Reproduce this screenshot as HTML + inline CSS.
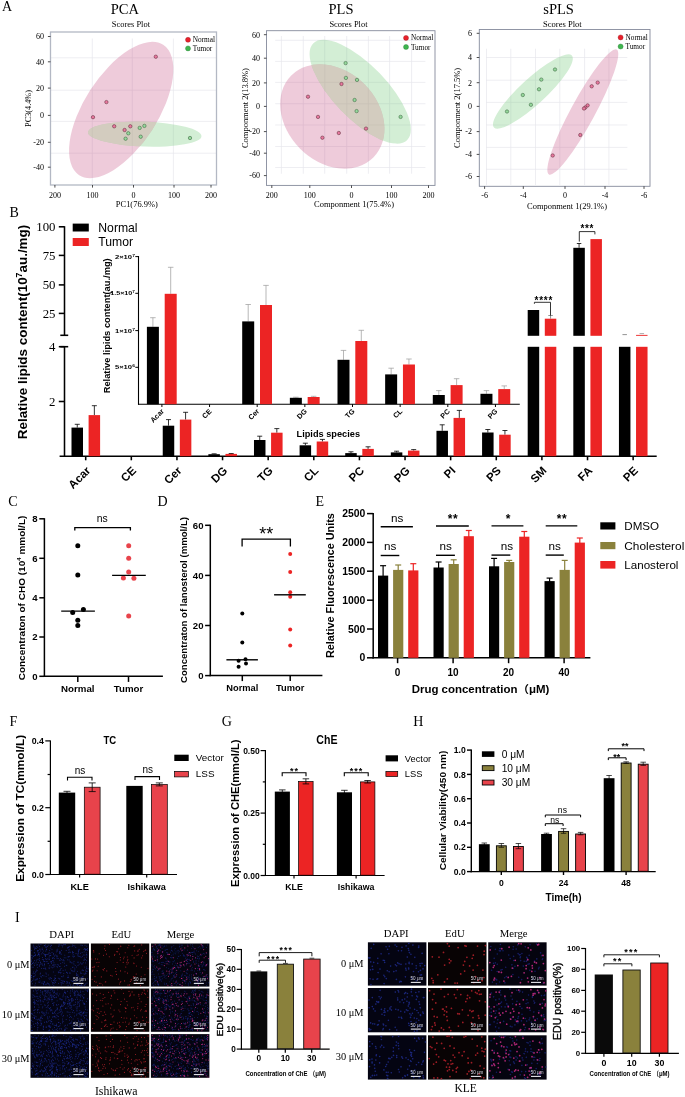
<!DOCTYPE html>
<html><head><meta charset="utf-8"><title>Figure</title>
<style>html,body{margin:0;padding:0;background:#fff}svg{display:block}text{white-space:pre}</style>
</head><body>
<svg width="685" height="1097" viewBox="0 0 685 1097">
<defs><filter id="bl" x="-5%" y="-5%" width="110%" height="110%"><feGaussianBlur stdDeviation="0.28"/></filter></defs>
<rect width="685" height="1097" fill="#fff"/>
<text x="2.00" y="10.90" font-size="14" font-family="Liberation Serif, Noto Serif CJK SC, serif" >A</text>
<line x1="92.30" y1="38.50" x2="92.30" y2="184.50" stroke="#e6e6ec" stroke-width="0.7"/>
<line x1="132.30" y1="38.50" x2="132.30" y2="184.50" stroke="#e6e6ec" stroke-width="0.7"/>
<line x1="173.40" y1="38.50" x2="173.40" y2="184.50" stroke="#e6e6ec" stroke-width="0.7"/>
<line x1="51.00" y1="57.80" x2="216.00" y2="57.80" stroke="#e6e6ec" stroke-width="0.7"/>
<line x1="51.00" y1="90.20" x2="216.00" y2="90.20" stroke="#e6e6ec" stroke-width="0.7"/>
<line x1="51.00" y1="121.40" x2="216.00" y2="121.40" stroke="#e6e6ec" stroke-width="0.7"/>
<line x1="51.00" y1="153.20" x2="216.00" y2="153.20" stroke="#e6e6ec" stroke-width="0.7"/>
<ellipse cx="121.2" cy="110" rx="77.5" ry="36.8" transform="rotate(-57.2 121.2 110)" fill="#cc6390" fill-opacity="0.335"/>
<ellipse cx="144.7" cy="134.2" rx="56.8" ry="12.4" transform="rotate(2 144.7 134.2)" fill="#7ccb82" fill-opacity="0.335"/>
<clipPath id="cpPCA"><ellipse cx="121.2" cy="110" rx="77.5" ry="36.8" transform="rotate(-57.2 121.2 110)"/></clipPath>
<clipPath id="cpPCAb"><ellipse cx="144.7" cy="134.2" rx="56.8" ry="12.4" transform="rotate(2 144.7 134.2)"/></clipPath>
<g clip-path="url(#cpPCA)"><g clip-path="url(#cpPCAb)"><rect x="50.5" y="32" width="166.0" height="153" fill="#d3ccbf"/>
<line x1="92.30" y1="38.50" x2="92.30" y2="184.50" stroke="#c9c2b6" stroke-width="0.7"/>
<line x1="132.30" y1="38.50" x2="132.30" y2="184.50" stroke="#c9c2b6" stroke-width="0.7"/>
<line x1="173.40" y1="38.50" x2="173.40" y2="184.50" stroke="#c9c2b6" stroke-width="0.7"/>
<line x1="51.00" y1="57.80" x2="216.00" y2="57.80" stroke="#c9c2b6" stroke-width="0.7"/>
<line x1="51.00" y1="90.20" x2="216.00" y2="90.20" stroke="#c9c2b6" stroke-width="0.7"/>
<line x1="51.00" y1="121.40" x2="216.00" y2="121.40" stroke="#c9c2b6" stroke-width="0.7"/>
<line x1="51.00" y1="153.20" x2="216.00" y2="153.20" stroke="#c9c2b6" stroke-width="0.7"/>
</g></g>
<circle cx="155.80" cy="56.70" r="1.7" fill="#e8789f" stroke="#55232f" stroke-width="0.5"/>
<circle cx="106.40" cy="102.10" r="1.7" fill="#e8789f" stroke="#55232f" stroke-width="0.5"/>
<circle cx="93.00" cy="117.20" r="1.7" fill="#e8789f" stroke="#55232f" stroke-width="0.5"/>
<circle cx="114.20" cy="126.30" r="1.7" fill="#e8789f" stroke="#55232f" stroke-width="0.5"/>
<circle cx="124.60" cy="130.00" r="1.7" fill="#e8789f" stroke="#55232f" stroke-width="0.5"/>
<circle cx="130.30" cy="126.30" r="1.7" fill="#e8789f" stroke="#55232f" stroke-width="0.5"/>
<circle cx="139.70" cy="127.90" r="1.7" fill="#95d79b" stroke="#2f5a35" stroke-width="0.5"/>
<circle cx="144.40" cy="125.90" r="1.7" fill="#95d79b" stroke="#2f5a35" stroke-width="0.5"/>
<circle cx="128.30" cy="133.30" r="1.7" fill="#95d79b" stroke="#2f5a35" stroke-width="0.5"/>
<circle cx="125.60" cy="138.70" r="1.7" fill="#95d79b" stroke="#2f5a35" stroke-width="0.5"/>
<circle cx="140.70" cy="136.70" r="1.7" fill="#95d79b" stroke="#2f5a35" stroke-width="0.5"/>
<circle cx="190.00" cy="138.00" r="1.7" fill="#95d79b" stroke="#2f5a35" stroke-width="0.5"/>
<rect x="50.50" y="32.00" width="166.00" height="153.00" fill="none" stroke="#b3b8c4" stroke-width="1.3"/>
<text x="124.90" y="13.90" font-size="14.5" font-family="Liberation Serif, Noto Serif CJK SC, serif" text-anchor="middle" >PCA</text>
<text x="130.90" y="26.80" font-size="8.4" font-family="Liberation Serif, Noto Serif CJK SC, serif" text-anchor="middle" textLength="38.2" lengthAdjust="spacingAndGlyphs" >Scores Plot</text>
<line x1="47.90" y1="36.50" x2="50.50" y2="36.50" stroke="#222" stroke-width="0.8"/>
<text x="44.00" y="39.30" font-size="8" font-family="Liberation Serif, Noto Serif CJK SC, serif" text-anchor="end" >60</text>
<line x1="47.90" y1="61.80" x2="50.50" y2="61.80" stroke="#222" stroke-width="0.8"/>
<text x="44.00" y="64.60" font-size="8" font-family="Liberation Serif, Noto Serif CJK SC, serif" text-anchor="end" >40</text>
<line x1="47.90" y1="88.10" x2="50.50" y2="88.10" stroke="#222" stroke-width="0.8"/>
<text x="44.00" y="90.90" font-size="8" font-family="Liberation Serif, Noto Serif CJK SC, serif" text-anchor="end" >20</text>
<line x1="47.90" y1="115.40" x2="50.50" y2="115.40" stroke="#222" stroke-width="0.8"/>
<text x="44.00" y="118.20" font-size="8" font-family="Liberation Serif, Noto Serif CJK SC, serif" text-anchor="end" >0</text>
<line x1="47.90" y1="142.30" x2="50.50" y2="142.30" stroke="#222" stroke-width="0.8"/>
<text x="44.00" y="145.10" font-size="8" font-family="Liberation Serif, Noto Serif CJK SC, serif" text-anchor="end" >-20</text>
<line x1="47.90" y1="167.20" x2="50.50" y2="167.20" stroke="#222" stroke-width="0.8"/>
<text x="44.00" y="170.00" font-size="8" font-family="Liberation Serif, Noto Serif CJK SC, serif" text-anchor="end" >-40</text>
<line x1="54.90" y1="185.00" x2="54.90" y2="187.60" stroke="#222" stroke-width="0.8"/>
<text x="54.90" y="198.30" font-size="8" font-family="Liberation Serif, Noto Serif CJK SC, serif" text-anchor="middle" >200</text>
<line x1="92.50" y1="185.00" x2="92.50" y2="187.60" stroke="#222" stroke-width="0.8"/>
<text x="92.50" y="198.30" font-size="8" font-family="Liberation Serif, Noto Serif CJK SC, serif" text-anchor="middle" >100</text>
<line x1="133.50" y1="185.00" x2="133.50" y2="187.60" stroke="#222" stroke-width="0.8"/>
<text x="133.50" y="198.30" font-size="8" font-family="Liberation Serif, Noto Serif CJK SC, serif" text-anchor="middle" >0</text>
<line x1="174.00" y1="185.00" x2="174.00" y2="187.60" stroke="#222" stroke-width="0.8"/>
<text x="174.00" y="198.30" font-size="8" font-family="Liberation Serif, Noto Serif CJK SC, serif" text-anchor="middle" >100</text>
<line x1="211.00" y1="185.00" x2="211.00" y2="187.60" stroke="#222" stroke-width="0.8"/>
<text x="211.00" y="198.30" font-size="8" font-family="Liberation Serif, Noto Serif CJK SC, serif" text-anchor="middle" >200</text>
<text x="30.60" y="108.50" font-size="8.3" font-family="Liberation Serif, Noto Serif CJK SC, serif" text-anchor="middle" transform="rotate(-90 30.60 108.50)" textLength="36.9" lengthAdjust="spacingAndGlyphs" >PC3(4.4%)</text>
<text x="136.80" y="206.50" font-size="8.4" font-family="Liberation Serif, Noto Serif CJK SC, serif" text-anchor="middle" textLength="42.0" lengthAdjust="spacingAndGlyphs" >PC1(76.9%)</text>
<circle cx="188.00" cy="39.80" r="2.5" fill="#e8202a" stroke="#9a1a20" stroke-width="0.4"/>
<circle cx="188.00" cy="48.40" r="2.5" fill="#3fb54f" stroke="#2a8038" stroke-width="0.4"/>
<text x="192.70" y="42.30" font-size="7.3" font-family="Liberation Serif, Noto Serif CJK SC, serif" >Normal</text>
<text x="192.70" y="50.90" font-size="7.3" font-family="Liberation Serif, Noto Serif CJK SC, serif" >Tumor</text>
<line x1="281.40" y1="36.00" x2="281.40" y2="173.70" stroke="#e6e6ec" stroke-width="0.7"/>
<line x1="303.30" y1="36.00" x2="303.30" y2="173.70" stroke="#e6e6ec" stroke-width="0.7"/>
<line x1="324.70" y1="36.00" x2="324.70" y2="173.70" stroke="#e6e6ec" stroke-width="0.7"/>
<line x1="346.70" y1="36.00" x2="346.70" y2="173.70" stroke="#e6e6ec" stroke-width="0.7"/>
<line x1="368.40" y1="36.00" x2="368.40" y2="173.70" stroke="#e6e6ec" stroke-width="0.7"/>
<line x1="389.60" y1="36.00" x2="389.60" y2="173.70" stroke="#e6e6ec" stroke-width="0.7"/>
<line x1="411.60" y1="36.00" x2="411.60" y2="173.70" stroke="#e6e6ec" stroke-width="0.7"/>
<line x1="275.20" y1="40.30" x2="425.40" y2="40.30" stroke="#e6e6ec" stroke-width="0.7"/>
<line x1="275.20" y1="61.40" x2="425.40" y2="61.40" stroke="#e6e6ec" stroke-width="0.7"/>
<line x1="275.20" y1="82.40" x2="425.40" y2="82.40" stroke="#e6e6ec" stroke-width="0.7"/>
<line x1="275.20" y1="103.70" x2="425.40" y2="103.70" stroke="#e6e6ec" stroke-width="0.7"/>
<line x1="275.20" y1="125.00" x2="425.40" y2="125.00" stroke="#e6e6ec" stroke-width="0.7"/>
<line x1="275.20" y1="146.50" x2="425.40" y2="146.50" stroke="#e6e6ec" stroke-width="0.7"/>
<line x1="275.20" y1="167.50" x2="425.40" y2="167.50" stroke="#e6e6ec" stroke-width="0.7"/>
<ellipse cx="332.3" cy="116.5" rx="58" ry="45.5" transform="rotate(45 332.3 116.5)" fill="#cc6390" fill-opacity="0.335"/>
<ellipse cx="360.2" cy="91.7" rx="67.4" ry="26.8" transform="rotate(46 360.2 91.7)" fill="#7ccb82" fill-opacity="0.335"/>
<clipPath id="cpPLS"><ellipse cx="332.3" cy="116.5" rx="58" ry="45.5" transform="rotate(45 332.3 116.5)"/></clipPath>
<clipPath id="cpPLSb"><ellipse cx="360.2" cy="91.7" rx="67.4" ry="26.8" transform="rotate(46 360.2 91.7)"/></clipPath>
<g clip-path="url(#cpPLS)"><g clip-path="url(#cpPLSb)"><rect x="266.5" y="30.7" width="168.5" height="154.70000000000002" fill="#d3ccbf"/>
<line x1="281.40" y1="36.00" x2="281.40" y2="173.70" stroke="#c9c2b6" stroke-width="0.7"/>
<line x1="303.30" y1="36.00" x2="303.30" y2="173.70" stroke="#c9c2b6" stroke-width="0.7"/>
<line x1="324.70" y1="36.00" x2="324.70" y2="173.70" stroke="#c9c2b6" stroke-width="0.7"/>
<line x1="346.70" y1="36.00" x2="346.70" y2="173.70" stroke="#c9c2b6" stroke-width="0.7"/>
<line x1="368.40" y1="36.00" x2="368.40" y2="173.70" stroke="#c9c2b6" stroke-width="0.7"/>
<line x1="389.60" y1="36.00" x2="389.60" y2="173.70" stroke="#c9c2b6" stroke-width="0.7"/>
<line x1="411.60" y1="36.00" x2="411.60" y2="173.70" stroke="#c9c2b6" stroke-width="0.7"/>
<line x1="275.20" y1="40.30" x2="425.40" y2="40.30" stroke="#c9c2b6" stroke-width="0.7"/>
<line x1="275.20" y1="61.40" x2="425.40" y2="61.40" stroke="#c9c2b6" stroke-width="0.7"/>
<line x1="275.20" y1="82.40" x2="425.40" y2="82.40" stroke="#c9c2b6" stroke-width="0.7"/>
<line x1="275.20" y1="103.70" x2="425.40" y2="103.70" stroke="#c9c2b6" stroke-width="0.7"/>
<line x1="275.20" y1="125.00" x2="425.40" y2="125.00" stroke="#c9c2b6" stroke-width="0.7"/>
<line x1="275.20" y1="146.50" x2="425.40" y2="146.50" stroke="#c9c2b6" stroke-width="0.7"/>
<line x1="275.20" y1="167.50" x2="425.40" y2="167.50" stroke="#c9c2b6" stroke-width="0.7"/>
</g></g>
<circle cx="345.60" cy="63.10" r="1.7" fill="#95d79b" stroke="#2f5a35" stroke-width="0.5"/>
<circle cx="345.90" cy="77.90" r="1.7" fill="#95d79b" stroke="#2f5a35" stroke-width="0.5"/>
<circle cx="357.00" cy="79.90" r="1.7" fill="#95d79b" stroke="#2f5a35" stroke-width="0.5"/>
<circle cx="354.60" cy="100.00" r="1.7" fill="#95d79b" stroke="#2f5a35" stroke-width="0.5"/>
<circle cx="356.60" cy="111.10" r="1.7" fill="#95d79b" stroke="#2f5a35" stroke-width="0.5"/>
<circle cx="400.60" cy="116.90" r="1.7" fill="#95d79b" stroke="#2f5a35" stroke-width="0.5"/>
<circle cx="341.50" cy="84.00" r="1.7" fill="#e8789f" stroke="#55232f" stroke-width="0.5"/>
<circle cx="308.00" cy="96.70" r="1.7" fill="#e8789f" stroke="#55232f" stroke-width="0.5"/>
<circle cx="318.00" cy="116.90" r="1.7" fill="#e8789f" stroke="#55232f" stroke-width="0.5"/>
<circle cx="322.40" cy="137.70" r="1.7" fill="#e8789f" stroke="#55232f" stroke-width="0.5"/>
<circle cx="338.80" cy="133.00" r="1.7" fill="#e8789f" stroke="#55232f" stroke-width="0.5"/>
<circle cx="366.00" cy="128.60" r="1.7" fill="#e8789f" stroke="#55232f" stroke-width="0.5"/>
<rect x="266.50" y="30.70" width="168.50" height="154.70" fill="none" stroke="#858b9c" stroke-width="0.9"/>
<text x="341.00" y="13.90" font-size="14.5" font-family="Liberation Serif, Noto Serif CJK SC, serif" text-anchor="middle" >PLS</text>
<text x="348.45" y="26.80" font-size="8.4" font-family="Liberation Serif, Noto Serif CJK SC, serif" text-anchor="middle" textLength="38.1" lengthAdjust="spacingAndGlyphs" >Scores Plot</text>
<line x1="263.90" y1="34.70" x2="266.50" y2="34.70" stroke="#222" stroke-width="0.8"/>
<text x="260.00" y="37.50" font-size="8" font-family="Liberation Serif, Noto Serif CJK SC, serif" text-anchor="end" >60</text>
<line x1="263.90" y1="58.20" x2="266.50" y2="58.20" stroke="#222" stroke-width="0.8"/>
<text x="260.00" y="61.00" font-size="8" font-family="Liberation Serif, Noto Serif CJK SC, serif" text-anchor="end" >40</text>
<line x1="263.90" y1="82.90" x2="266.50" y2="82.90" stroke="#222" stroke-width="0.8"/>
<text x="260.00" y="85.70" font-size="8" font-family="Liberation Serif, Noto Serif CJK SC, serif" text-anchor="end" >20</text>
<line x1="263.90" y1="106.40" x2="266.50" y2="106.40" stroke="#222" stroke-width="0.8"/>
<text x="260.00" y="109.20" font-size="8" font-family="Liberation Serif, Noto Serif CJK SC, serif" text-anchor="end" >0</text>
<line x1="263.90" y1="131.60" x2="266.50" y2="131.60" stroke="#222" stroke-width="0.8"/>
<text x="260.00" y="134.40" font-size="8" font-family="Liberation Serif, Noto Serif CJK SC, serif" text-anchor="end" >-20</text>
<line x1="263.90" y1="153.20" x2="266.50" y2="153.20" stroke="#222" stroke-width="0.8"/>
<text x="260.00" y="156.00" font-size="8" font-family="Liberation Serif, Noto Serif CJK SC, serif" text-anchor="end" >-40</text>
<line x1="263.90" y1="175.60" x2="266.50" y2="175.60" stroke="#222" stroke-width="0.8"/>
<text x="260.00" y="178.40" font-size="8" font-family="Liberation Serif, Noto Serif CJK SC, serif" text-anchor="end" >-60</text>
<line x1="271.80" y1="185.40" x2="271.80" y2="188.00" stroke="#222" stroke-width="0.8"/>
<text x="271.80" y="198.30" font-size="8" font-family="Liberation Serif, Noto Serif CJK SC, serif" text-anchor="middle" >200</text>
<line x1="309.80" y1="185.40" x2="309.80" y2="188.00" stroke="#222" stroke-width="0.8"/>
<text x="309.80" y="198.30" font-size="8" font-family="Liberation Serif, Noto Serif CJK SC, serif" text-anchor="middle" >100</text>
<line x1="351.50" y1="185.40" x2="351.50" y2="188.00" stroke="#222" stroke-width="0.8"/>
<text x="351.50" y="198.30" font-size="8" font-family="Liberation Serif, Noto Serif CJK SC, serif" text-anchor="middle" >0</text>
<line x1="391.50" y1="185.40" x2="391.50" y2="188.00" stroke="#222" stroke-width="0.8"/>
<text x="391.50" y="198.30" font-size="8" font-family="Liberation Serif, Noto Serif CJK SC, serif" text-anchor="middle" >100</text>
<line x1="428.50" y1="185.40" x2="428.50" y2="188.00" stroke="#222" stroke-width="0.8"/>
<text x="428.50" y="198.30" font-size="8" font-family="Liberation Serif, Noto Serif CJK SC, serif" text-anchor="middle" >200</text>
<text x="247.60" y="108.05" font-size="8.3" font-family="Liberation Serif, Noto Serif CJK SC, serif" text-anchor="middle" transform="rotate(-90 247.60 108.05)" textLength="80.0" lengthAdjust="spacingAndGlyphs" >Componment 2(13.8%)</text>
<text x="354.00" y="206.50" font-size="8.4" font-family="Liberation Serif, Noto Serif CJK SC, serif" text-anchor="middle" textLength="80.0" lengthAdjust="spacingAndGlyphs" >Componment 1(75.4%)</text>
<circle cx="406.00" cy="37.90" r="2.5" fill="#e8202a" stroke="#9a1a20" stroke-width="0.4"/>
<circle cx="406.00" cy="47.00" r="2.5" fill="#3fb54f" stroke="#2a8038" stroke-width="0.4"/>
<text x="410.90" y="40.40" font-size="7.3" font-family="Liberation Serif, Noto Serif CJK SC, serif" >Normal</text>
<text x="410.90" y="49.50" font-size="7.3" font-family="Liberation Serif, Noto Serif CJK SC, serif" >Tumor</text>
<line x1="486.50" y1="48.70" x2="486.50" y2="185.00" stroke="#e6e6ec" stroke-width="0.7"/>
<line x1="510.80" y1="48.70" x2="510.80" y2="185.00" stroke="#e6e6ec" stroke-width="0.7"/>
<line x1="535.50" y1="48.70" x2="535.50" y2="185.00" stroke="#e6e6ec" stroke-width="0.7"/>
<line x1="559.80" y1="48.70" x2="559.80" y2="185.00" stroke="#e6e6ec" stroke-width="0.7"/>
<line x1="584.60" y1="48.70" x2="584.60" y2="185.00" stroke="#e6e6ec" stroke-width="0.7"/>
<line x1="608.90" y1="48.70" x2="608.90" y2="185.00" stroke="#e6e6ec" stroke-width="0.7"/>
<line x1="486.00" y1="57.50" x2="627.30" y2="57.50" stroke="#e6e6ec" stroke-width="0.7"/>
<line x1="486.00" y1="80.20" x2="627.30" y2="80.20" stroke="#e6e6ec" stroke-width="0.7"/>
<line x1="486.00" y1="102.40" x2="627.30" y2="102.40" stroke="#e6e6ec" stroke-width="0.7"/>
<line x1="486.00" y1="125.00" x2="627.30" y2="125.00" stroke="#e6e6ec" stroke-width="0.7"/>
<line x1="486.00" y1="147.40" x2="627.30" y2="147.40" stroke="#e6e6ec" stroke-width="0.7"/>
<line x1="486.00" y1="169.30" x2="627.30" y2="169.30" stroke="#e6e6ec" stroke-width="0.7"/>
<ellipse cx="532.9" cy="91.5" rx="53" ry="12.9" transform="rotate(-42.7 532.9 91.5)" fill="#7ccb82" fill-opacity="0.335"/>
<ellipse cx="582.8" cy="112" rx="71" ry="12" transform="rotate(-61.5 582.8 112)" fill="#cc6390" fill-opacity="0.335"/>
<clipPath id="cpsPLS"><ellipse cx="532.9" cy="91.5" rx="53" ry="12.9" transform="rotate(-42.7 532.9 91.5)"/></clipPath>
<clipPath id="cpsPLSb"><ellipse cx="582.8" cy="112" rx="71" ry="12" transform="rotate(-61.5 582.8 112)"/></clipPath>
<g clip-path="url(#cpsPLS)"><g clip-path="url(#cpsPLSb)"><rect x="479.3" y="29.5" width="170.7" height="156.8" fill="#d3ccbf"/>
<line x1="486.50" y1="48.70" x2="486.50" y2="185.00" stroke="#c9c2b6" stroke-width="0.7"/>
<line x1="510.80" y1="48.70" x2="510.80" y2="185.00" stroke="#c9c2b6" stroke-width="0.7"/>
<line x1="535.50" y1="48.70" x2="535.50" y2="185.00" stroke="#c9c2b6" stroke-width="0.7"/>
<line x1="559.80" y1="48.70" x2="559.80" y2="185.00" stroke="#c9c2b6" stroke-width="0.7"/>
<line x1="584.60" y1="48.70" x2="584.60" y2="185.00" stroke="#c9c2b6" stroke-width="0.7"/>
<line x1="608.90" y1="48.70" x2="608.90" y2="185.00" stroke="#c9c2b6" stroke-width="0.7"/>
<line x1="486.00" y1="57.50" x2="627.30" y2="57.50" stroke="#c9c2b6" stroke-width="0.7"/>
<line x1="486.00" y1="80.20" x2="627.30" y2="80.20" stroke="#c9c2b6" stroke-width="0.7"/>
<line x1="486.00" y1="102.40" x2="627.30" y2="102.40" stroke="#c9c2b6" stroke-width="0.7"/>
<line x1="486.00" y1="125.00" x2="627.30" y2="125.00" stroke="#c9c2b6" stroke-width="0.7"/>
<line x1="486.00" y1="147.40" x2="627.30" y2="147.40" stroke="#c9c2b6" stroke-width="0.7"/>
<line x1="486.00" y1="169.30" x2="627.30" y2="169.30" stroke="#c9c2b6" stroke-width="0.7"/>
</g></g>
<circle cx="555.00" cy="69.50" r="1.7" fill="#95d79b" stroke="#2f5a35" stroke-width="0.5"/>
<circle cx="541.30" cy="79.60" r="1.7" fill="#95d79b" stroke="#2f5a35" stroke-width="0.5"/>
<circle cx="539.00" cy="89.30" r="1.7" fill="#95d79b" stroke="#2f5a35" stroke-width="0.5"/>
<circle cx="522.80" cy="95.00" r="1.7" fill="#95d79b" stroke="#2f5a35" stroke-width="0.5"/>
<circle cx="530.90" cy="104.80" r="1.7" fill="#95d79b" stroke="#2f5a35" stroke-width="0.5"/>
<circle cx="507.00" cy="111.50" r="1.7" fill="#95d79b" stroke="#2f5a35" stroke-width="0.5"/>
<circle cx="597.70" cy="82.60" r="1.7" fill="#e8789f" stroke="#55232f" stroke-width="0.5"/>
<circle cx="591.70" cy="86.30" r="1.7" fill="#e8789f" stroke="#55232f" stroke-width="0.5"/>
<circle cx="587.60" cy="105.40" r="1.7" fill="#e8789f" stroke="#55232f" stroke-width="0.5"/>
<circle cx="585.30" cy="107.50" r="1.7" fill="#e8789f" stroke="#55232f" stroke-width="0.5"/>
<circle cx="584.00" cy="108.50" r="1.7" fill="#e8789f" stroke="#55232f" stroke-width="0.5"/>
<circle cx="580.30" cy="135.00" r="1.7" fill="#e8789f" stroke="#55232f" stroke-width="0.5"/>
<circle cx="552.70" cy="155.50" r="1.7" fill="#e8789f" stroke="#55232f" stroke-width="0.5"/>
<rect x="479.30" y="29.50" width="170.70" height="156.80" fill="none" stroke="#858b9c" stroke-width="0.9"/>
<text x="558.60" y="13.90" font-size="14.5" font-family="Liberation Serif, Noto Serif CJK SC, serif" text-anchor="middle" >sPLS</text>
<text x="562.35" y="26.80" font-size="8.4" font-family="Liberation Serif, Noto Serif CJK SC, serif" text-anchor="middle" textLength="38.7" lengthAdjust="spacingAndGlyphs" >Scores Plot</text>
<line x1="476.70" y1="33.30" x2="479.30" y2="33.30" stroke="#222" stroke-width="0.8"/>
<text x="472.00" y="36.10" font-size="8" font-family="Liberation Serif, Noto Serif CJK SC, serif" text-anchor="end" >6</text>
<line x1="476.70" y1="57.50" x2="479.30" y2="57.50" stroke="#222" stroke-width="0.8"/>
<text x="472.00" y="60.30" font-size="8" font-family="Liberation Serif, Noto Serif CJK SC, serif" text-anchor="end" >4</text>
<line x1="476.70" y1="82.70" x2="479.30" y2="82.70" stroke="#222" stroke-width="0.8"/>
<text x="472.00" y="85.50" font-size="8" font-family="Liberation Serif, Noto Serif CJK SC, serif" text-anchor="end" >2</text>
<line x1="476.70" y1="106.40" x2="479.30" y2="106.40" stroke="#222" stroke-width="0.8"/>
<text x="472.00" y="109.20" font-size="8" font-family="Liberation Serif, Noto Serif CJK SC, serif" text-anchor="end" >0</text>
<line x1="476.70" y1="131.60" x2="479.30" y2="131.60" stroke="#222" stroke-width="0.8"/>
<text x="472.00" y="134.40" font-size="8" font-family="Liberation Serif, Noto Serif CJK SC, serif" text-anchor="end" >-2</text>
<line x1="476.70" y1="154.40" x2="479.30" y2="154.40" stroke="#222" stroke-width="0.8"/>
<text x="472.00" y="157.20" font-size="8" font-family="Liberation Serif, Noto Serif CJK SC, serif" text-anchor="end" >-4</text>
<line x1="476.70" y1="176.50" x2="479.30" y2="176.50" stroke="#222" stroke-width="0.8"/>
<text x="472.00" y="179.30" font-size="8" font-family="Liberation Serif, Noto Serif CJK SC, serif" text-anchor="end" >-6</text>
<line x1="484.60" y1="186.30" x2="484.60" y2="188.90" stroke="#222" stroke-width="0.8"/>
<text x="484.60" y="198.30" font-size="8" font-family="Liberation Serif, Noto Serif CJK SC, serif" text-anchor="middle" >-6</text>
<line x1="523.30" y1="186.30" x2="523.30" y2="188.90" stroke="#222" stroke-width="0.8"/>
<text x="523.30" y="198.30" font-size="8" font-family="Liberation Serif, Noto Serif CJK SC, serif" text-anchor="middle" >-4</text>
<line x1="565.00" y1="186.30" x2="565.00" y2="188.90" stroke="#222" stroke-width="0.8"/>
<text x="565.00" y="198.30" font-size="8" font-family="Liberation Serif, Noto Serif CJK SC, serif" text-anchor="middle" >0</text>
<line x1="605.00" y1="186.30" x2="605.00" y2="188.90" stroke="#222" stroke-width="0.8"/>
<text x="605.00" y="198.30" font-size="8" font-family="Liberation Serif, Noto Serif CJK SC, serif" text-anchor="middle" >-4</text>
<line x1="644.00" y1="186.30" x2="644.00" y2="188.90" stroke="#222" stroke-width="0.8"/>
<text x="644.00" y="198.30" font-size="8" font-family="Liberation Serif, Noto Serif CJK SC, serif" text-anchor="middle" >-6</text>
<text x="460.00" y="107.90" font-size="8.3" font-family="Liberation Serif, Noto Serif CJK SC, serif" text-anchor="middle" transform="rotate(-90 460.00 107.90)" textLength="80.0" lengthAdjust="spacingAndGlyphs" >Componment 2(17.5%)</text>
<text x="567.00" y="208.70" font-size="8.4" font-family="Liberation Serif, Noto Serif CJK SC, serif" text-anchor="middle" textLength="80.0" lengthAdjust="spacingAndGlyphs" >Componment 1(29.1%)</text>
<circle cx="620.60" cy="37.40" r="2.5" fill="#e8202a" stroke="#9a1a20" stroke-width="0.4"/>
<circle cx="620.60" cy="46.50" r="2.5" fill="#3fb54f" stroke="#2a8038" stroke-width="0.4"/>
<text x="625.50" y="39.90" font-size="7.3" font-family="Liberation Serif, Noto Serif CJK SC, serif" >Normal</text>
<text x="625.50" y="49.00" font-size="7.3" font-family="Liberation Serif, Noto Serif CJK SC, serif" >Tumor</text>
<text x="9.40" y="216.90" font-size="14" font-family="Liberation Serif, Noto Serif CJK SC, serif" >B</text>
<line x1="64.50" y1="226.20" x2="64.50" y2="335.30" stroke="#000" stroke-width="1.55"/>
<line x1="60.30" y1="335.30" x2="68.20" y2="335.30" stroke="#000" stroke-width="1.55"/>
<line x1="58.80" y1="226.80" x2="64.50" y2="226.80" stroke="#000" stroke-width="1.55"/>
<text x="55.50" y="231.00" font-size="12.8" font-family="Liberation Serif, Noto Serif CJK SC, serif" text-anchor="end" >100</text>
<line x1="58.80" y1="255.40" x2="64.50" y2="255.40" stroke="#000" stroke-width="1.55"/>
<text x="55.50" y="259.60" font-size="12.8" font-family="Liberation Serif, Noto Serif CJK SC, serif" text-anchor="end" >75</text>
<line x1="58.80" y1="284.90" x2="64.50" y2="284.90" stroke="#000" stroke-width="1.55"/>
<text x="55.50" y="289.10" font-size="12.8" font-family="Liberation Serif, Noto Serif CJK SC, serif" text-anchor="end" >50</text>
<line x1="58.80" y1="313.40" x2="64.50" y2="313.40" stroke="#000" stroke-width="1.55"/>
<text x="55.50" y="317.60" font-size="12.8" font-family="Liberation Serif, Noto Serif CJK SC, serif" text-anchor="end" >25</text>
<line x1="64.50" y1="346.70" x2="64.50" y2="456.80" stroke="#000" stroke-width="1.55"/>
<line x1="60.30" y1="346.70" x2="68.20" y2="346.70" stroke="#000" stroke-width="1.55"/>
<line x1="58.80" y1="346.70" x2="64.50" y2="346.70" stroke="#000" stroke-width="1.55"/>
<text x="55.50" y="350.90" font-size="12.8" font-family="Liberation Serif, Noto Serif CJK SC, serif" text-anchor="end" >4</text>
<line x1="58.80" y1="401.50" x2="64.50" y2="401.50" stroke="#000" stroke-width="1.55"/>
<text x="55.50" y="405.70" font-size="12.8" font-family="Liberation Serif, Noto Serif CJK SC, serif" text-anchor="end" >2</text>
<line x1="59.60" y1="456.20" x2="656.70" y2="456.20" stroke="#000" stroke-width="1.55"/>
<text x="26.8" y="332" font-size="13" font-family="Liberation Sans, Noto Sans CJK SC, sans-serif" font-weight="bold" text-anchor="middle" transform="rotate(-90 26.8 332)" textLength="214.5" lengthAdjust="spacingAndGlyphs">Relative lipids content(10<tspan font-size="8.5" dy="-4.5">7</tspan><tspan dy="4.5">au./mg)</tspan></text>
<rect x="72.70" y="223.60" width="16.10" height="7.90" fill="#000"/>
<rect x="72.70" y="238.00" width="16.10" height="8.00" fill="#ec2424"/>
<text x="98.30" y="231.60" font-size="12.2" font-family="Liberation Sans, Noto Sans CJK SC, sans-serif" >Normal</text>
<text x="98.30" y="246.20" font-size="12.2" font-family="Liberation Sans, Noto Sans CJK SC, sans-serif" >Tumor</text>
<line x1="85.70" y1="456.20" x2="85.70" y2="460.30" stroke="#000" stroke-width="1.55"/>
<text x="91.20" y="471.30" font-size="11.5" font-family="Liberation Sans, Noto Sans CJK SC, sans-serif" text-anchor="end" font-weight="bold" transform="rotate(-45 91.20 471.30)" >Acar</text>
<line x1="77.25" y1="424.30" x2="77.25" y2="427.60" stroke="#000" stroke-width="0.8"/>
<line x1="74.75" y1="424.30" x2="79.75" y2="424.30" stroke="#000" stroke-width="0.8"/>
<rect x="71.50" y="427.60" width="11.50" height="28.60" fill="#000"/>
<line x1="94.35" y1="405.70" x2="94.35" y2="415.10" stroke="#000" stroke-width="0.8"/>
<line x1="91.85" y1="405.70" x2="96.85" y2="405.70" stroke="#000" stroke-width="0.8"/>
<rect x="88.60" y="415.10" width="11.50" height="41.10" fill="#ec2424"/>
<line x1="131.32" y1="456.20" x2="131.32" y2="460.30" stroke="#000" stroke-width="1.55"/>
<text x="136.82" y="471.30" font-size="11.5" font-family="Liberation Sans, Noto Sans CJK SC, sans-serif" text-anchor="end" font-weight="bold" transform="rotate(-45 136.82 471.30)" >CE</text>
<line x1="176.94" y1="456.20" x2="176.94" y2="460.30" stroke="#000" stroke-width="1.55"/>
<text x="182.44" y="471.30" font-size="11.5" font-family="Liberation Sans, Noto Sans CJK SC, sans-serif" text-anchor="end" font-weight="bold" transform="rotate(-45 182.44 471.30)" >Cer</text>
<line x1="168.49" y1="419.60" x2="168.49" y2="425.70" stroke="#000" stroke-width="0.8"/>
<line x1="165.99" y1="419.60" x2="170.99" y2="419.60" stroke="#000" stroke-width="0.8"/>
<rect x="162.74" y="425.70" width="11.50" height="30.50" fill="#000"/>
<line x1="185.59" y1="412.30" x2="185.59" y2="419.60" stroke="#000" stroke-width="0.8"/>
<line x1="183.09" y1="412.30" x2="188.09" y2="412.30" stroke="#000" stroke-width="0.8"/>
<rect x="179.84" y="419.60" width="11.50" height="36.60" fill="#ec2424"/>
<line x1="222.56" y1="456.20" x2="222.56" y2="460.30" stroke="#000" stroke-width="1.55"/>
<text x="228.06" y="471.30" font-size="11.5" font-family="Liberation Sans, Noto Sans CJK SC, sans-serif" text-anchor="end" font-weight="bold" transform="rotate(-45 228.06 471.30)" >DG</text>
<line x1="214.11" y1="453.80" x2="214.11" y2="454.20" stroke="#000" stroke-width="0.8"/>
<line x1="211.61" y1="453.80" x2="216.61" y2="453.80" stroke="#000" stroke-width="0.8"/>
<rect x="208.36" y="454.20" width="11.50" height="2.00" fill="#000"/>
<line x1="231.21" y1="453.50" x2="231.21" y2="453.90" stroke="#000" stroke-width="0.8"/>
<line x1="228.71" y1="453.50" x2="233.71" y2="453.50" stroke="#000" stroke-width="0.8"/>
<rect x="225.46" y="453.90" width="11.50" height="2.30" fill="#ec2424"/>
<line x1="268.18" y1="456.20" x2="268.18" y2="460.30" stroke="#000" stroke-width="1.55"/>
<text x="273.68" y="471.30" font-size="11.5" font-family="Liberation Sans, Noto Sans CJK SC, sans-serif" text-anchor="end" font-weight="bold" transform="rotate(-45 273.68 471.30)" >TG</text>
<line x1="259.73" y1="436.20" x2="259.73" y2="440.00" stroke="#000" stroke-width="0.8"/>
<line x1="257.23" y1="436.20" x2="262.23" y2="436.20" stroke="#000" stroke-width="0.8"/>
<rect x="253.98" y="440.00" width="11.50" height="16.20" fill="#000"/>
<line x1="276.83" y1="428.60" x2="276.83" y2="432.70" stroke="#000" stroke-width="0.8"/>
<line x1="274.33" y1="428.60" x2="279.33" y2="428.60" stroke="#000" stroke-width="0.8"/>
<rect x="271.08" y="432.70" width="11.50" height="23.50" fill="#ec2424"/>
<line x1="313.80" y1="456.20" x2="313.80" y2="460.30" stroke="#000" stroke-width="1.55"/>
<text x="319.30" y="471.30" font-size="11.5" font-family="Liberation Sans, Noto Sans CJK SC, sans-serif" text-anchor="end" font-weight="bold" transform="rotate(-45 319.30 471.30)" >CL</text>
<line x1="305.35" y1="443.20" x2="305.35" y2="445.30" stroke="#000" stroke-width="0.8"/>
<line x1="302.85" y1="443.20" x2="307.85" y2="443.20" stroke="#000" stroke-width="0.8"/>
<rect x="299.60" y="445.30" width="11.50" height="10.90" fill="#000"/>
<line x1="322.45" y1="439.40" x2="322.45" y2="441.50" stroke="#000" stroke-width="0.8"/>
<line x1="319.95" y1="439.40" x2="324.95" y2="439.40" stroke="#000" stroke-width="0.8"/>
<rect x="316.70" y="441.50" width="11.50" height="14.70" fill="#ec2424"/>
<line x1="359.42" y1="456.20" x2="359.42" y2="460.30" stroke="#000" stroke-width="1.55"/>
<text x="364.92" y="471.30" font-size="11.5" font-family="Liberation Sans, Noto Sans CJK SC, sans-serif" text-anchor="end" font-weight="bold" transform="rotate(-45 364.92 471.30)" >PC</text>
<line x1="350.97" y1="451.80" x2="350.97" y2="453.10" stroke="#000" stroke-width="0.8"/>
<line x1="348.47" y1="451.80" x2="353.47" y2="451.80" stroke="#000" stroke-width="0.8"/>
<rect x="345.22" y="453.10" width="11.50" height="3.10" fill="#000"/>
<line x1="368.07" y1="446.80" x2="368.07" y2="448.90" stroke="#000" stroke-width="0.8"/>
<line x1="365.57" y1="446.80" x2="370.57" y2="446.80" stroke="#000" stroke-width="0.8"/>
<rect x="362.32" y="448.90" width="11.50" height="7.30" fill="#ec2424"/>
<line x1="405.04" y1="456.20" x2="405.04" y2="460.30" stroke="#000" stroke-width="1.55"/>
<text x="410.54" y="471.30" font-size="11.5" font-family="Liberation Sans, Noto Sans CJK SC, sans-serif" text-anchor="end" font-weight="bold" transform="rotate(-45 410.54 471.30)" >PG</text>
<line x1="396.59" y1="451.20" x2="396.59" y2="452.40" stroke="#000" stroke-width="0.8"/>
<line x1="394.09" y1="451.20" x2="399.09" y2="451.20" stroke="#000" stroke-width="0.8"/>
<rect x="390.84" y="452.40" width="11.50" height="3.80" fill="#000"/>
<line x1="413.69" y1="449.60" x2="413.69" y2="450.60" stroke="#000" stroke-width="0.8"/>
<line x1="411.19" y1="449.60" x2="416.19" y2="449.60" stroke="#000" stroke-width="0.8"/>
<rect x="407.94" y="450.60" width="11.50" height="5.60" fill="#ec2424"/>
<line x1="450.66" y1="456.20" x2="450.66" y2="460.30" stroke="#000" stroke-width="1.55"/>
<text x="456.16" y="471.30" font-size="11.5" font-family="Liberation Sans, Noto Sans CJK SC, sans-serif" text-anchor="end" font-weight="bold" transform="rotate(-45 456.16 471.30)" >PI</text>
<line x1="442.21" y1="424.80" x2="442.21" y2="430.80" stroke="#000" stroke-width="0.8"/>
<line x1="439.71" y1="424.80" x2="444.71" y2="424.80" stroke="#000" stroke-width="0.8"/>
<rect x="436.46" y="430.80" width="11.50" height="25.40" fill="#000"/>
<line x1="459.31" y1="410.40" x2="459.31" y2="417.90" stroke="#000" stroke-width="0.8"/>
<line x1="456.81" y1="410.40" x2="461.81" y2="410.40" stroke="#000" stroke-width="0.8"/>
<rect x="453.56" y="417.90" width="11.50" height="38.30" fill="#ec2424"/>
<line x1="496.28" y1="456.20" x2="496.28" y2="460.30" stroke="#000" stroke-width="1.55"/>
<text x="501.78" y="471.30" font-size="11.5" font-family="Liberation Sans, Noto Sans CJK SC, sans-serif" text-anchor="end" font-weight="bold" transform="rotate(-45 501.78 471.30)" >PS</text>
<line x1="487.83" y1="429.50" x2="487.83" y2="432.50" stroke="#000" stroke-width="0.8"/>
<line x1="485.33" y1="429.50" x2="490.33" y2="429.50" stroke="#000" stroke-width="0.8"/>
<rect x="482.08" y="432.50" width="11.50" height="23.70" fill="#000"/>
<line x1="504.93" y1="430.50" x2="504.93" y2="434.70" stroke="#000" stroke-width="0.8"/>
<line x1="502.43" y1="430.50" x2="507.43" y2="430.50" stroke="#000" stroke-width="0.8"/>
<rect x="499.18" y="434.70" width="11.50" height="21.50" fill="#ec2424"/>
<line x1="541.90" y1="456.20" x2="541.90" y2="460.30" stroke="#000" stroke-width="1.55"/>
<text x="547.40" y="471.30" font-size="11.5" font-family="Liberation Sans, Noto Sans CJK SC, sans-serif" text-anchor="end" font-weight="bold" transform="rotate(-45 547.40 471.30)" >SM</text>
<rect x="527.70" y="346.80" width="11.50" height="109.40" fill="#000"/>
<rect x="544.80" y="346.80" width="11.50" height="109.40" fill="#ec2424"/>
<line x1="587.52" y1="456.20" x2="587.52" y2="460.30" stroke="#000" stroke-width="1.55"/>
<text x="593.02" y="471.30" font-size="11.5" font-family="Liberation Sans, Noto Sans CJK SC, sans-serif" text-anchor="end" font-weight="bold" transform="rotate(-45 593.02 471.30)" >FA</text>
<rect x="573.32" y="346.80" width="11.50" height="109.40" fill="#000"/>
<rect x="590.42" y="346.80" width="11.50" height="109.40" fill="#ec2424"/>
<line x1="633.14" y1="456.20" x2="633.14" y2="460.30" stroke="#000" stroke-width="1.55"/>
<text x="638.64" y="471.30" font-size="11.5" font-family="Liberation Sans, Noto Sans CJK SC, sans-serif" text-anchor="end" font-weight="bold" transform="rotate(-45 638.64 471.30)" >PE</text>
<rect x="618.94" y="346.80" width="11.50" height="109.40" fill="#000"/>
<rect x="636.04" y="346.80" width="11.50" height="109.40" fill="#ec2424"/>
<rect x="527.70" y="310.00" width="11.50" height="25.80" fill="#000"/>
<line x1="550.55" y1="315.50" x2="550.55" y2="318.70" stroke="#666" stroke-width="0.7"/>
<line x1="548.30" y1="315.50" x2="552.80" y2="315.50" stroke="#666" stroke-width="0.7"/>
<rect x="544.80" y="318.70" width="11.50" height="17.10" fill="#ec2424"/>
<polyline fill="none" stroke="#000" stroke-width="0.8" points="534.40,303.80 534.40,302.30 550.50,302.30 550.50,315.50"/>
<text x="543.80" y="303.60" font-size="10" font-family="Liberation Sans, Noto Sans CJK SC, sans-serif" text-anchor="middle" font-weight="bold" letter-spacing="0.7">****</text>
<line x1="579.07" y1="243.50" x2="579.07" y2="247.80" stroke="#000" stroke-width="0.8"/>
<line x1="576.82" y1="243.50" x2="581.32" y2="243.50" stroke="#000" stroke-width="0.8"/>
<rect x="573.32" y="247.80" width="11.50" height="88.00" fill="#000"/>
<rect x="590.42" y="239.10" width="11.50" height="96.70" fill="#ec2424"/>
<polyline fill="none" stroke="#000" stroke-width="0.8" points="579.30,241.60 579.30,231.60 594.90,231.60 594.90,234.40"/>
<text x="587.30" y="232.20" font-size="10" font-family="Liberation Sans, Noto Sans CJK SC, sans-serif" text-anchor="middle" font-weight="bold" letter-spacing="0.7">***</text>
<line x1="622.44" y1="334.60" x2="626.94" y2="334.60" stroke="#666" stroke-width="0.7"/>
<rect x="636.04" y="334.90" width="11.50" height="0.90" fill="#ec2424"/>
<line x1="639.54" y1="333.60" x2="644.04" y2="333.60" stroke="#888" stroke-width="0.7"/>
<line x1="138.50" y1="256.00" x2="138.50" y2="404.70" stroke="#000" stroke-width="1.1"/>
<line x1="138.00" y1="404.20" x2="519.80" y2="404.20" stroke="#000" stroke-width="1.1"/>
<line x1="135.30" y1="256.60" x2="138.50" y2="256.60" stroke="#000" stroke-width="1.0"/>
<text x="134.9" y="258.7" font-size="5.9" font-family="Liberation Sans, Noto Sans CJK SC, sans-serif" font-weight="bold" text-anchor="end" textLength="20" lengthAdjust="spacingAndGlyphs">2×10<tspan font-size="3.8" dy="-2.2">7</tspan></text>
<line x1="135.30" y1="293.30" x2="138.50" y2="293.30" stroke="#000" stroke-width="1.0"/>
<text x="134.9" y="295.4" font-size="5.9" font-family="Liberation Sans, Noto Sans CJK SC, sans-serif" font-weight="bold" text-anchor="end" textLength="24.7" lengthAdjust="spacingAndGlyphs">1.5×10<tspan font-size="3.8" dy="-2.2">7</tspan></text>
<line x1="135.30" y1="330.60" x2="138.50" y2="330.60" stroke="#000" stroke-width="1.0"/>
<text x="134.9" y="332.7" font-size="5.9" font-family="Liberation Sans, Noto Sans CJK SC, sans-serif" font-weight="bold" text-anchor="end" textLength="20" lengthAdjust="spacingAndGlyphs">1×10<tspan font-size="3.8" dy="-2.2">7</tspan></text>
<line x1="135.30" y1="367.30" x2="138.50" y2="367.30" stroke="#000" stroke-width="1.0"/>
<text x="134.9" y="369.4" font-size="5.9" font-family="Liberation Sans, Noto Sans CJK SC, sans-serif" font-weight="bold" text-anchor="end" textLength="20" lengthAdjust="spacingAndGlyphs">5×10<tspan font-size="3.8" dy="-2.2">6</tspan></text>
<text x="109.60" y="325.80" font-size="9.3" font-family="Liberation Sans, Noto Sans CJK SC, sans-serif" text-anchor="middle" font-weight="bold" transform="rotate(-90 109.60 325.80)" textLength="135.0" lengthAdjust="spacingAndGlyphs" >Relative lipids content(au./mg)</text>
<line x1="161.90" y1="404.20" x2="161.90" y2="407.00" stroke="#000" stroke-width="1.0"/>
<text x="164.50" y="411.80" font-size="7.2" font-family="Liberation Sans, Noto Sans CJK SC, sans-serif" text-anchor="end" font-weight="bold" transform="rotate(-45 164.50 411.80)" >Acar</text>
<line x1="152.90" y1="317.70" x2="152.90" y2="326.80" stroke="#9a9a9a" stroke-width="0.7"/>
<line x1="150.15" y1="317.70" x2="155.65" y2="317.70" stroke="#9a9a9a" stroke-width="0.7"/>
<rect x="146.90" y="326.80" width="12.00" height="77.40" fill="#000"/>
<line x1="170.70" y1="267.30" x2="170.70" y2="293.80" stroke="#9a9a9a" stroke-width="0.7"/>
<line x1="167.95" y1="267.30" x2="173.45" y2="267.30" stroke="#9a9a9a" stroke-width="0.7"/>
<rect x="164.70" y="293.80" width="12.00" height="110.40" fill="#ec2424"/>
<line x1="209.55" y1="404.20" x2="209.55" y2="407.00" stroke="#000" stroke-width="1.0"/>
<text x="212.15" y="411.80" font-size="7.2" font-family="Liberation Sans, Noto Sans CJK SC, sans-serif" text-anchor="end" font-weight="bold" transform="rotate(-45 212.15 411.80)" >CE</text>
<line x1="257.20" y1="404.20" x2="257.20" y2="407.00" stroke="#000" stroke-width="1.0"/>
<text x="259.80" y="411.80" font-size="7.2" font-family="Liberation Sans, Noto Sans CJK SC, sans-serif" text-anchor="end" font-weight="bold" transform="rotate(-45 259.80 411.80)" >Cer</text>
<line x1="248.20" y1="304.50" x2="248.20" y2="321.40" stroke="#9a9a9a" stroke-width="0.7"/>
<line x1="245.45" y1="304.50" x2="250.95" y2="304.50" stroke="#9a9a9a" stroke-width="0.7"/>
<rect x="242.20" y="321.40" width="12.00" height="82.80" fill="#000"/>
<line x1="266.00" y1="285.40" x2="266.00" y2="305.00" stroke="#9a9a9a" stroke-width="0.7"/>
<line x1="263.25" y1="285.40" x2="268.75" y2="285.40" stroke="#9a9a9a" stroke-width="0.7"/>
<rect x="260.00" y="305.00" width="12.00" height="99.20" fill="#ec2424"/>
<line x1="304.85" y1="404.20" x2="304.85" y2="407.00" stroke="#000" stroke-width="1.0"/>
<text x="307.45" y="411.80" font-size="7.2" font-family="Liberation Sans, Noto Sans CJK SC, sans-serif" text-anchor="end" font-weight="bold" transform="rotate(-45 307.45 411.80)" >DG</text>
<line x1="295.85" y1="397.20" x2="295.85" y2="397.80" stroke="#9a9a9a" stroke-width="0.7"/>
<line x1="293.10" y1="397.20" x2="298.60" y2="397.20" stroke="#9a9a9a" stroke-width="0.7"/>
<rect x="289.85" y="397.80" width="12.00" height="6.40" fill="#000"/>
<line x1="313.65" y1="396.30" x2="313.65" y2="397.00" stroke="#9a9a9a" stroke-width="0.7"/>
<line x1="310.90" y1="396.30" x2="316.40" y2="396.30" stroke="#9a9a9a" stroke-width="0.7"/>
<rect x="307.65" y="397.00" width="12.00" height="7.20" fill="#ec2424"/>
<line x1="352.50" y1="404.20" x2="352.50" y2="407.00" stroke="#000" stroke-width="1.0"/>
<text x="355.10" y="411.80" font-size="7.2" font-family="Liberation Sans, Noto Sans CJK SC, sans-serif" text-anchor="end" font-weight="bold" transform="rotate(-45 355.10 411.80)" >TG</text>
<line x1="343.50" y1="350.40" x2="343.50" y2="359.80" stroke="#9a9a9a" stroke-width="0.7"/>
<line x1="340.75" y1="350.40" x2="346.25" y2="350.40" stroke="#9a9a9a" stroke-width="0.7"/>
<rect x="337.50" y="359.80" width="12.00" height="44.40" fill="#000"/>
<line x1="361.30" y1="330.30" x2="361.30" y2="341.00" stroke="#9a9a9a" stroke-width="0.7"/>
<line x1="358.55" y1="330.30" x2="364.05" y2="330.30" stroke="#9a9a9a" stroke-width="0.7"/>
<rect x="355.30" y="341.00" width="12.00" height="63.20" fill="#ec2424"/>
<line x1="400.15" y1="404.20" x2="400.15" y2="407.00" stroke="#000" stroke-width="1.0"/>
<text x="402.75" y="411.80" font-size="7.2" font-family="Liberation Sans, Noto Sans CJK SC, sans-serif" text-anchor="end" font-weight="bold" transform="rotate(-45 402.75 411.80)" >CL</text>
<line x1="391.15" y1="368.20" x2="391.15" y2="374.40" stroke="#9a9a9a" stroke-width="0.7"/>
<line x1="388.40" y1="368.20" x2="393.90" y2="368.20" stroke="#9a9a9a" stroke-width="0.7"/>
<rect x="385.15" y="374.40" width="12.00" height="29.80" fill="#000"/>
<line x1="408.95" y1="359.00" x2="408.95" y2="364.50" stroke="#9a9a9a" stroke-width="0.7"/>
<line x1="406.20" y1="359.00" x2="411.70" y2="359.00" stroke="#9a9a9a" stroke-width="0.7"/>
<rect x="402.95" y="364.50" width="12.00" height="39.70" fill="#ec2424"/>
<line x1="447.80" y1="404.20" x2="447.80" y2="407.00" stroke="#000" stroke-width="1.0"/>
<text x="450.40" y="411.80" font-size="7.2" font-family="Liberation Sans, Noto Sans CJK SC, sans-serif" text-anchor="end" font-weight="bold" transform="rotate(-45 450.40 411.80)" >PC</text>
<line x1="438.80" y1="390.60" x2="438.80" y2="395.00" stroke="#9a9a9a" stroke-width="0.7"/>
<line x1="436.05" y1="390.60" x2="441.55" y2="390.60" stroke="#9a9a9a" stroke-width="0.7"/>
<rect x="432.80" y="395.00" width="12.00" height="9.20" fill="#000"/>
<line x1="456.60" y1="378.70" x2="456.60" y2="385.10" stroke="#9a9a9a" stroke-width="0.7"/>
<line x1="453.85" y1="378.70" x2="459.35" y2="378.70" stroke="#9a9a9a" stroke-width="0.7"/>
<rect x="450.60" y="385.10" width="12.00" height="19.10" fill="#ec2424"/>
<line x1="495.45" y1="404.20" x2="495.45" y2="407.00" stroke="#000" stroke-width="1.0"/>
<text x="498.05" y="411.80" font-size="7.2" font-family="Liberation Sans, Noto Sans CJK SC, sans-serif" text-anchor="end" font-weight="bold" transform="rotate(-45 498.05 411.80)" >PG</text>
<line x1="486.45" y1="390.60" x2="486.45" y2="393.80" stroke="#9a9a9a" stroke-width="0.7"/>
<line x1="483.70" y1="390.60" x2="489.20" y2="390.60" stroke="#9a9a9a" stroke-width="0.7"/>
<rect x="480.45" y="393.80" width="12.00" height="10.40" fill="#000"/>
<line x1="504.25" y1="385.90" x2="504.25" y2="389.10" stroke="#9a9a9a" stroke-width="0.7"/>
<line x1="501.50" y1="385.90" x2="507.00" y2="385.90" stroke="#9a9a9a" stroke-width="0.7"/>
<rect x="498.25" y="389.10" width="12.00" height="15.10" fill="#ec2424"/>
<text x="328.30" y="437.20" font-size="9.2" font-family="Liberation Sans, Noto Sans CJK SC, sans-serif" text-anchor="middle" font-weight="bold" textLength="63.5" lengthAdjust="spacingAndGlyphs" >Lipids species</text>
<text x="8.20" y="506.00" font-size="14" font-family="Liberation Serif, Noto Serif CJK SC, serif" >C</text>
<line x1="44.40" y1="518.20" x2="44.40" y2="676.90" stroke="#000" stroke-width="1.5"/>
<line x1="43.80" y1="676.30" x2="162.90" y2="676.30" stroke="#000" stroke-width="1.5"/>
<line x1="39.30" y1="518.80" x2="44.40" y2="518.80" stroke="#000" stroke-width="1.5"/>
<text x="37.60" y="522.20" font-size="9.6" font-family="Liberation Sans, Noto Sans CJK SC, sans-serif" text-anchor="end" font-weight="bold" >8</text>
<line x1="39.30" y1="558.30" x2="44.40" y2="558.30" stroke="#000" stroke-width="1.5"/>
<text x="37.60" y="561.70" font-size="9.6" font-family="Liberation Sans, Noto Sans CJK SC, sans-serif" text-anchor="end" font-weight="bold" >6</text>
<line x1="39.30" y1="597.80" x2="44.40" y2="597.80" stroke="#000" stroke-width="1.5"/>
<text x="37.60" y="601.20" font-size="9.6" font-family="Liberation Sans, Noto Sans CJK SC, sans-serif" text-anchor="end" font-weight="bold" >4</text>
<line x1="39.30" y1="637.00" x2="44.40" y2="637.00" stroke="#000" stroke-width="1.5"/>
<text x="37.60" y="640.40" font-size="9.6" font-family="Liberation Sans, Noto Sans CJK SC, sans-serif" text-anchor="end" font-weight="bold" >2</text>
<line x1="39.30" y1="676.30" x2="44.40" y2="676.30" stroke="#000" stroke-width="1.5"/>
<text x="37.60" y="679.70" font-size="9.6" font-family="Liberation Sans, Noto Sans CJK SC, sans-serif" text-anchor="end" font-weight="bold" >0</text>
<line x1="77.80" y1="676.30" x2="77.80" y2="681.90" stroke="#000" stroke-width="1.5"/>
<text x="77.80" y="692.40" font-size="9.7" font-family="Liberation Sans, Noto Sans CJK SC, sans-serif" text-anchor="middle" font-weight="bold" >Normal</text>
<line x1="128.50" y1="676.30" x2="128.50" y2="681.90" stroke="#000" stroke-width="1.5"/>
<text x="128.50" y="692.40" font-size="9.7" font-family="Liberation Sans, Noto Sans CJK SC, sans-serif" text-anchor="middle" font-weight="bold" >Tumor</text>
<text x="24.8" y="598" font-size="9.9" font-family="Liberation Sans, Noto Sans CJK SC, sans-serif" font-weight="bold" text-anchor="middle" transform="rotate(-90 24.8 598)" textLength="164.7" lengthAdjust="spacingAndGlyphs">Concentraton of CHO (10<tspan font-size="6" dy="-3.5">4</tspan><tspan dy="3.5"> mmol/L)</tspan></text>
<circle cx="77.80" cy="545.70" r="2.5" fill="#000"/>
<circle cx="77.80" cy="575.10" r="2.5" fill="#000"/>
<circle cx="83.40" cy="609.50" r="2.5" fill="#000"/>
<circle cx="72.70" cy="612.50" r="2.5" fill="#000"/>
<circle cx="77.80" cy="620.20" r="2.5" fill="#000"/>
<circle cx="77.80" cy="625.60" r="2.5" fill="#000"/>
<line x1="61.20" y1="611.10" x2="94.90" y2="611.10" stroke="#000" stroke-width="1.4"/>
<circle cx="128.70" cy="545.70" r="2.5" fill="#e8434b"/>
<circle cx="128.70" cy="558.30" r="2.5" fill="#e8434b"/>
<circle cx="128.70" cy="572.10" r="2.5" fill="#e8434b"/>
<circle cx="123.40" cy="577.90" r="2.5" fill="#e8434b"/>
<circle cx="133.90" cy="578.20" r="2.5" fill="#e8434b"/>
<circle cx="128.70" cy="616.00" r="2.5" fill="#e8434b"/>
<line x1="112.10" y1="575.40" x2="145.80" y2="575.40" stroke="#000" stroke-width="1.4"/>
<polyline fill="none" stroke="#000" stroke-width="1.3" points="74.80,530.50 74.80,527.70 130.40,527.70 130.40,530.50"/>
<text x="102.30" y="522.30" font-size="10.4" font-family="Liberation Sans, Noto Sans CJK SC, sans-serif" text-anchor="middle" >ns</text>
<text x="157.40" y="505.70" font-size="14" font-family="Liberation Serif, Noto Serif CJK SC, serif" >D</text>
<line x1="210.30" y1="524.70" x2="210.30" y2="676.20" stroke="#000" stroke-width="1.5"/>
<line x1="209.70" y1="675.60" x2="322.40" y2="675.60" stroke="#000" stroke-width="1.5"/>
<line x1="205.10" y1="525.30" x2="210.30" y2="525.30" stroke="#000" stroke-width="1.5"/>
<text x="203.50" y="528.70" font-size="9.6" font-family="Liberation Sans, Noto Sans CJK SC, sans-serif" text-anchor="end" font-weight="bold" >60</text>
<line x1="205.10" y1="575.40" x2="210.30" y2="575.40" stroke="#000" stroke-width="1.5"/>
<text x="203.50" y="578.80" font-size="9.6" font-family="Liberation Sans, Noto Sans CJK SC, sans-serif" text-anchor="end" font-weight="bold" >40</text>
<line x1="205.10" y1="625.50" x2="210.30" y2="625.50" stroke="#000" stroke-width="1.5"/>
<text x="203.50" y="628.90" font-size="9.6" font-family="Liberation Sans, Noto Sans CJK SC, sans-serif" text-anchor="end" font-weight="bold" >20</text>
<line x1="205.10" y1="675.60" x2="210.30" y2="675.60" stroke="#000" stroke-width="1.5"/>
<text x="203.50" y="679.00" font-size="9.6" font-family="Liberation Sans, Noto Sans CJK SC, sans-serif" text-anchor="end" font-weight="bold" >0</text>
<line x1="242.30" y1="675.60" x2="242.30" y2="681.10" stroke="#000" stroke-width="1.5"/>
<text x="242.30" y="691.00" font-size="9.3" font-family="Liberation Sans, Noto Sans CJK SC, sans-serif" text-anchor="middle" font-weight="bold" >Normal</text>
<line x1="290.20" y1="675.60" x2="290.20" y2="681.10" stroke="#000" stroke-width="1.5"/>
<text x="290.20" y="691.00" font-size="9.3" font-family="Liberation Sans, Noto Sans CJK SC, sans-serif" text-anchor="middle" font-weight="bold" >Tumor</text>
<text x="186.60" y="600.00" font-size="9.6" font-family="Liberation Sans, Noto Sans CJK SC, sans-serif" text-anchor="middle" font-weight="bold" transform="rotate(-90 186.60 600.00)" textLength="166.0" lengthAdjust="spacingAndGlyphs" >Concentraton of lanosterol (mmol/L)</text>
<circle cx="242.30" cy="613.60" r="2.0" fill="#000"/>
<circle cx="242.30" cy="642.40" r="2.0" fill="#000"/>
<circle cx="245.50" cy="659.30" r="2.0" fill="#000"/>
<circle cx="238.60" cy="660.80" r="2.0" fill="#000"/>
<circle cx="246.00" cy="663.50" r="2.0" fill="#000"/>
<circle cx="238.60" cy="666.70" r="2.0" fill="#000"/>
<line x1="226.40" y1="659.80" x2="257.90" y2="659.80" stroke="#000" stroke-width="1.4"/>
<circle cx="290.20" cy="554.10" r="2.0" fill="#ec2424"/>
<circle cx="290.20" cy="571.90" r="2.0" fill="#ec2424"/>
<circle cx="290.20" cy="592.30" r="2.0" fill="#ec2424"/>
<circle cx="290.20" cy="596.70" r="2.0" fill="#ec2424"/>
<circle cx="290.20" cy="629.50" r="2.0" fill="#ec2424"/>
<circle cx="290.20" cy="645.60" r="2.0" fill="#ec2424"/>
<line x1="274.10" y1="594.80" x2="305.80" y2="594.80" stroke="#000" stroke-width="1.4"/>
<polyline fill="none" stroke="#000" stroke-width="1.3" points="242.10,546.60 242.10,539.20 290.40,539.20 290.40,546.60"/>
<text x="266.30" y="539.60" font-size="18" font-family="Liberation Sans, Noto Sans CJK SC, sans-serif" text-anchor="middle" >**</text>
<text x="315.40" y="505.70" font-size="14" font-family="Liberation Serif, Noto Serif CJK SC, serif" >E</text>
<line x1="373.20" y1="513.00" x2="373.20" y2="658.40" stroke="#000" stroke-width="1.5"/>
<line x1="372.60" y1="657.80" x2="590.40" y2="657.80" stroke="#000" stroke-width="1.5"/>
<line x1="367.00" y1="513.60" x2="373.20" y2="513.60" stroke="#000" stroke-width="1.5"/>
<text x="365.30" y="517.20" font-size="10.4" font-family="Liberation Sans, Noto Sans CJK SC, sans-serif" text-anchor="end" font-weight="bold" >2500</text>
<line x1="367.00" y1="542.40" x2="373.20" y2="542.40" stroke="#000" stroke-width="1.5"/>
<text x="365.30" y="546.00" font-size="10.4" font-family="Liberation Sans, Noto Sans CJK SC, sans-serif" text-anchor="end" font-weight="bold" >2000</text>
<line x1="367.00" y1="571.20" x2="373.20" y2="571.20" stroke="#000" stroke-width="1.5"/>
<text x="365.30" y="574.80" font-size="10.4" font-family="Liberation Sans, Noto Sans CJK SC, sans-serif" text-anchor="end" font-weight="bold" >1500</text>
<line x1="367.00" y1="600.20" x2="373.20" y2="600.20" stroke="#000" stroke-width="1.5"/>
<text x="365.30" y="603.80" font-size="10.4" font-family="Liberation Sans, Noto Sans CJK SC, sans-serif" text-anchor="end" font-weight="bold" >1000</text>
<line x1="367.00" y1="629.00" x2="373.20" y2="629.00" stroke="#000" stroke-width="1.5"/>
<text x="365.30" y="632.60" font-size="10.4" font-family="Liberation Sans, Noto Sans CJK SC, sans-serif" text-anchor="end" font-weight="bold" >500</text>
<line x1="367.00" y1="657.80" x2="373.20" y2="657.80" stroke="#000" stroke-width="1.5"/>
<text x="365.30" y="661.40" font-size="10.4" font-family="Liberation Sans, Noto Sans CJK SC, sans-serif" text-anchor="end" font-weight="bold" >0</text>
<text x="334.30" y="585.60" font-size="10.8" font-family="Liberation Sans, Noto Sans CJK SC, sans-serif" text-anchor="middle" font-weight="bold" transform="rotate(-90 334.30 585.60)" textLength="145.0" lengthAdjust="spacingAndGlyphs" >Relative Fluorescence Units</text>
<line x1="397.60" y1="657.80" x2="397.60" y2="663.20" stroke="#000" stroke-width="1.5"/>
<text x="397.60" y="675.70" font-size="10" font-family="Liberation Sans, Noto Sans CJK SC, sans-serif" text-anchor="middle" font-weight="bold" >0</text>
<line x1="383.10" y1="565.70" x2="383.10" y2="576.60" stroke="#000" stroke-width="1.2"/>
<line x1="380.10" y1="565.70" x2="386.10" y2="565.70" stroke="#000" stroke-width="1.2"/>
<rect x="378.00" y="575.60" width="10.20" height="82.20" fill="#000"/>
<line x1="398.20" y1="565.00" x2="398.20" y2="570.90" stroke="#8a813c" stroke-width="1.2"/>
<line x1="395.20" y1="565.00" x2="401.20" y2="565.00" stroke="#8a813c" stroke-width="1.2"/>
<rect x="393.10" y="569.90" width="10.20" height="87.90" fill="#8a813c"/>
<line x1="413.30" y1="563.70" x2="413.30" y2="571.40" stroke="#ec2424" stroke-width="1.2"/>
<line x1="410.30" y1="563.70" x2="416.30" y2="563.70" stroke="#ec2424" stroke-width="1.2"/>
<rect x="408.20" y="570.40" width="10.20" height="87.40" fill="#ec2424"/>
<line x1="453.10" y1="657.80" x2="453.10" y2="663.20" stroke="#000" stroke-width="1.5"/>
<text x="453.10" y="675.70" font-size="10" font-family="Liberation Sans, Noto Sans CJK SC, sans-serif" text-anchor="middle" font-weight="bold" >10</text>
<line x1="438.60" y1="562.00" x2="438.60" y2="568.50" stroke="#000" stroke-width="1.2"/>
<line x1="435.60" y1="562.00" x2="441.60" y2="562.00" stroke="#000" stroke-width="1.2"/>
<rect x="433.50" y="567.50" width="10.20" height="90.30" fill="#000"/>
<line x1="453.70" y1="559.80" x2="453.70" y2="565.00" stroke="#8a813c" stroke-width="1.2"/>
<line x1="450.70" y1="559.80" x2="456.70" y2="559.80" stroke="#8a813c" stroke-width="1.2"/>
<rect x="448.60" y="564.00" width="10.20" height="93.80" fill="#8a813c"/>
<line x1="468.80" y1="530.50" x2="468.80" y2="537.20" stroke="#ec2424" stroke-width="1.2"/>
<line x1="465.80" y1="530.50" x2="471.80" y2="530.50" stroke="#ec2424" stroke-width="1.2"/>
<rect x="463.70" y="536.20" width="10.20" height="121.60" fill="#ec2424"/>
<line x1="508.60" y1="657.80" x2="508.60" y2="663.20" stroke="#000" stroke-width="1.5"/>
<text x="508.60" y="675.70" font-size="10" font-family="Liberation Sans, Noto Sans CJK SC, sans-serif" text-anchor="middle" font-weight="bold" >20</text>
<line x1="494.10" y1="558.40" x2="494.10" y2="567.30" stroke="#000" stroke-width="1.2"/>
<line x1="491.10" y1="558.40" x2="497.10" y2="558.40" stroke="#000" stroke-width="1.2"/>
<rect x="489.00" y="566.30" width="10.20" height="91.50" fill="#000"/>
<line x1="509.20" y1="560.40" x2="509.20" y2="563.00" stroke="#8a813c" stroke-width="1.2"/>
<line x1="506.20" y1="560.40" x2="512.20" y2="560.40" stroke="#8a813c" stroke-width="1.2"/>
<rect x="504.10" y="562.00" width="10.20" height="95.80" fill="#8a813c"/>
<line x1="524.30" y1="531.50" x2="524.30" y2="537.70" stroke="#ec2424" stroke-width="1.2"/>
<line x1="521.30" y1="531.50" x2="527.30" y2="531.50" stroke="#ec2424" stroke-width="1.2"/>
<rect x="519.20" y="536.70" width="10.20" height="121.10" fill="#ec2424"/>
<line x1="564.10" y1="657.80" x2="564.10" y2="663.20" stroke="#000" stroke-width="1.5"/>
<text x="564.10" y="675.70" font-size="10" font-family="Liberation Sans, Noto Sans CJK SC, sans-serif" text-anchor="middle" font-weight="bold" >40</text>
<line x1="549.60" y1="578.10" x2="549.60" y2="582.10" stroke="#000" stroke-width="1.2"/>
<line x1="546.60" y1="578.10" x2="552.60" y2="578.10" stroke="#000" stroke-width="1.2"/>
<rect x="544.50" y="581.10" width="10.20" height="76.70" fill="#000"/>
<line x1="564.70" y1="560.40" x2="564.70" y2="570.90" stroke="#8a813c" stroke-width="1.2"/>
<line x1="561.70" y1="560.40" x2="567.70" y2="560.40" stroke="#8a813c" stroke-width="1.2"/>
<rect x="559.60" y="569.90" width="10.20" height="87.90" fill="#8a813c"/>
<line x1="579.80" y1="538.00" x2="579.80" y2="543.60" stroke="#ec2424" stroke-width="1.2"/>
<line x1="576.80" y1="538.00" x2="582.80" y2="538.00" stroke="#ec2424" stroke-width="1.2"/>
<rect x="574.70" y="542.60" width="10.20" height="115.20" fill="#ec2424"/>
<text x="480.5" y="693.2" font-size="10.6" font-family="Liberation Sans, Noto Sans CJK SC, sans-serif" font-weight="bold" text-anchor="middle" textLength="137.7" lengthAdjust="spacingAndGlyphs">Drug concentration（μM)</text>
<line x1="380.70" y1="526.80" x2="412.90" y2="526.80" stroke="#000" stroke-width="1.4"/>
<text x="397.30" y="521.50" font-size="11.7" font-family="Liberation Sans, Noto Sans CJK SC, sans-serif" text-anchor="middle" >ns</text>
<line x1="380.70" y1="555.50" x2="399.30" y2="555.50" stroke="#000" stroke-width="1.4"/>
<text x="390.10" y="550.20" font-size="11.7" font-family="Liberation Sans, Noto Sans CJK SC, sans-serif" text-anchor="middle" >ns</text>
<line x1="436.00" y1="526.00" x2="468.80" y2="526.00" stroke="#000" stroke-width="1.4"/>
<text x="452.90" y="523.40" font-size="12" font-family="Liberation Sans, Noto Sans CJK SC, sans-serif" text-anchor="middle" font-weight="bold" letter-spacing="0.6">**</text>
<line x1="436.00" y1="555.30" x2="454.90" y2="555.30" stroke="#000" stroke-width="1.4"/>
<text x="445.70" y="550.00" font-size="11.7" font-family="Liberation Sans, Noto Sans CJK SC, sans-serif" text-anchor="middle" >ns</text>
<line x1="491.50" y1="525.90" x2="523.40" y2="525.90" stroke="#000" stroke-width="1.4"/>
<text x="508.30" y="523.30" font-size="12" font-family="Liberation Sans, Noto Sans CJK SC, sans-serif" text-anchor="middle" font-weight="bold" letter-spacing="0.6">*</text>
<line x1="491.50" y1="555.10" x2="510.30" y2="555.10" stroke="#000" stroke-width="1.4"/>
<text x="507.00" y="549.80" font-size="11.7" font-family="Liberation Sans, Noto Sans CJK SC, sans-serif" text-anchor="middle" >ns</text>
<line x1="545.70" y1="525.90" x2="577.30" y2="525.90" stroke="#000" stroke-width="1.4"/>
<text x="562.10" y="523.30" font-size="12" font-family="Liberation Sans, Noto Sans CJK SC, sans-serif" text-anchor="middle" font-weight="bold" letter-spacing="0.6">**</text>
<line x1="545.70" y1="555.10" x2="563.80" y2="555.10" stroke="#000" stroke-width="1.4"/>
<text x="554.60" y="549.80" font-size="11.7" font-family="Liberation Sans, Noto Sans CJK SC, sans-serif" text-anchor="middle" >ns</text>
<rect x="600.30" y="522.30" width="15.10" height="7.20" fill="#000"/>
<rect x="600.30" y="542.00" width="15.10" height="7.20" fill="#8a813c"/>
<rect x="600.30" y="561.00" width="15.10" height="7.60" fill="#ec2424"/>
<text x="624.30" y="529.80" font-size="11.6" font-family="Liberation Sans, Noto Sans CJK SC, sans-serif" >DMSO</text>
<text x="624.30" y="549.50" font-size="11.6" font-family="Liberation Sans, Noto Sans CJK SC, sans-serif" textLength="60.0" lengthAdjust="spacingAndGlyphs" >Cholesterol</text>
<text x="624.30" y="568.90" font-size="11.6" font-family="Liberation Sans, Noto Sans CJK SC, sans-serif" >Lanosterol</text>
<text x="9.40" y="725.80" font-size="14" font-family="Liberation Serif, Noto Serif CJK SC, serif" >F</text>
<line x1="50.40" y1="740.40" x2="50.40" y2="875.00" stroke="#000" stroke-width="1.2"/>
<line x1="49.90" y1="874.50" x2="177.00" y2="874.50" stroke="#000" stroke-width="1.2"/>
<line x1="45.30" y1="740.90" x2="50.40" y2="740.90" stroke="#000" stroke-width="1.2"/>
<text x="43.90" y="744.00" font-size="8.8" font-family="Liberation Sans, Noto Sans CJK SC, sans-serif" text-anchor="end" font-weight="bold" >0.4</text>
<line x1="45.30" y1="807.70" x2="50.40" y2="807.70" stroke="#000" stroke-width="1.2"/>
<text x="43.90" y="810.80" font-size="8.8" font-family="Liberation Sans, Noto Sans CJK SC, sans-serif" text-anchor="end" font-weight="bold" >0.2</text>
<line x1="45.30" y1="874.50" x2="50.40" y2="874.50" stroke="#000" stroke-width="1.2"/>
<text x="43.90" y="877.60" font-size="8.8" font-family="Liberation Sans, Noto Sans CJK SC, sans-serif" text-anchor="end" font-weight="bold" >0.0</text>
<line x1="47.60" y1="774.50" x2="50.40" y2="774.50" stroke="#000" stroke-width="1.2"/>
<line x1="47.60" y1="841.30" x2="50.40" y2="841.30" stroke="#000" stroke-width="1.2"/>
<line x1="79.60" y1="874.50" x2="79.60" y2="877.60" stroke="#000" stroke-width="1.2"/>
<text x="79.60" y="889.70" font-size="9.2" font-family="Liberation Sans, Noto Sans CJK SC, sans-serif" text-anchor="middle" font-weight="bold" >KLE</text>
<line x1="146.70" y1="874.50" x2="146.70" y2="877.60" stroke="#000" stroke-width="1.2"/>
<text x="146.70" y="889.70" font-size="9.2" font-family="Liberation Sans, Noto Sans CJK SC, sans-serif" text-anchor="middle" font-weight="bold" >Ishikawa</text>
<text x="109.80" y="743.60" font-size="11.6" font-family="Liberation Sans, Noto Sans CJK SC, sans-serif" text-anchor="middle" font-weight="bold" textLength="12.8" lengthAdjust="spacingAndGlyphs" >TC</text>
<text x="24.40" y="808.30" font-size="11.8" font-family="Liberation Sans, Noto Sans CJK SC, sans-serif" text-anchor="middle" font-weight="bold" transform="rotate(-90 24.40 808.30)" textLength="147.0" lengthAdjust="spacingAndGlyphs" >Expression of TC(mmol/L)</text>
<rect x="58.80" y="792.60" width="16.40" height="81.90" fill="#000"/>
<line x1="67.00" y1="791.30" x2="67.00" y2="793.00" stroke="#000" stroke-width="0.8"/>
<line x1="63.50" y1="791.30" x2="70.50" y2="791.30" stroke="#000" stroke-width="0.8"/>
<rect x="84.30" y="787.20" width="15.80" height="87.00" fill="#e8434b" stroke="#000" stroke-width="0.7"/>
<line x1="92.20" y1="782.90" x2="92.20" y2="791.60" stroke="#000" stroke-width="0.8"/>
<line x1="88.70" y1="782.90" x2="95.70" y2="782.90" stroke="#000" stroke-width="0.8"/>
<line x1="88.70" y1="791.60" x2="95.70" y2="791.60" stroke="#000" stroke-width="0.8"/>
<rect x="126.30" y="785.90" width="16.40" height="88.60" fill="#000"/>
<rect x="151.40" y="784.50" width="15.90" height="89.70" fill="#e8434b" stroke="#000" stroke-width="0.7"/>
<line x1="159.30" y1="782.90" x2="159.30" y2="785.90" stroke="#000" stroke-width="0.8"/>
<line x1="155.80" y1="782.90" x2="162.80" y2="782.90" stroke="#000" stroke-width="0.8"/>
<line x1="155.80" y1="785.90" x2="162.80" y2="785.90" stroke="#000" stroke-width="0.8"/>
<polyline fill="none" stroke="#000" stroke-width="1.1" points="67.50,780.50 67.50,777.20 92.00,777.20 92.00,780.50"/>
<text x="80.00" y="773.80" font-size="10" font-family="Liberation Sans, Noto Sans CJK SC, sans-serif" text-anchor="middle" >ns</text>
<polyline fill="none" stroke="#000" stroke-width="1.1" points="135.00,779.90 135.00,776.60 159.50,776.60 159.50,779.90"/>
<text x="147.80" y="773.20" font-size="10" font-family="Liberation Sans, Noto Sans CJK SC, sans-serif" text-anchor="middle" >ns</text>
<rect x="174.30" y="754.70" width="14.40" height="6.30" fill="#000"/>
<rect x="174.60" y="771.40" width="13.80" height="5.50" fill="#e8434b" stroke="#000" stroke-width="0.7"/>
<text x="195.80" y="761.40" font-size="9.9" font-family="Liberation Sans, Noto Sans CJK SC, sans-serif" >Vector</text>
<text x="195.80" y="777.20" font-size="9.9" font-family="Liberation Sans, Noto Sans CJK SC, sans-serif" >LSS</text>
<text x="221.80" y="725.80" font-size="14" font-family="Liberation Serif, Noto Serif CJK SC, serif" >G</text>
<line x1="265.40" y1="750.10" x2="265.40" y2="876.00" stroke="#000" stroke-width="1.2"/>
<line x1="264.90" y1="875.50" x2="384.60" y2="875.50" stroke="#000" stroke-width="1.2"/>
<line x1="260.60" y1="750.60" x2="265.40" y2="750.60" stroke="#000" stroke-width="1.2"/>
<text x="259.70" y="753.60" font-size="8.5" font-family="Liberation Sans, Noto Sans CJK SC, sans-serif" text-anchor="end" font-weight="bold" >0.50</text>
<line x1="260.60" y1="813.10" x2="265.40" y2="813.10" stroke="#000" stroke-width="1.2"/>
<text x="259.70" y="816.10" font-size="8.5" font-family="Liberation Sans, Noto Sans CJK SC, sans-serif" text-anchor="end" font-weight="bold" >0.25</text>
<line x1="260.60" y1="875.50" x2="265.40" y2="875.50" stroke="#000" stroke-width="1.2"/>
<text x="259.70" y="878.50" font-size="8.5" font-family="Liberation Sans, Noto Sans CJK SC, sans-serif" text-anchor="end" font-weight="bold" >0.00</text>
<line x1="262.80" y1="781.90" x2="265.40" y2="781.90" stroke="#000" stroke-width="1.2"/>
<line x1="262.80" y1="844.30" x2="265.40" y2="844.30" stroke="#000" stroke-width="1.2"/>
<line x1="294.00" y1="875.50" x2="294.00" y2="878.60" stroke="#000" stroke-width="1.2"/>
<text x="294.00" y="889.70" font-size="8.8" font-family="Liberation Sans, Noto Sans CJK SC, sans-serif" text-anchor="middle" font-weight="bold" >KLE</text>
<line x1="356.10" y1="875.50" x2="356.10" y2="878.60" stroke="#000" stroke-width="1.2"/>
<text x="356.10" y="889.70" font-size="8.8" font-family="Liberation Sans, Noto Sans CJK SC, sans-serif" text-anchor="middle" font-weight="bold" >Ishikawa</text>
<text x="326.90" y="743.60" font-size="12.4" font-family="Liberation Sans, Noto Sans CJK SC, sans-serif" text-anchor="middle" font-weight="bold" textLength="21.2" lengthAdjust="spacingAndGlyphs" >ChE</text>
<text x="239.20" y="813.20" font-size="11.1" font-family="Liberation Sans, Noto Sans CJK SC, sans-serif" text-anchor="middle" font-weight="bold" transform="rotate(-90 239.20 813.20)" textLength="147.5" lengthAdjust="spacingAndGlyphs" >Expression of CHE(mmol/L)</text>
<rect x="274.80" y="791.60" width="15.10" height="83.90" fill="#000"/>
<line x1="282.30" y1="789.90" x2="282.30" y2="792.00" stroke="#000" stroke-width="0.8"/>
<line x1="279.05" y1="789.90" x2="285.55" y2="789.90" stroke="#000" stroke-width="0.8"/>
<rect x="298.60" y="781.50" width="14.50" height="93.70" fill="#ec2424" stroke="#000" stroke-width="0.7"/>
<line x1="305.90" y1="778.80" x2="305.90" y2="783.90" stroke="#000" stroke-width="0.8"/>
<line x1="302.65" y1="778.80" x2="309.15" y2="778.80" stroke="#000" stroke-width="0.8"/>
<line x1="302.65" y1="783.90" x2="309.15" y2="783.90" stroke="#000" stroke-width="0.8"/>
<rect x="336.90" y="792.30" width="15.10" height="83.20" fill="#000"/>
<line x1="344.40" y1="790.30" x2="344.40" y2="793.00" stroke="#000" stroke-width="0.8"/>
<line x1="341.15" y1="790.30" x2="347.65" y2="790.30" stroke="#000" stroke-width="0.8"/>
<rect x="360.40" y="781.90" width="14.50" height="93.30" fill="#ec2424" stroke="#000" stroke-width="0.7"/>
<line x1="367.60" y1="780.50" x2="367.60" y2="783.00" stroke="#000" stroke-width="0.8"/>
<line x1="364.35" y1="780.50" x2="370.85" y2="780.50" stroke="#000" stroke-width="0.8"/>
<line x1="364.35" y1="783.00" x2="370.85" y2="783.00" stroke="#000" stroke-width="0.8"/>
<polyline fill="none" stroke="#000" stroke-width="1.1" points="282.20,776.20 282.20,772.80 306.00,772.80 306.00,776.20"/>
<text x="294.50" y="773.90" font-size="9" font-family="Liberation Sans, Noto Sans CJK SC, sans-serif" text-anchor="middle" font-weight="bold" letter-spacing="1">**</text>
<polyline fill="none" stroke="#000" stroke-width="1.1" points="344.30,776.20 344.30,772.80 368.20,772.80 368.20,776.20"/>
<text x="356.60" y="773.90" font-size="9" font-family="Liberation Sans, Noto Sans CJK SC, sans-serif" text-anchor="middle" font-weight="bold" letter-spacing="1">***</text>
<rect x="385.60" y="755.30" width="12.40" height="6.10" fill="#000"/>
<rect x="385.90" y="771.40" width="11.80" height="5.10" fill="#ec2424" stroke="#000" stroke-width="0.7"/>
<text x="404.80" y="762.00" font-size="9.3" font-family="Liberation Sans, Noto Sans CJK SC, sans-serif" >Vector</text>
<text x="404.80" y="776.50" font-size="9.3" font-family="Liberation Sans, Noto Sans CJK SC, sans-serif" >LSS</text>
<text x="413.20" y="725.80" font-size="14" font-family="Liberation Serif, Noto Serif CJK SC, serif" >H</text>
<line x1="471.30" y1="749.40" x2="471.30" y2="872.30" stroke="#000" stroke-width="1.4"/>
<line x1="470.60" y1="871.60" x2="655.70" y2="871.60" stroke="#000" stroke-width="1.4"/>
<line x1="467.00" y1="750.10" x2="471.30" y2="750.10" stroke="#000" stroke-width="1.4"/>
<text x="465.80" y="753.20" font-size="8.6" font-family="Liberation Sans, Noto Sans CJK SC, sans-serif" text-anchor="end" font-weight="bold" >1.0</text>
<line x1="467.00" y1="774.40" x2="471.30" y2="774.40" stroke="#000" stroke-width="1.4"/>
<text x="465.80" y="777.50" font-size="8.6" font-family="Liberation Sans, Noto Sans CJK SC, sans-serif" text-anchor="end" font-weight="bold" >0.8</text>
<line x1="467.00" y1="798.70" x2="471.30" y2="798.70" stroke="#000" stroke-width="1.4"/>
<text x="465.80" y="801.80" font-size="8.6" font-family="Liberation Sans, Noto Sans CJK SC, sans-serif" text-anchor="end" font-weight="bold" >0.6</text>
<line x1="467.00" y1="823.00" x2="471.30" y2="823.00" stroke="#000" stroke-width="1.4"/>
<text x="465.80" y="826.10" font-size="8.6" font-family="Liberation Sans, Noto Sans CJK SC, sans-serif" text-anchor="end" font-weight="bold" >0.4</text>
<line x1="467.00" y1="847.30" x2="471.30" y2="847.30" stroke="#000" stroke-width="1.4"/>
<text x="465.80" y="850.40" font-size="8.6" font-family="Liberation Sans, Noto Sans CJK SC, sans-serif" text-anchor="end" font-weight="bold" >0.2</text>
<line x1="467.00" y1="871.60" x2="471.30" y2="871.60" stroke="#000" stroke-width="1.4"/>
<text x="465.80" y="874.70" font-size="8.6" font-family="Liberation Sans, Noto Sans CJK SC, sans-serif" text-anchor="end" font-weight="bold" >0.0</text>
<text x="446.30" y="810.50" font-size="9.5" font-family="Liberation Sans, Noto Sans CJK SC, sans-serif" text-anchor="middle" font-weight="bold" transform="rotate(-90 446.30 810.50)" textLength="119.5" lengthAdjust="spacingAndGlyphs" >Cellular Viability(450 nm)</text>
<line x1="501.30" y1="871.60" x2="501.30" y2="875.00" stroke="#000" stroke-width="1.4"/>
<text x="501.30" y="886.40" font-size="8.6" font-family="Liberation Sans, Noto Sans CJK SC, sans-serif" text-anchor="middle" font-weight="bold" >0</text>
<rect x="478.90" y="844.20" width="10.80" height="27.40" fill="#000"/>
<line x1="484.30" y1="843.00" x2="484.30" y2="845.40" stroke="#000" stroke-width="0.7"/>
<line x1="481.55" y1="843.00" x2="487.05" y2="843.00" stroke="#000" stroke-width="0.7"/>
<line x1="481.55" y1="845.40" x2="487.05" y2="845.40" stroke="#000" stroke-width="0.7"/>
<rect x="496.40" y="845.80" width="9.90" height="25.50" fill="#8a813c" stroke="#000" stroke-width="0.9"/>
<line x1="501.35" y1="843.50" x2="501.35" y2="847.30" stroke="#000" stroke-width="0.7"/>
<line x1="498.60" y1="843.50" x2="504.10" y2="843.50" stroke="#000" stroke-width="0.7"/>
<line x1="498.60" y1="847.30" x2="504.10" y2="847.30" stroke="#000" stroke-width="0.7"/>
<rect x="513.45" y="846.50" width="9.90" height="24.80" fill="#e8434b" stroke="#000" stroke-width="0.9"/>
<line x1="518.40" y1="843.50" x2="518.40" y2="848.70" stroke="#000" stroke-width="0.7"/>
<line x1="515.65" y1="843.50" x2="521.15" y2="843.50" stroke="#000" stroke-width="0.7"/>
<line x1="515.65" y1="848.70" x2="521.15" y2="848.70" stroke="#000" stroke-width="0.7"/>
<line x1="563.50" y1="871.60" x2="563.50" y2="875.00" stroke="#000" stroke-width="1.4"/>
<text x="563.50" y="886.40" font-size="8.6" font-family="Liberation Sans, Noto Sans CJK SC, sans-serif" text-anchor="middle" font-weight="bold" >24</text>
<rect x="541.10" y="834.00" width="10.80" height="37.60" fill="#000"/>
<line x1="546.50" y1="833.20" x2="546.50" y2="834.80" stroke="#000" stroke-width="0.7"/>
<line x1="543.75" y1="833.20" x2="549.25" y2="833.20" stroke="#000" stroke-width="0.7"/>
<line x1="543.75" y1="834.80" x2="549.25" y2="834.80" stroke="#000" stroke-width="0.7"/>
<rect x="558.60" y="831.40" width="9.90" height="39.90" fill="#8a813c" stroke="#000" stroke-width="0.9"/>
<line x1="563.55" y1="828.70" x2="563.55" y2="833.30" stroke="#000" stroke-width="0.7"/>
<line x1="560.80" y1="828.70" x2="566.30" y2="828.70" stroke="#000" stroke-width="0.7"/>
<line x1="560.80" y1="833.30" x2="566.30" y2="833.30" stroke="#000" stroke-width="0.7"/>
<rect x="575.65" y="834.00" width="9.90" height="37.30" fill="#e8434b" stroke="#000" stroke-width="0.9"/>
<line x1="580.60" y1="832.40" x2="580.60" y2="834.80" stroke="#000" stroke-width="0.7"/>
<line x1="577.85" y1="832.40" x2="583.35" y2="832.40" stroke="#000" stroke-width="0.7"/>
<line x1="577.85" y1="834.80" x2="583.35" y2="834.80" stroke="#000" stroke-width="0.7"/>
<line x1="626.10" y1="871.60" x2="626.10" y2="875.00" stroke="#000" stroke-width="1.4"/>
<text x="626.10" y="886.40" font-size="8.6" font-family="Liberation Sans, Noto Sans CJK SC, sans-serif" text-anchor="middle" font-weight="bold" >48</text>
<rect x="603.70" y="778.20" width="10.80" height="93.40" fill="#000"/>
<line x1="609.10" y1="775.50" x2="609.10" y2="780.90" stroke="#000" stroke-width="0.7"/>
<line x1="606.35" y1="775.50" x2="611.85" y2="775.50" stroke="#000" stroke-width="0.7"/>
<line x1="606.35" y1="780.90" x2="611.85" y2="780.90" stroke="#000" stroke-width="0.7"/>
<rect x="621.20" y="763.00" width="9.90" height="108.30" fill="#8a813c" stroke="#000" stroke-width="0.9"/>
<line x1="626.15" y1="761.80" x2="626.15" y2="763.40" stroke="#000" stroke-width="0.7"/>
<line x1="623.40" y1="761.80" x2="628.90" y2="761.80" stroke="#000" stroke-width="0.7"/>
<line x1="623.40" y1="763.40" x2="628.90" y2="763.40" stroke="#000" stroke-width="0.7"/>
<rect x="638.25" y="764.20" width="9.90" height="107.10" fill="#e8434b" stroke="#000" stroke-width="0.9"/>
<line x1="643.20" y1="762.20" x2="643.20" y2="765.40" stroke="#000" stroke-width="0.7"/>
<line x1="640.45" y1="762.20" x2="645.95" y2="762.20" stroke="#000" stroke-width="0.7"/>
<line x1="640.45" y1="765.40" x2="645.95" y2="765.40" stroke="#000" stroke-width="0.7"/>
<text x="563.50" y="900.80" font-size="10" font-family="Liberation Sans, Noto Sans CJK SC, sans-serif" text-anchor="middle" font-weight="bold" >Time(h)</text>
<polyline fill="none" stroke="#000" stroke-width="1.0" points="545.30,817.30 545.30,815.00 580.60,815.00 580.60,817.30"/>
<text x="562.40" y="813.10" font-size="8.6" font-family="Liberation Sans, Noto Sans CJK SC, sans-serif" text-anchor="middle" >ns</text>
<polyline fill="none" stroke="#000" stroke-width="1.0" points="545.30,826.00 545.30,823.70 563.10,823.70 563.10,826.00"/>
<text x="554.80" y="822.60" font-size="8.6" font-family="Liberation Sans, Noto Sans CJK SC, sans-serif" text-anchor="middle" >ns</text>
<polyline fill="none" stroke="#000" stroke-width="1.0" points="608.30,751.10 608.30,748.80 644.00,748.80 644.00,751.10"/>
<text x="625.00" y="749.40" font-size="8.9" font-family="Liberation Sans, Noto Sans CJK SC, sans-serif" text-anchor="middle" font-weight="bold" >**</text>
<polyline fill="none" stroke="#000" stroke-width="1.0" points="608.30,760.10 608.30,757.80 626.10,757.80 626.10,760.10"/>
<text x="616.70" y="759.60" font-size="8.9" font-family="Liberation Sans, Noto Sans CJK SC, sans-serif" text-anchor="middle" font-weight="bold" >**</text>
<rect x="481.90" y="751.30" width="12.50" height="5.60" fill="#000"/>
<rect x="482.30" y="765.70" width="11.70" height="4.90" fill="#8a813c" stroke="#000" stroke-width="0.9"/>
<rect x="482.30" y="780.10" width="11.70" height="4.90" fill="#e8434b" stroke="#000" stroke-width="0.9"/>
<text x="501.70" y="757.70" font-size="10.2" font-family="Liberation Sans, Noto Sans CJK SC, sans-serif" >0 μM</text>
<text x="501.70" y="771.70" font-size="10.2" font-family="Liberation Sans, Noto Sans CJK SC, sans-serif" >10 μM</text>
<text x="501.70" y="785.80" font-size="10.2" font-family="Liberation Sans, Noto Sans CJK SC, sans-serif" >30 μM</text>
<text x="15.10" y="921.70" font-size="14" font-family="Liberation Serif, Noto Serif CJK SC, serif" >I</text>
<rect x="30.50" y="943.50" width="58.50" height="43.10" fill="#040412"/>
<g filter="url(#bl)">
<path d="M49.7 950.6h.01M68.3 947.3h.01M61.8 959.5h.01M34.6 965.4h.01M33.4 962.3h.01M35.3 948.1h.01M55.5 978.6h.01M38.3 953.6h.01M67.0 983.6h.01M64.1 960.8h.01M86.8 946.2h.01M80.1 956.3h.01M39.5 949.2h.01M48.9 978.2h.01M41.6 968.4h.01M67.7 959.8h.01M62.5 946.9h.01M34.7 952.8h.01M70.0 962.0h.01M49.2 968.6h.01M57.1 956.7h.01M76.5 973.3h.01M45.2 968.1h.01M61.2 980.6h.01M72.8 956.2h.01M87.1 949.2h.01M55.1 975.7h.01M39.9 964.6h.01M33.5 972.0h.01M74.8 968.1h.01M81.1 957.3h.01M70.9 969.0h.01M64.3 963.2h.01M79.1 983.5h.01M58.3 971.9h.01M34.8 973.4h.01M68.1 985.5h.01M78.1 956.1h.01M53.3 972.0h.01M32.6 963.5h.01M40.9 949.2h.01M34.7 976.2h.01M38.7 954.6h.01M53.5 980.5h.01M35.9 962.9h.01M62.6 981.0h.01M77.9 980.2h.01M47.1 961.5h.01M51.7 981.0h.01M85.8 950.6h.01M41.3 953.9h.01M44.6 964.4h.01M64.8 955.2h.01M31.5 961.7h.01M52.3 967.8h.01M85.5 973.0h.01M60.6 969.9h.01M69.8 946.5h.01M82.5 976.7h.01M81.1 977.4h.01M53.6 960.9h.01M37.2 970.6h.01M34.8 947.1h.01M43.2 951.0h.01M50.6 946.5h.01M31.3 950.6h.01M37.1 959.4h.01M32.8 980.6h.01M66.2 950.5h.01M45.7 958.7h.01M52.0 949.4h.01M79.6 985.5h.01M57.8 964.4h.01M36.2 948.5h.01M50.8 955.3h.01M78.5 951.0h.01M32.6 983.8h.01M61.4 950.4h.01M62.2 945.4h.01M61.3 984.9h.01M80.4 973.2h.01M46.2 959.5h.01M40.8 976.3h.01M61.6 976.6h.01M50.1 953.6h.01M77.5 985.2h.01M79.8 977.8h.01M77.9 975.0h.01M44.2 965.8h.01M51.5 945.5h.01M32.9 955.9h.01M46.0 973.0h.01M85.7 962.9h.01M84.6 985.3h.01M85.6 959.4h.01M43.8 953.7h.01M42.5 952.8h.01M66.8 981.7h.01M79.1 964.2h.01M68.5 977.5h.01M36.1 971.7h.01M83.1 976.8h.01M74.0 964.1h.01M41.5 977.0h.01M50.2 977.5h.01M86.6 960.7h.01M54.1 983.6h.01M72.5 951.4h.01M38.5 950.6h.01M82.8 977.8h.01M39.6 978.6h.01M87.1 971.6h.01M51.2 967.1h.01M38.8 944.9h.01M86.5 971.3h.01M61.3 983.0h.01M56.0 980.5h.01M78.3 953.1h.01M45.6 956.5h.01M45.0 968.6h.01M46.1 961.7h.01M38.8 982.1h.01M51.4 963.3h.01M64.5 981.8h.01M55.2 982.4h.01M59.8 966.4h.01M61.1 945.1h.01M56.3 951.9h.01M31.5 977.5h.01M41.1 963.9h.01M72.6 967.4h.01M49.8 965.8h.01M62.9 976.8h.01M37.3 967.6h.01M45.4 955.8h.01M75.2 965.4h.01M63.3 975.8h.01M83.2 962.7h.01M66.2 965.3h.01M60.4 973.0h.01M57.0 966.4h.01M58.5 983.4h.01M71.1 980.7h.01M84.9 955.1h.01M63.1 983.4h.01M79.1 950.0h.01M38.2 962.6h.01M35.4 954.3h.01M35.5 972.1h.01M75.9 981.5h.01M40.1 974.0h.01M68.9 950.2h.01M81.5 984.5h.01M43.8 983.8h.01M54.0 964.5h.01M87.6 978.8h.01M40.5 962.2h.01M60.6 958.4h.01M42.4 957.5h.01M72.4 945.1h.01M62.8 962.6h.01M32.3 958.1h.01M66.8 965.6h.01M35.0 985.2h.01M76.2 984.6h.01M37.3 955.3h.01M33.6 976.6h.01M46.7 949.7h.01M55.3 982.1h.01M77.9 955.0h.01M39.8 982.4h.01M63.8 973.4h.01M36.4 946.7h.01M70.5 962.0h.01M35.4 983.2h.01M67.4 977.6h.01M36.1 979.8h.01M35.1 980.1h.01M57.1 958.4h.01M62.8 982.8h.01M46.5 949.7h.01M61.3 954.2h.01M37.5 951.0h.01M34.2 952.7h.01M49.1 957.0h.01M74.5 956.3h.01M59.8 951.7h.01M51.0 945.1h.01M45.6 944.9h.01M73.0 967.2h.01M42.1 964.0h.01M84.5 948.7h.01M77.9 962.2h.01M59.5 978.9h.01M53.7 965.3h.01M70.4 985.1h.01M50.8 978.8h.01M71.5 970.7h.01M54.3 958.7h.01M34.4 949.7h.01M35.3 975.0h.01M45.8 951.1h.01M36.1 979.2h.01M80.8 972.1h.01M47.3 954.4h.01M48.0 963.4h.01M40.3 962.8h.01M46.3 984.2h.01M86.6 967.0h.01M45.2 984.4h.01M48.9 959.1h.01M31.4 960.1h.01M58.3 965.2h.01M42.7 965.2h.01M31.6 955.3h.01M36.4 960.9h.01M33.7 945.2h.01M48.6 954.0h.01M64.6 966.3h.01M74.0 971.6h.01M72.0 980.8h.01M53.5 957.8h.01M87.3 950.5h.01M72.5 971.0h.01M33.8 979.0h.01M82.1 970.3h.01M73.1 978.0h.01M39.2 966.0h.01M60.0 978.9h.01M77.1 978.6h.01M64.5 981.4h.01M70.2 973.1h.01M44.4 945.6h.01M38.9 959.3h.01M37.3 979.0h.01M63.1 970.4h.01M66.9 972.5h.01M59.1 944.4h.01M76.7 975.4h.01M59.9 966.5h.01M68.8 947.0h.01M73.2 954.8h.01M35.5 955.3h.01M72.8 952.8h.01M73.4 984.8h.01M59.4 960.2h.01M58.6 972.7h.01M74.9 969.9h.01M67.9 947.5h.01M39.7 954.8h.01M73.6 956.9h.01M63.6 944.8h.01M34.8 955.5h.01M69.5 973.0h.01M69.7 956.4h.01M60.7 963.6h.01M57.8 949.2h.01M82.1 952.6h.01M87.0 983.2h.01M32.3 963.3h.01M78.0 984.5h.01M56.9 955.4h.01M43.2 983.5h.01M43.3 968.4h.01M39.4 966.0h.01M85.5 949.8h.01M78.0 965.4h.01M81.8 973.5h.01M44.5 981.6h.01M59.0 945.3h.01M31.5 964.7h.01M56.9 956.8h.01M39.3 958.6h.01M49.3 979.2h.01M31.4 975.5h.01M79.0 949.3h.01M84.0 973.9h.01M82.6 956.3h.01M52.5 960.6h.01M88.1 968.8h.01M51.8 962.1h.01M47.0 946.3h.01M37.1 978.9h.01M47.6 983.1h.01M45.5 955.3h.01M60.4 952.2h.01M52.5 984.0h.01M81.6 978.0h.01M67.2 982.2h.01M84.8 967.1h.01M72.2 946.4h.01M73.0 963.0h.01M74.1 971.0h.01M47.6 946.3h.01M84.0 949.6h.01M58.2 958.6h.01M48.2 975.0h.01M86.9 955.1h.01M68.6 956.8h.01M63.0 960.7h.01M40.8 951.0h.01M43.1 981.9h.01M59.6 953.4h.01M82.9 985.7h.01M56.9 950.1h.01M42.2 948.1h.01M50.8 948.1h.01M44.9 955.0h.01M63.7 981.1h.01M74.0 961.4h.01M54.8 966.1h.01M52.7 958.3h.01M34.8 955.8h.01M86.4 949.5h.01M59.9 970.4h.01M80.4 953.3h.01M46.7 954.6h.01M54.0 962.8h.01M85.6 979.5h.01M81.0 945.2h.01M33.1 973.7h.01M82.3 963.9h.01M64.7 944.3h.01M53.6 982.8h.01M78.3 979.8h.01M86.6 954.6h.01M37.5 950.7h.01M61.0 972.6h.01M84.9 974.3h.01M68.1 976.0h.01M57.3 967.2h.01M33.6 976.8h.01M44.5 982.5h.01M68.0 956.9h.01M38.6 954.7h.01M67.5 973.3h.01M37.7 947.2h.01M61.1 968.5h.01M53.4 953.6h.01M65.5 944.7h.01M48.5 963.4h.01M85.9 971.0h.01M81.6 964.0h.01M44.7 954.6h.01M86.0 973.5h.01M48.8 945.2h.01M59.7 972.3h.01M55.2 955.0h.01M69.3 982.7h.01M44.2 945.7h.01M50.5 961.8h.01M70.1 952.5h.01M76.7 975.0h.01M60.0 952.8h.01M86.5 957.2h.01M78.0 953.9h.01M43.9 975.9h.01M48.1 983.8h.01M59.5 952.1h.01M44.0 961.6h.01M69.2 983.7h.01M39.6 960.6h.01M43.4 984.7h.01M39.4 946.5h.01M34.7 960.6h.01M82.4 981.0h.01M73.0 985.7h.01M84.3 958.0h.01M41.9 983.1h.01M73.8 945.6h.01M69.1 960.0h.01M52.6 958.1h.01M40.9 944.4h.01M47.2 958.9h.01M85.7 949.4h.01M86.2 952.9h.01M51.6 978.4h.01M78.1 962.2h.01M34.1 963.9h.01M52.5 982.5h.01M42.3 959.4h.01M82.3 945.6h.01M54.7 978.0h.01M74.9 946.0h.01M33.3 946.9h.01M83.7 955.0h.01M73.8 981.6h.01M50.6 955.6h.01M85.8 969.9h.01M46.2 974.0h.01M49.3 955.7h.01M31.5 975.7h.01M83.4 970.6h.01M85.0 945.3h.01M44.6 964.0h.01M85.7 983.9h.01M53.3 954.7h.01M55.8 964.8h.01M84.1 951.9h.01M77.0 974.9h.01M78.1 976.4h.01M65.9 957.9h.01M49.5 959.3h.01M75.8 947.6h.01M42.5 975.5h.01M45.4 947.0h.01M33.2 967.2h.01M49.8 985.0h.01M81.6 985.3h.01M46.4 947.8h.01M36.8 965.0h.01M71.7 962.8h.01M44.6 961.6h.01M66.6 972.3h.01M73.9 979.4h.01M69.1 949.3h.01M79.1 956.5h.01M63.6 959.8h.01M73.3 952.6h.01M45.4 954.5h.01M40.0 981.0h.01M64.2 957.8h.01M53.8 985.5h.01M60.2 953.9h.01M77.3 971.4h.01M87.7 948.5h.01M58.3 978.3h.01M79.1 982.2h.01M33.6 956.5h.01M38.1 952.2h.01M86.7 968.5h.01M84.2 959.7h.01M80.6 962.9h.01M46.1 976.6h.01M85.1 948.7h.01M65.2 970.0h.01M43.7 959.6h.01M39.3 952.8h.01M45.8 969.2h.01M68.4 952.7h.01M31.9 957.9h.01M69.9 952.0h.01M49.1 952.7h.01M76.6 967.0h.01M34.9 948.5h.01M53.8 967.1h.01M67.7 948.1h.01M40.6 973.2h.01M54.6 956.1h.01M48.8 983.9h.01M49.1 967.8h.01M51.6 961.6h.01M80.5 985.7h.01M52.0 952.5h.01M72.7 952.8h.01M31.6 981.7h.01M55.4 978.3h.01M54.4 980.9h.01M57.5 951.0h.01M32.1 967.2h.01M67.8 982.1h.01M36.4 970.1h.01M52.4 965.2h.01M39.6 956.1h.01M61.0 982.7h.01M37.5 964.7h.01M77.1 984.4h.01M42.5 949.6h.01M85.0 984.8h.01M58.8 946.5h.01M84.0 960.4h.01M82.8 970.0h.01M78.2 951.0h.01M76.0 953.5h.01M54.3 979.4h.01M78.5 951.9h.01M43.7 960.9h.01M60.8 960.2h.01M38.3 954.6h.01M72.5 981.5h.01" stroke="#2232a0" stroke-width="1.0" stroke-linecap="round" fill="none" opacity="0.72"/>
</g>
<line x1="73.40" y1="983.40" x2="83.40" y2="983.40" stroke="#e8e8f0" stroke-width="1.1"/>
<text x="73.20" y="981.00" font-size="4.6" font-family="Liberation Sans, Noto Sans CJK SC, sans-serif" fill="#d8d8e4" textLength="12.7" lengthAdjust="spacingAndGlyphs" >50 μm</text>
<rect x="90.90" y="943.50" width="58.40" height="43.10" fill="#080304"/>
<g filter="url(#bl)">
<path d="M94.0 967.6h.01M134.7 945.9h.01M139.3 949.2h.01M125.8 967.1h.01M127.3 957.0h.01M115.6 968.5h.01M115.9 971.6h.01M117.1 962.5h.01M93.0 970.0h.01M119.5 954.1h.01M135.1 976.7h.01M117.7 951.8h.01M118.6 948.7h.01M99.0 962.2h.01M96.9 962.6h.01M120.7 946.0h.01M127.8 947.7h.01M133.4 976.6h.01M120.8 946.6h.01M120.3 960.0h.01M145.7 950.0h.01M140.4 985.6h.01M133.3 978.1h.01M102.7 985.0h.01M119.6 984.0h.01M143.7 951.2h.01M136.5 982.9h.01M95.4 958.9h.01M134.7 950.9h.01M142.6 955.7h.01M138.0 950.3h.01M120.2 982.5h.01M103.5 955.2h.01M120.4 957.5h.01M93.8 951.9h.01M100.9 983.2h.01M130.3 981.5h.01M101.3 976.9h.01M98.2 966.3h.01M127.8 959.2h.01M141.3 967.3h.01M124.6 980.9h.01M97.6 985.5h.01M127.5 960.7h.01M137.0 955.3h.01M148.0 968.3h.01M112.2 976.0h.01M116.8 951.6h.01M133.9 946.3h.01M138.3 954.8h.01M128.0 985.1h.01M125.0 971.8h.01M109.5 944.4h.01M93.6 950.5h.01M126.7 962.2h.01M120.8 981.5h.01M99.2 953.7h.01M128.8 945.2h.01M91.8 959.0h.01M97.7 959.1h.01M104.4 968.5h.01M125.2 952.8h.01M127.1 964.0h.01M99.4 983.2h.01M105.5 950.5h.01M97.1 970.8h.01M141.2 976.8h.01M114.5 955.3h.01M92.4 971.1h.01M123.6 958.8h.01M128.4 962.7h.01M144.9 974.7h.01M105.8 981.8h.01M94.2 966.4h.01M114.8 954.2h.01M95.0 976.6h.01M92.4 967.2h.01M145.1 950.2h.01M103.0 969.5h.01M120.5 970.9h.01M137.9 951.5h.01M109.3 956.8h.01M94.5 981.2h.01M136.2 974.0h.01M92.1 979.3h.01M134.0 963.6h.01M133.8 963.1h.01M104.5 948.7h.01M104.9 945.9h.01M110.8 975.4h.01M131.2 979.4h.01M132.1 955.3h.01M123.2 962.4h.01M136.5 966.0h.01M106.8 970.9h.01M146.5 953.3h.01M141.7 944.9h.01M106.5 954.1h.01M134.0 983.5h.01M134.1 957.9h.01M141.7 957.9h.01M105.3 982.0h.01M127.5 973.1h.01M129.5 984.9h.01M118.4 979.1h.01M131.3 979.9h.01M116.5 974.4h.01M124.1 957.1h.01M103.7 970.1h.01M96.1 982.1h.01" stroke="#b8222c" stroke-width="1.1" stroke-linecap="round" fill="none" opacity="0.85"/>
</g>
<line x1="133.70" y1="983.40" x2="143.70" y2="983.40" stroke="#e8e8f0" stroke-width="1.1"/>
<text x="133.50" y="981.00" font-size="4.6" font-family="Liberation Sans, Noto Sans CJK SC, sans-serif" fill="#d8d8e4" textLength="12.7" lengthAdjust="spacingAndGlyphs" >50 μm</text>
<rect x="150.90" y="943.50" width="58.50" height="43.10" fill="#05040f"/>
<g filter="url(#bl)">
<path d="M159.9 945.4h.01M157.8 982.9h.01M171.3 950.2h.01M153.3 946.0h.01M191.1 970.6h.01M191.4 974.9h.01M155.4 968.8h.01M172.4 978.2h.01M198.3 981.3h.01M155.5 980.3h.01M203.7 983.5h.01M157.8 952.8h.01M158.1 945.7h.01M199.9 978.0h.01M187.8 978.5h.01M187.6 956.2h.01M157.4 948.4h.01M194.8 952.8h.01M169.9 961.9h.01M152.9 955.0h.01M167.8 974.0h.01M172.6 957.6h.01M206.6 965.2h.01M200.1 970.0h.01M153.5 961.4h.01M176.5 976.4h.01M171.4 973.5h.01M182.3 953.3h.01M200.8 948.1h.01M198.3 951.4h.01M151.8 952.7h.01M195.1 984.9h.01M151.9 964.7h.01M179.7 977.4h.01M162.2 964.8h.01M171.5 978.8h.01M166.5 983.5h.01M167.8 953.2h.01M191.5 965.0h.01M158.0 970.7h.01M156.3 977.0h.01M191.4 977.0h.01M187.4 959.1h.01M174.5 960.7h.01M202.4 947.9h.01M202.3 945.3h.01M163.4 955.2h.01M203.0 965.1h.01M173.3 981.0h.01M165.0 963.4h.01M181.9 975.6h.01M194.5 971.1h.01M171.5 957.9h.01M160.5 979.3h.01M189.4 975.1h.01M161.3 962.5h.01M195.7 968.3h.01M158.9 963.5h.01M202.1 954.2h.01M162.6 956.8h.01M191.7 979.3h.01M160.5 950.8h.01M165.8 957.9h.01M181.4 951.0h.01M170.4 952.2h.01M207.2 974.5h.01M157.5 984.2h.01M157.5 960.2h.01M207.7 977.3h.01M193.4 962.3h.01M162.9 970.8h.01M157.8 952.9h.01M173.8 945.7h.01M174.4 977.1h.01M191.2 965.1h.01M187.7 963.5h.01M159.8 969.4h.01M174.7 975.0h.01M203.4 962.1h.01M184.4 975.4h.01M175.7 953.8h.01M192.8 980.8h.01M195.7 973.4h.01M200.2 972.5h.01M188.2 963.1h.01M169.5 970.4h.01M157.3 961.7h.01M196.2 973.9h.01M187.5 954.7h.01M175.8 963.2h.01M187.1 961.3h.01M190.1 982.9h.01M162.1 971.5h.01M196.0 960.4h.01M179.6 984.7h.01M153.9 966.8h.01M160.9 976.7h.01M205.2 965.8h.01M157.5 968.1h.01M182.5 974.1h.01M180.8 970.8h.01M198.9 966.0h.01M175.0 983.6h.01M163.7 972.7h.01M174.0 976.0h.01M158.7 985.2h.01M171.9 946.6h.01M167.3 960.9h.01M152.5 961.7h.01M175.6 973.3h.01M171.7 955.3h.01M164.5 975.1h.01M205.2 966.2h.01M164.2 977.6h.01M174.0 953.1h.01M159.1 976.5h.01M197.8 970.6h.01M178.4 967.6h.01M164.6 984.3h.01M171.8 970.8h.01M198.3 978.2h.01M178.3 956.5h.01M182.9 949.5h.01M199.1 959.0h.01M200.1 955.4h.01M173.1 954.8h.01M175.9 952.0h.01M151.9 974.3h.01M167.7 954.5h.01M168.9 964.2h.01M176.1 970.7h.01M189.2 959.3h.01M204.5 979.8h.01M154.9 978.7h.01M203.2 976.8h.01M159.7 978.8h.01M187.7 944.9h.01M152.4 983.8h.01M189.0 954.7h.01M157.5 950.2h.01M165.0 976.5h.01M171.4 950.6h.01M203.1 977.2h.01M161.3 981.3h.01M186.3 976.7h.01M189.7 981.4h.01M196.5 979.1h.01M162.9 973.1h.01M181.9 975.1h.01M176.7 980.9h.01M183.3 955.3h.01M165.0 950.1h.01M179.8 946.7h.01M178.3 950.3h.01M179.7 965.0h.01M182.4 980.1h.01M152.1 979.2h.01M178.3 967.6h.01M189.6 979.2h.01M173.0 961.7h.01M206.4 947.4h.01M187.9 970.7h.01M153.3 969.6h.01M190.5 983.0h.01M170.5 985.0h.01M180.8 964.4h.01M202.8 945.7h.01M192.6 970.2h.01M171.0 980.1h.01M172.5 964.0h.01M181.6 976.3h.01M163.7 962.4h.01M175.7 967.3h.01M198.7 956.5h.01M198.8 961.1h.01M180.4 955.6h.01M180.5 984.8h.01M188.9 977.2h.01M170.5 957.5h.01M168.7 968.6h.01M187.8 976.8h.01M154.0 974.3h.01M202.1 966.9h.01M154.5 956.8h.01M152.1 952.2h.01M204.1 969.6h.01M189.1 977.0h.01M203.5 969.7h.01M186.8 970.3h.01M191.3 969.0h.01M190.4 953.1h.01M189.7 963.3h.01M195.1 948.5h.01M162.0 945.8h.01M195.8 982.2h.01M189.0 959.6h.01M198.5 976.9h.01M183.7 955.0h.01M168.9 961.8h.01M169.8 962.2h.01M188.2 983.1h.01M154.8 967.9h.01M153.9 949.2h.01M197.8 968.2h.01M204.0 962.8h.01M152.5 960.4h.01M185.4 983.2h.01M207.5 964.0h.01M175.2 948.5h.01M188.4 953.1h.01M160.3 944.9h.01M152.0 972.7h.01M158.6 984.4h.01M156.7 980.4h.01M159.0 945.0h.01M192.6 954.4h.01M193.4 952.1h.01M154.6 976.4h.01M192.3 979.8h.01M193.2 947.8h.01M187.5 973.7h.01M177.9 983.0h.01M166.2 984.3h.01M192.5 944.8h.01M152.5 971.3h.01M198.2 947.6h.01M169.4 974.6h.01M161.1 980.0h.01M179.4 946.8h.01M172.6 968.2h.01M176.7 972.4h.01M159.9 977.4h.01M172.4 971.1h.01M187.5 961.6h.01M173.6 976.9h.01M205.5 976.9h.01M184.0 956.4h.01M155.2 984.7h.01M191.7 978.6h.01M170.6 969.4h.01M207.3 978.8h.01M185.9 957.1h.01M176.1 981.2h.01M173.1 972.7h.01M185.9 981.5h.01M197.6 956.1h.01M151.8 955.2h.01M175.7 968.6h.01M198.1 981.1h.01M154.1 978.9h.01M197.9 980.3h.01M184.2 955.7h.01M200.1 977.8h.01M190.7 982.2h.01M171.4 947.8h.01M183.2 977.4h.01M163.1 975.4h.01M204.7 954.0h.01M186.2 972.4h.01M178.2 952.9h.01M166.2 975.5h.01M196.7 963.4h.01M156.7 977.8h.01M195.6 954.0h.01M184.7 981.5h.01M202.1 966.0h.01M178.8 968.8h.01M162.5 952.3h.01M162.0 973.4h.01M172.3 967.7h.01M174.6 965.8h.01M160.2 946.2h.01M208.4 959.8h.01M157.7 970.6h.01M196.5 950.8h.01M185.7 958.6h.01M181.3 945.2h.01M153.6 985.4h.01M201.0 964.5h.01M184.0 955.2h.01M196.0 962.0h.01M205.6 976.1h.01M198.3 984.3h.01M166.2 945.9h.01M163.1 951.8h.01M156.5 946.4h.01M183.4 980.4h.01M177.8 983.6h.01M203.5 947.0h.01M185.7 960.8h.01M158.5 984.1h.01M166.3 967.7h.01M188.2 984.0h.01M189.8 960.6h.01M177.2 950.9h.01M206.7 985.5h.01M164.3 945.9h.01M166.3 958.9h.01M203.1 981.8h.01M199.3 946.3h.01M196.4 973.7h.01M188.5 985.2h.01M154.9 950.3h.01M194.7 983.3h.01M190.2 956.7h.01M185.4 975.8h.01M157.7 957.7h.01M166.3 949.5h.01M179.1 951.3h.01M165.3 950.2h.01M190.3 944.8h.01M192.5 952.4h.01M153.7 982.8h.01M164.2 983.1h.01M201.0 981.2h.01M159.7 962.9h.01M157.2 982.8h.01M199.6 970.4h.01M177.4 958.4h.01M198.5 964.1h.01M187.4 950.2h.01M164.3 946.7h.01M192.3 967.3h.01M159.9 980.4h.01M166.9 961.4h.01M160.6 955.6h.01M199.5 958.2h.01M161.2 964.7h.01M169.8 981.8h.01M158.2 984.9h.01M154.9 981.4h.01M189.7 953.1h.01M178.9 956.2h.01M166.4 952.7h.01M172.4 985.4h.01M208.5 982.7h.01M157.3 956.3h.01M202.7 946.7h.01M193.0 956.5h.01M207.4 945.0h.01M197.6 958.4h.01M159.7 944.4h.01M199.1 966.2h.01M162.3 962.4h.01M203.6 953.4h.01M184.2 950.0h.01M161.9 976.3h.01M192.2 952.5h.01M156.2 947.9h.01M186.3 964.9h.01M167.3 952.9h.01M186.5 973.7h.01M197.9 968.5h.01M163.2 947.0h.01M193.4 961.2h.01M192.8 946.6h.01M197.8 958.2h.01M199.6 980.2h.01M179.8 944.9h.01M203.5 964.1h.01M201.3 955.3h.01M162.3 978.8h.01M172.6 951.1h.01M172.8 969.0h.01M152.0 965.9h.01M177.1 965.7h.01M158.6 974.0h.01M198.2 980.2h.01M170.0 973.8h.01M173.4 975.5h.01M155.2 980.5h.01M206.0 964.8h.01M180.9 966.3h.01M182.3 945.2h.01M206.7 953.6h.01M162.1 948.6h.01M166.0 978.2h.01M153.4 948.3h.01M191.5 952.4h.01M152.7 969.2h.01M184.5 966.0h.01M191.7 948.6h.01M201.2 974.1h.01M154.3 949.4h.01M179.8 965.1h.01M167.6 949.4h.01M174.8 950.0h.01M185.4 980.0h.01M160.1 968.1h.01M194.2 951.1h.01M198.7 983.2h.01M173.8 961.8h.01M199.5 966.1h.01M174.2 983.4h.01M195.9 958.3h.01M165.4 958.2h.01M176.5 985.0h.01M197.5 982.2h.01M198.1 979.5h.01M154.7 965.8h.01M206.2 983.1h.01M165.9 961.8h.01M187.7 959.4h.01M181.9 947.2h.01M176.3 965.2h.01M152.9 950.1h.01M206.9 976.5h.01M205.0 970.6h.01" stroke="#1c2a88" stroke-width="1.0" stroke-linecap="round" fill="none" opacity="0.68"/>
<path d="M197.7 981.0h.01M202.0 945.7h.01M188.2 955.3h.01M190.3 955.6h.01M182.6 982.7h.01M187.0 954.7h.01M181.3 962.3h.01M205.8 956.2h.01M169.1 971.2h.01M158.5 969.0h.01M206.1 965.6h.01M167.0 963.7h.01M182.1 950.5h.01M158.8 949.8h.01M168.4 961.2h.01M168.1 954.4h.01M156.7 967.0h.01M199.5 969.6h.01M184.1 971.3h.01M163.1 973.8h.01M177.9 967.0h.01M186.6 963.8h.01M169.4 954.4h.01M164.3 965.6h.01M173.5 968.6h.01M152.4 958.9h.01M200.7 954.2h.01M183.4 964.7h.01M167.9 985.3h.01M168.5 976.3h.01M160.7 947.1h.01M201.3 962.6h.01M155.2 960.4h.01M176.7 974.8h.01M157.9 953.6h.01M206.3 975.0h.01M160.5 958.3h.01M171.8 972.3h.01M186.8 979.6h.01M198.4 965.8h.01M193.7 975.1h.01M194.9 964.0h.01M196.4 973.7h.01M203.7 949.6h.01M201.2 944.5h.01M195.3 968.6h.01M180.0 984.3h.01M184.2 961.6h.01M196.3 980.5h.01M186.3 960.1h.01M177.4 963.3h.01M192.8 956.5h.01M173.9 967.3h.01M173.6 957.7h.01M196.5 979.6h.01M180.1 962.7h.01M162.2 956.9h.01M159.9 968.2h.01M184.8 947.9h.01M204.1 957.7h.01M199.7 979.1h.01M206.3 952.8h.01M176.0 982.1h.01M152.3 946.3h.01M183.8 964.9h.01M204.1 976.4h.01M182.3 985.7h.01M181.1 965.8h.01M190.7 960.5h.01M172.1 969.0h.01M171.7 983.6h.01M190.2 966.1h.01M157.3 959.8h.01M174.5 967.6h.01M184.4 980.8h.01M206.6 964.5h.01M176.7 970.2h.01M208.4 958.5h.01M181.9 978.2h.01M161.4 957.5h.01M207.4 978.6h.01M180.9 948.9h.01M202.6 972.9h.01M198.4 985.4h.01M202.2 961.8h.01M160.6 956.3h.01M180.8 965.3h.01M162.4 951.9h.01M187.6 969.3h.01M171.8 985.5h.01M187.9 946.1h.01M175.1 977.0h.01M169.2 973.0h.01M151.9 956.9h.01M199.6 968.6h.01M189.7 952.5h.01M180.0 967.3h.01M166.8 971.1h.01M181.9 985.7h.01M184.4 961.4h.01M158.6 950.8h.01M194.9 948.7h.01M157.4 951.4h.01M181.4 978.5h.01M186.6 977.8h.01M155.2 944.8h.01M195.5 957.7h.01M192.4 959.0h.01M161.3 955.4h.01M157.4 981.8h.01" stroke="#c02a80" stroke-width="1.1" stroke-linecap="round" fill="none" opacity="0.9"/>
</g>
<line x1="193.80" y1="983.40" x2="203.80" y2="983.40" stroke="#e8e8f0" stroke-width="1.1"/>
<text x="193.60" y="981.00" font-size="4.6" font-family="Liberation Sans, Noto Sans CJK SC, sans-serif" fill="#d8d8e4" textLength="12.7" lengthAdjust="spacingAndGlyphs" >50 μm</text>
<rect x="30.50" y="988.50" width="58.50" height="43.30" fill="#040412"/>
<g filter="url(#bl)">
<path d="M64.4 1003.8h.01M56.9 1005.4h.01M34.4 1026.4h.01M64.5 1029.3h.01M56.3 1015.2h.01M45.5 991.1h.01M84.3 1024.9h.01M49.2 1026.8h.01M77.7 1002.0h.01M65.6 1029.3h.01M59.5 1028.9h.01M45.1 1005.6h.01M72.2 998.5h.01M48.9 1025.8h.01M58.9 1022.4h.01M45.1 996.5h.01M51.7 997.1h.01M86.6 1001.4h.01M63.3 994.1h.01M61.7 1005.4h.01M54.2 992.0h.01M38.3 1023.7h.01M51.3 999.5h.01M42.2 1001.1h.01M44.8 990.8h.01M69.1 1003.5h.01M40.2 1018.7h.01M36.6 1000.5h.01M78.8 994.6h.01M56.5 1024.2h.01M77.1 995.9h.01M51.4 1019.4h.01M52.7 1029.3h.01M43.1 1029.0h.01M60.0 998.8h.01M57.1 994.8h.01M71.5 1000.2h.01M82.5 1013.8h.01M52.2 999.6h.01M65.9 998.2h.01M80.9 994.4h.01M60.5 1011.9h.01M46.7 1021.5h.01M53.2 1016.7h.01M63.6 1002.3h.01M53.5 992.9h.01M41.4 1024.8h.01M49.6 1016.9h.01M37.5 1012.7h.01M51.9 1010.2h.01M48.2 992.0h.01M49.0 998.7h.01M38.5 1019.2h.01M47.4 1006.1h.01M83.0 1021.6h.01M81.5 1025.2h.01M38.8 1000.8h.01M33.0 1017.6h.01M69.1 1004.0h.01M54.8 1016.8h.01M71.1 999.7h.01M79.5 1004.0h.01M67.1 996.9h.01M37.9 1027.4h.01M73.1 1019.0h.01M33.6 991.0h.01M40.5 997.6h.01M48.5 1005.2h.01M33.5 1002.3h.01M67.6 996.8h.01M79.1 1013.1h.01M72.1 999.9h.01M56.0 1017.8h.01M51.2 989.3h.01M78.8 1021.7h.01M47.6 991.1h.01M79.9 1014.6h.01M34.0 999.5h.01M37.6 1022.3h.01M43.3 1027.4h.01M73.9 992.9h.01M70.8 1005.7h.01M73.8 1023.9h.01M47.3 993.1h.01M85.1 1007.0h.01M84.2 1018.1h.01M73.3 1023.9h.01M67.0 1008.2h.01M34.4 1018.4h.01M55.7 1010.6h.01M84.1 994.6h.01M74.7 991.1h.01M71.3 1022.9h.01M46.2 1012.1h.01M86.5 1015.9h.01M62.2 999.7h.01M34.7 1004.2h.01M54.7 997.7h.01M49.0 995.0h.01M71.5 1017.3h.01M44.8 999.4h.01M60.6 1007.9h.01M84.5 1004.0h.01M48.3 1026.2h.01M39.4 1012.8h.01M50.3 1023.3h.01M62.5 1021.0h.01M40.9 1017.1h.01M65.4 1008.5h.01M74.9 1024.0h.01M37.8 1001.4h.01M51.8 997.9h.01M34.7 1001.0h.01M42.5 1018.6h.01M56.8 994.0h.01M49.8 1008.8h.01M52.0 996.3h.01M35.4 989.8h.01M87.8 1020.6h.01M36.1 1019.2h.01M87.1 1012.8h.01M37.5 1009.7h.01M56.0 997.2h.01M62.2 989.6h.01M83.6 1016.2h.01M67.0 1028.3h.01M68.4 999.8h.01M45.3 995.1h.01M32.9 1021.6h.01M79.1 1001.7h.01M41.9 1015.9h.01M79.4 1027.9h.01M40.9 1022.0h.01M78.5 1020.3h.01M49.9 997.0h.01M78.3 1002.7h.01M52.3 1012.3h.01M52.3 1024.0h.01M44.9 991.0h.01M63.6 1015.5h.01M77.9 1018.7h.01M82.8 1028.7h.01M59.4 1010.1h.01M40.3 1001.8h.01M64.4 992.6h.01M70.4 996.1h.01M56.5 1029.7h.01M36.4 991.0h.01M56.3 997.3h.01M72.4 989.4h.01M79.1 1025.0h.01M76.1 1007.0h.01M47.4 1016.9h.01M60.6 1006.9h.01M50.6 1007.6h.01M69.2 1023.7h.01M82.7 996.2h.01M48.1 1007.8h.01M63.4 1003.8h.01M42.4 992.8h.01M49.7 1008.5h.01M86.6 1027.2h.01M80.5 1029.9h.01M86.0 1015.1h.01M77.5 991.8h.01M69.8 1014.7h.01M48.2 1013.1h.01M85.5 1009.3h.01M68.1 1001.8h.01M50.8 1026.2h.01M32.9 997.2h.01M69.9 1008.0h.01M36.1 1016.8h.01M52.5 1013.5h.01M55.0 1011.4h.01M63.4 1005.8h.01M37.8 996.8h.01M81.9 1012.2h.01M37.7 1025.3h.01M45.7 993.3h.01M61.5 999.8h.01M59.1 1012.4h.01M44.2 1013.2h.01M37.7 1010.7h.01M64.8 992.6h.01M54.5 992.4h.01M56.3 1025.3h.01M62.6 1019.1h.01M74.4 994.1h.01M87.7 1019.4h.01M37.1 1023.9h.01M53.6 996.4h.01M85.9 1012.8h.01M75.4 995.0h.01M75.5 991.7h.01M44.8 1004.8h.01M32.2 1014.1h.01M43.4 1001.8h.01M71.6 1007.1h.01M81.9 1015.2h.01M80.9 1012.8h.01M83.5 1025.6h.01M40.9 1020.4h.01M50.7 1021.1h.01M70.0 1023.7h.01M38.3 1004.9h.01M73.2 1028.8h.01M72.4 991.1h.01M65.7 993.5h.01M62.5 1022.8h.01M37.7 1027.9h.01M69.7 999.9h.01M42.3 1007.9h.01M79.0 1013.5h.01M37.8 990.2h.01M37.6 1022.7h.01M41.8 1012.4h.01M47.8 1018.0h.01M53.0 995.3h.01M81.1 1011.8h.01M70.5 1023.0h.01M85.3 989.9h.01M50.8 995.6h.01M59.9 1025.7h.01M76.8 990.8h.01M41.7 1023.4h.01M70.0 1005.7h.01M58.4 995.9h.01M79.4 1005.7h.01M81.0 1014.8h.01M35.6 1003.0h.01M43.6 1026.6h.01M64.8 991.1h.01M41.0 1004.4h.01M57.9 1013.4h.01M53.4 1004.0h.01M31.6 1013.5h.01M50.3 990.2h.01M57.4 1030.4h.01M33.9 995.4h.01M69.5 1000.7h.01M46.9 1010.2h.01M46.2 1013.0h.01M61.4 1029.2h.01M87.8 990.7h.01M63.2 1021.4h.01M80.9 1021.6h.01M67.3 1015.8h.01M51.9 1001.0h.01M76.6 1025.7h.01M84.7 1017.7h.01M48.6 1021.1h.01M73.4 1010.5h.01M67.4 1003.9h.01M62.6 1006.2h.01M34.7 1003.4h.01M49.7 1030.5h.01M58.7 1004.6h.01M45.2 999.1h.01M51.2 995.0h.01M31.7 1025.6h.01M57.1 1007.9h.01M63.7 1001.9h.01M40.9 992.1h.01M48.5 1002.2h.01M72.6 1012.3h.01M84.6 1003.5h.01M83.7 1013.6h.01M35.9 996.8h.01M64.3 1030.5h.01M51.6 1021.6h.01M55.7 1025.5h.01M35.2 1009.5h.01M82.5 1000.8h.01M46.0 990.3h.01M40.7 1000.5h.01M71.4 998.4h.01M54.0 997.7h.01M65.6 1025.3h.01M68.2 997.5h.01M73.1 1029.5h.01M65.5 992.6h.01M77.4 1025.8h.01M50.7 995.0h.01M42.0 1011.7h.01M81.1 1016.0h.01M83.8 998.1h.01M49.9 1020.5h.01M68.2 1006.2h.01M69.9 1003.4h.01M34.6 1006.6h.01M33.9 1015.4h.01M50.3 1009.9h.01M65.3 1000.0h.01M57.7 989.9h.01M83.9 1012.8h.01M87.5 991.6h.01M66.2 1019.5h.01M50.0 993.2h.01M40.2 995.2h.01M75.0 993.0h.01M77.6 1006.9h.01M61.9 1013.8h.01M62.9 1016.7h.01M65.5 1003.1h.01M73.5 1000.1h.01M71.8 1021.1h.01M75.5 1002.2h.01M75.3 1030.1h.01M57.1 1000.9h.01M61.1 1028.5h.01M38.8 989.7h.01M58.4 1016.6h.01M75.3 1004.4h.01M87.6 998.8h.01M74.3 993.0h.01M32.9 994.9h.01M34.7 1010.2h.01M62.9 996.9h.01M84.8 1004.5h.01M39.8 996.7h.01M73.3 1027.7h.01M40.5 990.5h.01M75.6 999.4h.01M87.2 1010.1h.01M67.5 1003.7h.01M76.9 1008.5h.01M49.7 1027.0h.01M37.4 1019.9h.01M35.0 1016.2h.01M54.2 1025.3h.01M34.7 1012.8h.01M54.6 1027.6h.01M85.1 1015.5h.01M44.1 999.8h.01M46.2 1007.4h.01M44.5 997.8h.01M74.5 1016.1h.01M48.3 1030.8h.01M43.6 1013.0h.01M40.2 1025.3h.01M80.8 1000.4h.01M74.1 1023.6h.01M47.4 1003.1h.01M58.9 1026.5h.01M40.5 1017.8h.01M65.3 1008.2h.01M64.3 1026.1h.01M43.2 1026.1h.01M51.8 1021.8h.01M80.4 996.9h.01M80.5 1030.8h.01M48.2 990.3h.01M37.6 1029.9h.01M31.8 1027.3h.01M39.9 1020.0h.01M36.9 996.3h.01M70.1 993.1h.01M50.6 1027.6h.01M72.1 1026.1h.01M87.0 990.7h.01M44.6 1022.3h.01M70.5 990.9h.01M60.0 999.0h.01M55.8 993.7h.01M32.4 1030.6h.01M49.3 1025.9h.01M38.2 1009.6h.01M39.0 1007.2h.01M41.5 1017.9h.01M39.7 1020.1h.01M59.8 994.0h.01M51.4 1010.0h.01M83.6 1003.9h.01M43.5 1029.6h.01M81.6 1019.8h.01M46.8 996.7h.01M46.4 992.2h.01M33.8 1010.5h.01M54.5 1012.5h.01M51.9 989.7h.01M70.5 1016.5h.01M62.3 1012.2h.01M70.6 1030.3h.01M81.0 1019.2h.01M54.0 1002.6h.01M55.1 1029.9h.01M53.3 1005.4h.01M54.6 995.3h.01M88.1 989.5h.01M65.9 1027.9h.01M45.8 1014.8h.01M52.7 999.3h.01M42.6 994.1h.01M79.3 1022.0h.01M83.0 991.4h.01M70.8 1002.8h.01M68.1 1012.2h.01M49.3 1029.8h.01M31.4 1020.4h.01M79.9 1010.6h.01M65.0 1030.8h.01M44.6 1015.6h.01M73.6 1005.1h.01M71.8 1005.7h.01M61.2 1014.9h.01M69.8 1002.7h.01M67.1 1011.9h.01M44.0 1014.8h.01M46.4 1027.2h.01M58.2 1019.4h.01M61.0 1009.2h.01M43.9 995.2h.01M84.1 1011.3h.01M61.1 1011.3h.01M77.6 999.3h.01M41.1 1023.6h.01M57.5 1016.0h.01M78.4 1026.6h.01M80.7 991.1h.01M53.0 1024.0h.01M77.8 994.4h.01M40.1 999.8h.01M37.1 1004.2h.01M77.0 1011.0h.01M57.1 993.0h.01M53.8 1030.9h.01M70.8 1008.0h.01M58.5 1022.6h.01M74.5 995.6h.01M70.0 1004.6h.01M60.9 999.2h.01M52.4 1003.5h.01M53.0 990.0h.01M42.7 1013.1h.01M34.6 996.7h.01M72.2 1000.8h.01M49.7 999.4h.01M78.8 993.1h.01M67.5 1025.1h.01M42.8 1006.9h.01M76.4 1015.1h.01M52.4 991.1h.01M56.5 1004.6h.01M71.8 1001.6h.01M54.5 1016.3h.01M77.4 1004.0h.01M53.2 1013.4h.01M83.9 997.3h.01M86.6 1019.0h.01M52.5 1017.1h.01M50.0 992.3h.01M74.3 1005.1h.01M61.2 1010.0h.01M82.6 1020.9h.01M32.8 1014.0h.01M57.6 1008.6h.01M79.1 1006.6h.01M58.2 1026.4h.01M56.3 1009.8h.01M60.4 1023.7h.01M69.4 1020.2h.01M54.2 991.0h.01M70.0 1012.4h.01M75.1 1021.4h.01M38.0 998.5h.01M35.7 1023.4h.01M37.1 993.0h.01M74.2 1012.8h.01M34.4 1017.7h.01M71.8 1009.4h.01M34.4 1018.1h.01M55.1 1013.7h.01M88.1 1023.4h.01M80.9 995.4h.01M50.3 1010.9h.01M31.6 1030.5h.01M46.9 1000.2h.01M49.1 999.9h.01M80.2 1012.5h.01M60.4 1006.8h.01M34.2 1002.0h.01M80.6 1022.7h.01M80.0 1000.0h.01M42.8 991.5h.01M61.8 1004.9h.01M57.7 1009.7h.01M64.5 1004.6h.01M76.9 997.7h.01M83.6 1012.5h.01M34.2 1002.4h.01M61.6 1006.4h.01M63.4 1002.8h.01M46.9 1022.5h.01M47.9 1018.9h.01M77.0 1014.0h.01M57.2 1028.3h.01M56.6 1025.9h.01M34.6 1007.4h.01M67.7 991.3h.01M80.4 992.3h.01M65.2 996.8h.01M83.8 1012.7h.01M76.9 1010.1h.01M69.6 1017.4h.01M48.1 998.1h.01M79.0 995.4h.01M83.5 997.9h.01M37.0 993.3h.01M75.9 1029.0h.01M54.9 1016.8h.01M46.0 1027.1h.01M70.3 995.8h.01M34.5 1018.3h.01M33.7 1024.2h.01M48.0 999.0h.01M64.4 1002.6h.01M63.2 995.7h.01M83.2 1002.8h.01M79.2 995.6h.01" stroke="#2232a0" stroke-width="1.0" stroke-linecap="round" fill="none" opacity="0.72"/>
</g>
<line x1="73.40" y1="1028.60" x2="83.40" y2="1028.60" stroke="#e8e8f0" stroke-width="1.1"/>
<text x="73.20" y="1026.20" font-size="4.6" font-family="Liberation Sans, Noto Sans CJK SC, sans-serif" fill="#d8d8e4" textLength="12.7" lengthAdjust="spacingAndGlyphs" >50 μm</text>
<rect x="90.90" y="988.50" width="58.40" height="43.30" fill="#080304"/>
<g filter="url(#bl)">
<path d="M137.1 1030.2h.01M113.9 990.7h.01M113.3 1016.0h.01M104.4 1012.1h.01M97.0 1008.7h.01M133.1 1007.2h.01M130.3 994.1h.01M138.8 994.4h.01M144.1 1030.8h.01M145.1 1011.2h.01M108.2 1003.8h.01M134.3 1010.0h.01M144.5 993.2h.01M119.2 1025.3h.01M125.7 1011.8h.01M96.7 995.1h.01M107.1 1026.5h.01M139.7 998.8h.01M144.2 990.7h.01M125.7 1029.6h.01M111.3 1028.7h.01M129.0 991.4h.01M110.6 1008.0h.01M105.8 1020.3h.01M101.9 1022.1h.01M108.6 992.2h.01M123.5 993.3h.01M123.0 1022.2h.01M125.5 1008.5h.01M93.6 1010.7h.01M97.2 1016.3h.01M99.2 1013.4h.01M111.7 1004.9h.01M129.4 996.1h.01M101.3 1028.6h.01M110.5 1024.4h.01M141.3 1009.3h.01M100.2 993.2h.01M141.6 994.2h.01M119.9 1011.7h.01M98.4 1008.8h.01M101.0 1011.6h.01M120.5 1004.6h.01M102.9 1006.1h.01M103.3 994.6h.01M105.3 1025.6h.01M120.2 1026.4h.01M92.6 1028.6h.01M119.4 1022.3h.01M124.1 1018.0h.01M104.7 1020.6h.01M100.4 1000.3h.01M93.5 1005.7h.01M121.1 1001.5h.01M142.3 992.8h.01M124.6 999.1h.01M125.5 1022.0h.01M132.1 991.9h.01M105.7 1014.3h.01M147.5 991.0h.01M126.8 1018.1h.01M138.0 1003.6h.01M137.7 1008.6h.01M144.0 989.7h.01M145.1 1006.5h.01M114.8 993.0h.01M105.6 1019.9h.01M130.3 995.6h.01M111.3 995.2h.01M103.0 998.5h.01M110.5 1030.0h.01M148.3 1022.3h.01M118.9 1010.0h.01M136.0 1027.2h.01M134.4 1015.8h.01M103.0 1015.4h.01M139.7 1022.1h.01M96.9 1019.2h.01M111.5 996.1h.01M146.6 1017.4h.01M134.0 994.9h.01M138.8 1028.4h.01M143.1 1020.4h.01M139.0 1022.8h.01M125.2 1007.5h.01M138.6 1022.0h.01M141.2 1001.8h.01M146.3 1011.5h.01M145.4 994.1h.01M146.7 1022.1h.01M106.0 1024.3h.01M104.9 997.6h.01M117.7 999.2h.01M119.7 1027.2h.01M130.6 1018.9h.01M114.0 1022.0h.01M136.8 1017.8h.01M145.2 1023.7h.01M114.8 992.9h.01M128.8 1024.2h.01M111.0 1014.1h.01M139.2 1022.4h.01M92.0 1009.7h.01M92.6 993.9h.01M137.8 1006.8h.01M126.1 1008.4h.01M110.8 998.2h.01M111.8 1024.5h.01M126.9 1001.5h.01M96.7 1000.6h.01M131.5 1007.7h.01M129.2 1023.0h.01M98.6 1017.8h.01M94.1 1023.6h.01M102.2 1000.6h.01M146.1 1004.4h.01M104.4 1026.4h.01M126.4 1026.6h.01M114.1 1010.1h.01M146.0 1010.4h.01M147.8 997.2h.01M138.9 996.1h.01M121.6 989.3h.01M101.7 1028.7h.01M117.5 1023.1h.01M105.9 1004.0h.01M97.4 1012.3h.01M140.7 1010.7h.01M113.1 1028.0h.01M142.5 1017.1h.01M96.0 1015.3h.01M116.9 1029.2h.01M112.3 1016.9h.01M127.6 1005.0h.01M121.4 1017.5h.01" stroke="#b8222c" stroke-width="1.1" stroke-linecap="round" fill="none" opacity="0.85"/>
</g>
<line x1="133.70" y1="1028.60" x2="143.70" y2="1028.60" stroke="#e8e8f0" stroke-width="1.1"/>
<text x="133.50" y="1026.20" font-size="4.6" font-family="Liberation Sans, Noto Sans CJK SC, sans-serif" fill="#d8d8e4" textLength="12.7" lengthAdjust="spacingAndGlyphs" >50 μm</text>
<rect x="150.90" y="988.50" width="58.50" height="43.30" fill="#05040f"/>
<g filter="url(#bl)">
<path d="M203.3 1010.1h.01M172.4 1030.0h.01M154.9 1024.1h.01M190.6 1012.5h.01M177.2 1020.6h.01M202.4 1019.7h.01M194.4 990.8h.01M170.2 995.0h.01M205.9 1026.5h.01M159.9 1013.8h.01M184.5 991.2h.01M174.0 1020.5h.01M188.2 1001.0h.01M195.1 1001.4h.01M182.7 1006.8h.01M207.4 1016.4h.01M197.5 1017.5h.01M173.3 1029.5h.01M192.1 1018.1h.01M167.5 996.1h.01M184.4 1023.7h.01M196.9 1003.8h.01M159.7 1010.8h.01M201.6 996.1h.01M193.7 996.4h.01M169.5 991.5h.01M168.6 1005.3h.01M206.7 1029.4h.01M162.3 1002.2h.01M205.4 997.5h.01M170.0 1007.6h.01M157.9 1000.2h.01M174.1 1005.4h.01M206.5 1000.4h.01M163.3 1027.2h.01M177.3 1024.2h.01M188.0 1021.8h.01M169.6 995.6h.01M194.8 1008.9h.01M183.5 1017.3h.01M194.5 1000.8h.01M172.3 1027.6h.01M181.8 1001.3h.01M187.6 1000.1h.01M195.6 991.0h.01M198.7 1012.9h.01M171.8 1028.5h.01M166.8 999.4h.01M155.7 1012.2h.01M194.6 1017.6h.01M175.2 1023.0h.01M158.0 1002.1h.01M188.4 1029.6h.01M187.8 1018.2h.01M195.8 1005.8h.01M205.2 1020.3h.01M171.1 1005.7h.01M197.5 1003.9h.01M162.3 1025.6h.01M182.0 1011.0h.01M189.8 1026.9h.01M159.3 1003.4h.01M155.5 1006.5h.01M180.3 1024.8h.01M189.7 1013.4h.01M174.7 1013.2h.01M167.3 1024.5h.01M196.6 1024.3h.01M160.3 1017.3h.01M194.6 1010.2h.01M202.8 1026.8h.01M194.0 1023.5h.01M188.6 1025.9h.01M159.2 1018.7h.01M191.7 1014.8h.01M167.4 992.1h.01M186.0 1023.7h.01M167.2 998.2h.01M164.4 993.2h.01M190.2 1030.0h.01M197.3 1004.3h.01M191.5 992.3h.01M199.4 1002.9h.01M151.9 1015.5h.01M159.6 1000.8h.01M155.1 1007.9h.01M183.3 1023.0h.01M154.0 1023.8h.01M158.0 998.7h.01M187.5 1003.5h.01M170.5 1013.0h.01M164.1 1022.4h.01M163.6 1024.3h.01M197.7 1011.7h.01M153.4 1021.7h.01M153.3 1010.3h.01M175.8 991.9h.01M187.5 1019.5h.01M185.0 1006.0h.01M180.8 1013.9h.01M164.6 1025.5h.01M208.4 1022.8h.01M206.4 1003.0h.01M207.8 992.3h.01M178.9 994.9h.01M177.5 1017.8h.01M192.0 1008.3h.01M171.1 997.2h.01M174.6 1001.1h.01M162.8 1020.0h.01M181.1 1007.6h.01M162.9 1018.6h.01M162.9 1000.4h.01M183.6 1018.5h.01M207.1 1020.5h.01M205.7 1027.7h.01M192.8 1019.3h.01M155.3 997.9h.01M152.4 1025.3h.01M192.8 1015.6h.01M166.7 1004.1h.01M161.0 1015.7h.01M208.1 1002.0h.01M154.2 996.6h.01M171.9 1026.8h.01M197.5 1008.3h.01M157.5 993.7h.01M160.5 1021.7h.01M178.5 1030.6h.01M203.6 1022.4h.01M178.8 1023.6h.01M159.0 993.8h.01M183.8 1010.5h.01M163.6 999.8h.01M152.9 1027.2h.01M192.1 1028.7h.01M207.5 1007.5h.01M193.4 1005.3h.01M197.9 1024.4h.01M159.3 989.8h.01M163.9 1013.7h.01M173.3 989.7h.01M198.9 1022.1h.01M178.1 991.1h.01M202.3 1011.6h.01M155.7 1002.8h.01M187.2 1026.2h.01M179.3 1016.0h.01M163.4 999.5h.01M203.2 1005.3h.01M157.6 1014.0h.01M158.9 997.6h.01M177.7 1013.7h.01M187.9 1018.8h.01M176.7 992.1h.01M192.9 991.5h.01M178.5 1006.0h.01M190.0 1019.1h.01M165.3 1016.4h.01M191.1 1009.0h.01M159.8 1027.2h.01M185.8 991.9h.01M165.3 1030.5h.01M164.7 1005.7h.01M196.5 1023.7h.01M187.8 1020.2h.01M153.9 993.2h.01M207.2 1022.8h.01M153.9 991.3h.01M165.4 1028.1h.01M164.2 1017.3h.01M204.6 1015.9h.01M204.0 1000.3h.01M160.4 990.1h.01M194.8 993.6h.01M207.1 1018.9h.01M162.3 1023.0h.01M161.0 1010.7h.01M157.7 1022.1h.01M202.3 1027.5h.01M151.8 1024.8h.01M183.3 1023.6h.01M180.3 1015.1h.01M185.5 1022.6h.01M156.1 991.6h.01M182.7 1001.4h.01M174.3 989.6h.01M194.1 990.3h.01M198.9 1023.1h.01M177.8 994.4h.01M188.7 997.9h.01M176.1 993.9h.01M207.3 1012.1h.01M171.8 993.2h.01M193.2 1024.7h.01M200.0 993.5h.01M172.6 1001.9h.01M195.1 995.5h.01M186.2 1030.1h.01M195.4 989.6h.01M156.0 994.0h.01M191.1 1014.3h.01M181.3 1008.3h.01M174.9 1014.8h.01M188.6 1027.5h.01M193.4 1022.5h.01M203.6 1024.2h.01M192.5 990.6h.01M190.4 1024.7h.01M176.2 1025.9h.01M161.9 1028.6h.01M176.8 1018.8h.01M166.1 1001.8h.01M171.5 1002.8h.01M157.1 1007.8h.01M207.5 1016.6h.01M204.7 1021.1h.01M199.3 1030.8h.01M194.5 1000.7h.01M165.9 1006.5h.01M152.9 998.9h.01M202.1 1027.7h.01M170.4 1021.4h.01M195.8 1026.4h.01M196.9 1011.5h.01M157.7 1023.7h.01M169.5 1015.4h.01M172.6 1011.7h.01M206.6 996.0h.01M181.9 1016.4h.01M182.3 1028.4h.01M174.9 1027.4h.01M190.9 1029.6h.01M156.8 998.2h.01M168.1 1027.1h.01M152.5 1000.1h.01M192.4 1030.6h.01M161.7 1007.6h.01M190.8 1018.1h.01M194.1 1020.7h.01M165.8 1000.0h.01M153.3 1018.1h.01M163.6 1000.1h.01M206.6 1016.1h.01M185.3 1016.7h.01M185.7 1018.3h.01M169.0 992.0h.01M155.5 989.9h.01M172.3 995.2h.01M158.1 1009.9h.01M206.9 1018.0h.01M167.3 1021.4h.01M161.8 993.5h.01M169.0 1006.4h.01M190.9 1007.9h.01M193.1 993.3h.01M204.7 1003.6h.01M199.1 990.6h.01M198.9 998.7h.01M200.4 1022.8h.01M189.9 1000.9h.01M152.3 997.2h.01M203.2 995.9h.01M189.2 1013.8h.01M189.3 996.8h.01M159.9 993.3h.01M207.6 1005.3h.01M188.8 1013.1h.01M164.4 992.0h.01M152.5 1024.9h.01M159.1 1029.5h.01M172.4 1019.4h.01M159.6 1022.2h.01M166.0 1004.6h.01M181.5 993.9h.01M165.8 1022.5h.01M167.9 1005.2h.01M195.2 998.6h.01M162.7 998.4h.01M173.6 1004.5h.01M188.2 1009.0h.01M201.2 991.4h.01M189.5 1024.2h.01M165.1 990.5h.01M176.6 994.1h.01M177.9 1019.0h.01M157.0 994.2h.01M179.0 996.5h.01M164.8 1007.7h.01M158.4 992.1h.01M172.2 1008.9h.01M205.0 1012.4h.01M155.8 998.6h.01M194.0 1012.8h.01M201.2 1029.4h.01M200.5 993.9h.01M205.4 1011.2h.01M165.3 996.4h.01M200.9 998.2h.01M156.4 1000.4h.01M204.3 1008.5h.01M193.3 992.4h.01M177.5 1002.6h.01M163.4 1016.9h.01M172.3 994.3h.01M207.7 1009.4h.01M161.9 989.8h.01M188.9 1010.8h.01M153.1 1008.9h.01M193.8 1011.7h.01M165.0 1010.1h.01M186.1 1016.5h.01M160.0 1022.8h.01M205.5 1020.2h.01M200.5 1004.6h.01M203.1 996.9h.01M164.6 1014.2h.01M203.0 992.7h.01M164.0 990.8h.01M176.7 995.2h.01M162.6 1020.5h.01M184.9 1028.5h.01M174.6 1017.6h.01M152.4 1028.8h.01M165.0 1009.2h.01M180.8 1028.8h.01M179.7 1030.7h.01M187.0 998.3h.01M199.2 997.7h.01M208.6 1008.3h.01M164.6 1029.4h.01M170.0 1006.3h.01M171.2 1017.2h.01M153.0 1004.9h.01M160.9 1023.8h.01M151.7 1014.6h.01M166.4 1008.2h.01M183.7 1019.0h.01M159.5 999.3h.01M158.6 1029.3h.01M160.2 995.0h.01M181.4 1013.5h.01M202.1 991.7h.01M165.0 996.3h.01M185.0 1008.2h.01M175.0 1026.3h.01M189.4 1025.2h.01M206.1 1000.5h.01M205.3 1006.3h.01M154.6 1027.4h.01M157.6 990.0h.01M168.2 1001.4h.01M206.7 1025.6h.01M175.6 1011.4h.01M200.0 1023.0h.01M188.9 1010.7h.01M158.3 999.5h.01M189.1 1013.7h.01M197.3 1026.8h.01M206.5 997.3h.01M156.0 1026.7h.01M184.2 996.9h.01M191.1 1000.0h.01M165.2 1004.6h.01M181.5 1017.5h.01M155.9 1020.2h.01M187.2 1009.0h.01M189.9 1022.6h.01M152.2 1009.1h.01M190.3 1018.9h.01M188.5 996.8h.01M206.2 1022.1h.01M165.0 1007.3h.01M206.2 997.9h.01M175.0 1029.4h.01M202.9 999.0h.01M193.5 1004.3h.01M189.4 1021.3h.01M159.0 998.6h.01M163.9 1000.4h.01M153.7 995.0h.01M174.8 1006.8h.01M156.1 1013.6h.01M205.3 1013.4h.01M171.9 1018.7h.01M176.6 996.6h.01M179.1 990.0h.01M190.2 996.0h.01M172.7 1029.4h.01M195.3 1024.1h.01M188.2 1015.8h.01M191.8 1029.6h.01M162.9 1021.3h.01M168.8 1000.0h.01M198.4 1014.4h.01M200.0 1025.8h.01M185.2 997.6h.01M152.6 1011.6h.01M193.0 1000.7h.01M155.7 989.5h.01M161.6 1018.3h.01M151.9 998.9h.01M166.8 1019.0h.01M207.9 990.1h.01M158.2 1028.3h.01M206.9 995.5h.01M170.8 1011.1h.01M169.9 1006.7h.01M178.9 1000.1h.01M154.8 992.8h.01M160.9 993.1h.01M187.2 1018.3h.01M166.7 1022.3h.01M193.2 1003.5h.01M179.7 997.2h.01M204.6 1012.7h.01M154.6 995.7h.01M191.1 1005.4h.01M192.5 998.9h.01M197.1 1022.7h.01M157.1 1013.7h.01M162.6 1018.8h.01M197.4 1022.3h.01M164.9 993.2h.01M189.5 1012.9h.01M159.6 997.3h.01M184.8 993.8h.01M187.8 999.3h.01M166.4 1007.0h.01M182.0 1019.5h.01M153.5 1019.5h.01M164.3 1001.4h.01M188.1 1018.1h.01M186.7 1026.9h.01M163.3 1002.3h.01M189.4 1000.2h.01M160.7 998.7h.01M195.6 1023.8h.01M192.5 1029.3h.01M196.9 1002.2h.01M169.6 1019.4h.01M154.9 1014.7h.01" stroke="#1c2a88" stroke-width="1.0" stroke-linecap="round" fill="none" opacity="0.68"/>
<path d="M156.8 991.3h.01M180.9 995.6h.01M204.7 1025.9h.01M178.0 997.5h.01M158.5 1010.4h.01M181.4 1004.4h.01M192.5 1011.4h.01M195.8 993.7h.01M155.7 1005.4h.01M179.2 999.8h.01M189.7 998.6h.01M169.8 1009.2h.01M192.2 1021.4h.01M172.8 1007.9h.01M204.5 1028.2h.01M186.9 993.7h.01M177.6 1015.9h.01M167.6 990.9h.01M207.5 1027.2h.01M159.0 1008.7h.01M186.9 1001.8h.01M155.6 1020.6h.01M195.6 1007.5h.01M156.6 1005.7h.01M157.1 1029.5h.01M154.6 1001.3h.01M195.4 994.9h.01M157.8 992.2h.01M161.0 1011.5h.01M199.1 996.4h.01M161.6 1021.2h.01M175.9 1003.4h.01M158.7 999.4h.01M207.0 994.2h.01M166.5 1020.2h.01M202.4 1027.0h.01M178.6 1029.2h.01M186.1 1001.3h.01M178.2 1019.2h.01M193.5 994.7h.01M162.7 1029.3h.01M157.8 1023.2h.01M171.0 999.6h.01M166.2 1008.9h.01M208.1 995.5h.01M200.3 1002.7h.01M161.5 1020.4h.01M171.1 997.1h.01M175.5 1023.6h.01M200.8 1013.3h.01M152.3 1021.1h.01M186.2 1026.8h.01M205.9 1002.9h.01M200.0 1023.4h.01M166.8 1004.6h.01M173.0 1004.0h.01M173.2 993.9h.01M164.6 1027.2h.01M175.1 1015.8h.01M202.2 1020.8h.01M165.6 1027.6h.01M197.5 1030.6h.01M193.1 1020.8h.01M198.0 999.9h.01M189.0 1005.2h.01M199.5 994.9h.01M182.4 1003.3h.01M198.4 1003.7h.01M199.7 1024.7h.01M201.7 995.1h.01M205.1 1020.3h.01M190.2 1016.5h.01M154.4 1025.6h.01M182.9 1008.3h.01M171.0 1021.9h.01M196.2 1025.6h.01M163.9 1003.5h.01M165.9 993.5h.01M170.3 990.4h.01M197.0 998.8h.01M155.7 992.1h.01M193.9 997.6h.01M178.0 1006.1h.01M197.4 1029.1h.01M169.3 1015.7h.01M202.6 1008.9h.01M202.9 1019.9h.01M169.4 1025.7h.01M184.3 993.7h.01M185.1 1023.9h.01M181.2 1009.5h.01M175.4 1026.0h.01M189.6 998.0h.01M172.3 1004.4h.01M206.2 1018.3h.01M158.8 1027.4h.01M153.7 1013.9h.01M176.3 1019.2h.01M176.1 993.2h.01M181.5 1023.5h.01M196.6 1004.2h.01M164.4 1020.4h.01M197.3 998.4h.01M201.9 1030.7h.01M176.4 1005.2h.01M192.1 1028.1h.01M163.2 1001.9h.01M170.4 1019.8h.01M162.3 1012.1h.01M180.2 1017.2h.01M159.9 1029.2h.01M208.6 1012.7h.01M196.9 996.9h.01M203.5 1012.3h.01M194.9 1025.5h.01M172.3 1027.8h.01M163.5 990.3h.01M180.3 1026.8h.01M202.9 1029.1h.01M180.8 1028.2h.01M183.6 995.3h.01M187.6 1022.8h.01M175.8 1014.4h.01M166.4 1000.8h.01M175.6 1010.7h.01M178.3 993.2h.01M152.0 1003.5h.01M192.5 1020.5h.01M165.2 1000.0h.01M181.1 996.6h.01M186.0 1027.0h.01M163.2 1013.7h.01M192.7 1020.5h.01M192.2 1018.9h.01M167.2 1024.3h.01" stroke="#c02a80" stroke-width="1.1" stroke-linecap="round" fill="none" opacity="0.9"/>
</g>
<line x1="193.80" y1="1028.60" x2="203.80" y2="1028.60" stroke="#e8e8f0" stroke-width="1.1"/>
<text x="193.60" y="1026.20" font-size="4.6" font-family="Liberation Sans, Noto Sans CJK SC, sans-serif" fill="#d8d8e4" textLength="12.7" lengthAdjust="spacingAndGlyphs" >50 μm</text>
<rect x="30.50" y="1034.10" width="58.50" height="43.70" fill="#040412"/>
<g filter="url(#bl)">
<path d="M83.9 1037.1h.01M85.0 1053.5h.01M36.2 1037.8h.01M76.6 1063.4h.01M39.4 1054.3h.01M67.6 1076.9h.01M50.4 1067.2h.01M45.2 1043.3h.01M40.5 1052.2h.01M66.5 1047.7h.01M40.5 1044.1h.01M36.1 1043.0h.01M49.3 1056.1h.01M41.7 1055.1h.01M56.3 1075.9h.01M59.0 1074.7h.01M58.1 1043.2h.01M65.0 1041.0h.01M40.9 1038.0h.01M71.2 1075.6h.01M54.3 1049.8h.01M55.5 1049.7h.01M70.6 1051.4h.01M40.0 1071.3h.01M63.9 1035.2h.01M79.6 1065.6h.01M51.5 1061.4h.01M83.7 1051.8h.01M55.9 1047.5h.01M62.8 1062.8h.01M73.1 1074.9h.01M39.6 1050.3h.01M79.8 1068.2h.01M64.9 1063.4h.01M50.6 1074.7h.01M62.6 1051.8h.01M41.7 1039.8h.01M82.4 1068.6h.01M32.8 1048.5h.01M58.6 1055.8h.01M52.0 1072.6h.01M51.2 1057.3h.01M84.2 1061.8h.01M58.4 1048.9h.01M53.3 1060.5h.01M76.0 1045.9h.01M52.4 1051.2h.01M51.9 1073.3h.01M62.0 1046.5h.01M50.2 1069.5h.01M40.4 1063.9h.01M32.5 1043.0h.01M34.7 1068.8h.01M39.7 1044.5h.01M34.6 1046.0h.01M73.0 1065.2h.01M83.1 1074.8h.01M62.6 1073.7h.01M36.4 1073.8h.01M56.0 1043.0h.01M73.9 1071.0h.01M53.2 1038.8h.01M81.0 1066.6h.01M65.3 1076.0h.01M33.5 1037.3h.01M38.4 1035.8h.01M71.6 1061.4h.01M37.7 1041.7h.01M41.6 1060.5h.01M69.6 1075.7h.01M51.8 1076.1h.01M56.0 1051.4h.01M45.7 1044.7h.01M86.8 1076.8h.01M71.5 1042.3h.01M41.5 1041.3h.01M51.3 1065.9h.01M34.7 1057.2h.01M70.0 1036.3h.01M56.3 1068.2h.01M64.1 1053.9h.01M81.5 1060.2h.01M50.5 1051.6h.01M85.0 1071.1h.01M83.4 1058.5h.01M39.4 1042.3h.01M53.1 1064.0h.01M31.6 1068.7h.01M76.0 1056.6h.01M31.6 1068.5h.01M54.9 1063.1h.01M63.7 1065.6h.01M54.6 1075.3h.01M85.7 1074.0h.01M66.3 1048.2h.01M52.7 1046.2h.01M82.7 1068.3h.01M76.1 1069.5h.01M87.7 1063.9h.01M49.4 1066.8h.01M46.2 1060.6h.01M40.3 1071.0h.01M59.1 1046.5h.01M83.8 1038.4h.01M84.2 1066.8h.01M39.8 1066.9h.01M63.9 1073.1h.01M64.7 1052.9h.01M84.4 1038.6h.01M75.5 1039.2h.01M47.0 1039.7h.01M80.9 1053.5h.01M72.6 1045.7h.01M72.9 1062.2h.01M36.9 1055.7h.01M72.4 1043.9h.01M68.5 1046.6h.01M52.4 1073.6h.01M85.0 1076.9h.01M55.6 1059.0h.01M77.3 1066.8h.01M57.3 1071.3h.01M54.1 1074.9h.01M58.2 1039.9h.01M73.9 1041.0h.01M70.0 1037.2h.01M87.5 1057.7h.01M73.4 1040.4h.01M67.5 1050.8h.01M45.5 1069.2h.01M33.2 1055.0h.01M36.2 1070.7h.01M82.1 1036.3h.01M57.7 1054.6h.01M72.2 1065.6h.01M50.8 1074.2h.01M41.8 1040.7h.01M77.7 1040.0h.01M41.9 1056.0h.01M50.4 1041.8h.01M84.2 1054.9h.01M76.0 1045.4h.01M83.2 1044.2h.01M82.9 1060.7h.01M86.6 1067.4h.01M67.2 1057.3h.01M79.9 1053.6h.01M36.9 1073.4h.01M77.1 1063.6h.01M73.7 1044.7h.01M57.7 1069.5h.01M86.0 1073.8h.01M40.4 1063.7h.01M62.8 1052.0h.01M40.8 1040.7h.01M58.1 1055.7h.01M46.5 1050.4h.01M62.8 1067.0h.01M64.8 1041.7h.01M81.7 1050.4h.01M85.9 1076.2h.01M39.3 1059.4h.01M86.3 1051.1h.01M62.5 1048.1h.01M32.9 1043.5h.01M38.4 1046.9h.01M67.1 1058.6h.01M85.3 1063.8h.01M51.9 1074.9h.01M67.4 1057.8h.01M80.4 1063.1h.01M51.8 1060.4h.01M48.4 1075.7h.01M45.2 1075.9h.01M35.0 1035.3h.01M62.8 1043.6h.01M60.2 1039.9h.01M78.9 1063.1h.01M70.2 1073.9h.01M87.8 1063.5h.01M71.9 1035.0h.01M34.1 1052.9h.01M86.4 1048.1h.01M63.6 1035.3h.01M55.0 1072.9h.01M64.8 1069.6h.01M32.0 1043.4h.01M41.5 1069.9h.01M37.1 1074.1h.01M46.5 1072.0h.01M60.6 1048.5h.01M86.3 1052.0h.01M71.0 1037.7h.01M78.6 1076.2h.01M37.6 1066.3h.01M46.7 1041.1h.01M52.0 1062.8h.01M85.6 1076.7h.01M87.8 1061.1h.01M68.5 1041.7h.01M72.6 1058.1h.01M51.7 1072.8h.01M45.8 1040.9h.01M40.3 1041.2h.01M64.8 1068.6h.01M40.4 1056.1h.01M64.0 1058.5h.01M54.8 1057.8h.01M32.2 1037.3h.01M55.3 1044.9h.01M74.4 1045.1h.01M78.2 1045.1h.01M36.6 1055.0h.01M53.4 1049.0h.01M74.8 1044.3h.01M69.4 1070.0h.01M57.1 1056.1h.01M83.9 1060.3h.01M41.6 1037.8h.01M36.0 1048.9h.01M36.4 1062.2h.01M55.4 1047.9h.01M60.4 1074.3h.01M45.2 1041.4h.01M48.7 1048.6h.01M83.1 1064.6h.01M55.7 1041.9h.01M33.9 1040.1h.01M79.5 1062.2h.01M40.2 1061.2h.01M34.6 1056.2h.01M50.4 1039.2h.01M73.5 1065.1h.01M60.4 1042.0h.01M69.4 1053.1h.01M68.9 1038.8h.01M82.7 1035.1h.01M44.0 1051.7h.01M42.6 1038.6h.01M70.4 1076.7h.01M50.4 1046.1h.01M69.5 1044.3h.01M54.1 1063.9h.01M55.8 1041.5h.01M35.3 1057.8h.01M87.7 1073.6h.01M37.0 1056.0h.01M59.1 1043.1h.01M69.4 1055.8h.01M77.3 1047.2h.01M84.4 1069.2h.01M58.2 1040.8h.01M58.8 1040.2h.01M70.3 1064.3h.01M64.2 1076.0h.01M33.9 1065.0h.01M76.9 1039.7h.01M49.6 1037.2h.01M64.5 1065.3h.01M51.1 1064.2h.01M52.2 1064.9h.01M47.1 1076.1h.01M56.2 1035.1h.01M36.5 1065.5h.01M80.5 1061.7h.01M40.1 1071.6h.01M72.1 1039.8h.01M53.0 1063.2h.01M31.5 1036.7h.01M51.4 1071.7h.01M88.0 1048.3h.01M83.0 1068.0h.01M80.5 1059.7h.01M86.5 1062.0h.01M85.2 1058.7h.01M42.5 1056.7h.01M58.8 1049.1h.01M52.6 1056.4h.01M64.8 1044.3h.01M47.1 1056.1h.01M60.0 1052.5h.01M69.1 1042.7h.01M61.6 1046.5h.01M75.1 1064.5h.01M75.7 1056.7h.01M45.5 1073.9h.01M60.4 1050.7h.01M47.8 1051.8h.01M71.6 1069.4h.01M58.8 1065.7h.01M43.4 1053.9h.01M51.7 1047.8h.01M51.8 1066.7h.01M73.0 1043.6h.01M44.6 1067.9h.01M68.5 1063.4h.01M67.4 1064.1h.01M46.8 1037.5h.01M51.8 1036.3h.01M86.0 1057.0h.01M69.4 1075.6h.01M77.1 1044.6h.01M50.5 1039.5h.01M76.6 1065.9h.01M59.0 1050.4h.01M46.7 1055.4h.01M71.8 1072.6h.01M79.6 1071.4h.01M56.3 1052.6h.01M49.2 1075.9h.01M41.7 1041.5h.01M47.3 1073.7h.01M79.8 1048.9h.01M79.8 1072.4h.01M55.6 1043.0h.01M75.3 1050.7h.01M38.1 1072.9h.01M56.3 1051.6h.01M65.2 1045.6h.01M32.5 1051.3h.01M52.9 1035.4h.01M52.5 1066.9h.01M50.2 1063.5h.01M66.8 1042.8h.01M32.5 1063.3h.01M66.1 1047.3h.01M42.7 1070.9h.01M83.0 1044.7h.01M64.6 1059.1h.01M49.6 1036.4h.01M49.8 1062.0h.01M65.6 1056.4h.01M38.3 1043.9h.01M49.0 1052.4h.01M52.0 1072.9h.01M37.9 1076.4h.01M45.0 1071.0h.01M45.2 1059.6h.01M52.8 1036.5h.01M76.6 1069.0h.01M46.6 1067.6h.01M58.6 1076.5h.01M34.4 1050.9h.01M44.3 1061.2h.01M75.6 1070.4h.01M62.5 1051.2h.01M76.8 1039.3h.01M46.1 1066.6h.01M56.4 1076.7h.01M36.5 1054.3h.01M43.4 1035.0h.01M36.6 1038.7h.01M52.3 1053.1h.01M60.2 1047.1h.01M71.2 1056.6h.01M87.2 1042.0h.01M60.4 1055.7h.01M52.5 1071.2h.01M43.2 1071.8h.01M51.7 1049.0h.01M66.3 1058.6h.01M47.5 1038.5h.01M85.7 1050.5h.01M37.8 1062.5h.01M61.6 1048.7h.01M50.0 1070.5h.01M50.6 1052.5h.01M85.7 1050.1h.01M54.2 1041.7h.01M69.0 1062.9h.01M56.7 1052.0h.01M44.5 1068.2h.01M57.3 1069.9h.01M52.6 1065.8h.01M32.9 1044.1h.01M86.0 1063.6h.01M69.7 1055.8h.01M58.2 1043.2h.01M41.1 1062.1h.01M70.8 1045.8h.01M68.0 1040.6h.01M66.2 1042.1h.01M60.3 1048.1h.01M62.6 1040.5h.01M58.8 1060.9h.01M39.0 1047.9h.01M69.9 1057.9h.01M66.4 1067.7h.01M63.8 1044.3h.01M56.5 1069.8h.01M63.5 1066.6h.01M52.0 1053.8h.01M86.5 1069.5h.01M68.4 1039.4h.01M66.1 1036.3h.01M84.4 1075.8h.01M72.7 1046.2h.01M79.4 1042.4h.01M78.4 1056.8h.01M32.2 1072.4h.01M56.3 1069.9h.01M70.5 1057.3h.01M80.4 1043.4h.01M82.4 1049.2h.01M32.8 1049.1h.01M35.1 1037.9h.01M66.8 1040.0h.01M40.4 1047.2h.01M47.2 1073.6h.01M82.8 1071.5h.01M87.6 1053.4h.01M76.6 1046.7h.01M84.0 1069.0h.01M73.0 1044.5h.01M36.5 1073.8h.01M62.7 1060.7h.01M80.3 1040.9h.01M71.1 1054.4h.01M76.0 1054.1h.01M42.5 1075.2h.01M47.3 1066.3h.01M78.6 1045.3h.01M70.8 1051.6h.01M44.0 1044.0h.01M85.6 1050.4h.01M60.3 1056.0h.01M32.8 1066.6h.01M73.7 1071.8h.01M51.6 1043.7h.01M51.1 1065.7h.01M68.7 1052.0h.01M61.2 1041.4h.01M83.6 1054.8h.01M60.1 1068.0h.01M42.6 1065.3h.01M51.4 1069.1h.01M36.7 1046.5h.01M67.5 1055.2h.01M52.7 1059.3h.01M43.7 1053.3h.01M31.4 1068.5h.01M45.7 1069.9h.01M62.7 1060.2h.01M66.9 1040.2h.01M75.5 1047.2h.01M80.4 1068.0h.01M69.9 1069.2h.01M56.1 1063.2h.01M85.5 1042.9h.01M37.0 1052.2h.01M60.3 1041.2h.01M43.9 1071.4h.01M53.4 1041.2h.01M41.7 1059.2h.01M42.1 1054.9h.01M61.9 1053.4h.01M60.0 1070.1h.01M32.3 1074.1h.01M42.6 1036.5h.01M75.0 1058.9h.01M61.9 1044.1h.01M75.7 1047.8h.01M72.7 1044.5h.01M63.9 1062.2h.01M52.4 1055.1h.01M35.0 1062.0h.01M70.6 1041.4h.01M62.6 1065.8h.01M37.1 1070.2h.01M80.8 1037.0h.01M45.4 1038.4h.01M45.7 1038.5h.01M59.1 1045.4h.01M48.4 1054.3h.01M52.4 1068.1h.01M72.4 1039.7h.01M44.0 1035.2h.01M50.0 1039.5h.01M71.0 1067.8h.01M88.0 1043.7h.01M33.4 1066.8h.01M54.7 1074.1h.01M53.6 1048.1h.01M35.4 1074.8h.01M60.4 1053.5h.01M56.2 1067.3h.01M78.6 1054.9h.01M41.4 1052.0h.01M82.0 1052.1h.01M68.9 1058.5h.01M57.6 1059.1h.01M45.2 1058.4h.01M80.5 1038.3h.01M52.3 1072.0h.01M87.0 1035.5h.01M67.0 1061.5h.01M79.3 1054.7h.01M38.8 1047.5h.01M71.9 1065.6h.01M42.9 1062.0h.01M68.7 1062.6h.01M32.5 1053.5h.01M49.8 1060.0h.01M50.5 1040.3h.01M69.4 1047.0h.01M76.3 1047.8h.01M62.4 1068.9h.01M37.9 1065.7h.01M35.2 1074.3h.01M32.7 1065.4h.01M52.3 1042.5h.01M53.8 1056.0h.01M54.9 1040.1h.01M61.0 1047.5h.01M86.3 1051.0h.01M56.1 1044.5h.01M86.4 1048.4h.01M68.1 1070.0h.01M53.7 1066.7h.01M47.2 1039.5h.01M33.7 1053.8h.01M81.0 1043.4h.01M56.4 1067.0h.01M47.0 1041.3h.01M60.8 1052.8h.01M84.7 1072.7h.01M44.8 1058.5h.01M55.0 1036.3h.01M56.6 1073.4h.01M48.5 1059.6h.01M71.7 1037.6h.01M83.9 1039.5h.01M48.5 1065.0h.01M32.4 1050.7h.01M38.5 1054.8h.01M32.2 1041.3h.01M44.0 1038.3h.01M36.5 1043.1h.01M60.8 1040.7h.01M78.0 1052.5h.01M45.6 1045.0h.01M79.1 1036.9h.01M73.5 1039.0h.01M85.0 1052.1h.01M65.3 1071.2h.01M37.0 1037.6h.01M70.8 1059.6h.01M72.3 1046.6h.01M59.6 1042.8h.01M56.2 1046.8h.01M64.6 1047.5h.01M46.9 1061.9h.01M36.2 1068.6h.01M59.5 1044.5h.01M37.8 1056.3h.01M60.0 1065.2h.01M52.6 1052.3h.01M82.1 1046.4h.01M87.1 1072.5h.01M87.6 1074.6h.01M45.9 1069.2h.01M66.1 1043.5h.01M88.1 1062.2h.01M77.4 1058.4h.01M35.8 1071.2h.01M41.3 1045.8h.01M66.4 1043.1h.01M57.6 1064.9h.01M36.8 1062.7h.01M37.2 1054.9h.01M68.3 1063.8h.01M33.8 1042.9h.01M85.9 1051.4h.01M55.5 1050.7h.01M70.9 1066.1h.01M68.3 1051.8h.01M63.7 1056.6h.01M42.0 1074.9h.01M86.2 1067.6h.01M87.8 1054.5h.01M79.0 1045.0h.01M73.6 1065.0h.01M84.7 1070.0h.01M81.3 1046.2h.01M76.1 1054.9h.01M49.1 1050.4h.01M76.8 1070.4h.01M79.4 1063.1h.01M41.0 1041.5h.01M63.6 1043.8h.01M50.5 1039.2h.01M40.1 1065.1h.01M44.0 1070.6h.01M50.0 1070.6h.01M48.5 1046.2h.01M53.8 1035.4h.01M56.1 1050.9h.01M32.0 1071.2h.01M52.6 1034.9h.01M85.9 1044.5h.01" stroke="#2232a0" stroke-width="1.0" stroke-linecap="round" fill="none" opacity="0.72"/>
</g>
<line x1="73.40" y1="1074.60" x2="83.40" y2="1074.60" stroke="#e8e8f0" stroke-width="1.1"/>
<text x="73.20" y="1072.20" font-size="4.6" font-family="Liberation Sans, Noto Sans CJK SC, sans-serif" fill="#d8d8e4" textLength="12.7" lengthAdjust="spacingAndGlyphs" >50 μm</text>
<rect x="90.90" y="1034.10" width="58.40" height="43.70" fill="#080304"/>
<g filter="url(#bl)">
<path d="M106.1 1035.9h.01M97.4 1064.8h.01M124.8 1056.1h.01M105.7 1047.0h.01M146.8 1050.6h.01M147.9 1072.2h.01M98.8 1070.6h.01M92.9 1064.8h.01M137.7 1064.2h.01M122.9 1069.1h.01M100.5 1057.6h.01M106.8 1051.7h.01M102.6 1064.7h.01M124.3 1067.7h.01M127.4 1060.1h.01M144.1 1069.1h.01M123.9 1048.6h.01M144.4 1050.5h.01M97.5 1048.9h.01M131.8 1074.1h.01M128.4 1062.8h.01M144.9 1067.6h.01M117.0 1054.3h.01M134.8 1048.3h.01M97.9 1061.0h.01M137.6 1045.4h.01M130.5 1072.5h.01M99.0 1040.6h.01M119.7 1049.0h.01M145.6 1076.9h.01M117.0 1068.3h.01M127.6 1042.2h.01M146.9 1042.2h.01M96.0 1054.0h.01M92.7 1055.1h.01M115.1 1075.1h.01M115.2 1070.7h.01M136.0 1059.6h.01M105.2 1047.7h.01M119.6 1051.5h.01M128.4 1056.2h.01M110.0 1060.4h.01M148.3 1043.4h.01M110.8 1035.4h.01M97.0 1037.2h.01M115.7 1070.1h.01M131.3 1075.6h.01M139.2 1059.6h.01M124.7 1035.4h.01M113.5 1045.9h.01M127.0 1037.7h.01M122.5 1050.7h.01M119.6 1051.9h.01M97.5 1065.7h.01M137.2 1060.1h.01M98.3 1060.1h.01M141.2 1076.4h.01M134.8 1036.8h.01M141.6 1062.9h.01M107.4 1073.6h.01M138.6 1072.6h.01M105.8 1059.2h.01M113.2 1047.4h.01M134.9 1060.9h.01M110.5 1057.8h.01M144.4 1058.8h.01M143.6 1058.7h.01M148.1 1036.1h.01M117.8 1058.2h.01M133.0 1075.7h.01M127.1 1055.0h.01M127.7 1057.4h.01M131.7 1074.8h.01M92.5 1048.4h.01M141.5 1037.4h.01M136.6 1036.2h.01M128.5 1068.6h.01M105.2 1050.9h.01M104.6 1064.6h.01M121.7 1060.4h.01M110.2 1059.6h.01M145.9 1067.7h.01M145.8 1045.3h.01M121.0 1051.1h.01M111.4 1068.7h.01M101.6 1058.4h.01M135.7 1074.3h.01M92.8 1046.3h.01M119.7 1074.3h.01M101.0 1070.3h.01M114.3 1058.0h.01M144.4 1037.6h.01M110.4 1041.5h.01M99.3 1047.7h.01M131.5 1059.3h.01M98.6 1068.6h.01M120.5 1040.9h.01M138.3 1069.5h.01M104.0 1074.5h.01M137.7 1044.5h.01M91.8 1071.4h.01M138.6 1039.0h.01M135.2 1067.4h.01M127.7 1069.9h.01M147.6 1048.7h.01M139.1 1073.7h.01M109.5 1063.7h.01M130.6 1070.6h.01M123.9 1046.5h.01M106.0 1057.8h.01M99.4 1071.1h.01M142.2 1045.1h.01M131.3 1063.2h.01M98.6 1067.7h.01M135.2 1047.8h.01M97.3 1046.8h.01M135.5 1054.5h.01M138.0 1041.6h.01M97.7 1049.6h.01M141.7 1041.7h.01M95.9 1066.6h.01M96.9 1063.0h.01M96.4 1045.3h.01M129.4 1071.7h.01M114.9 1053.8h.01M93.5 1049.2h.01M105.4 1068.1h.01M132.3 1067.9h.01M121.9 1064.3h.01M98.9 1051.1h.01M108.3 1046.8h.01M133.7 1043.9h.01M110.2 1046.8h.01M140.8 1061.8h.01M119.0 1050.9h.01M144.0 1074.4h.01M117.2 1058.8h.01M140.7 1045.7h.01M106.4 1039.2h.01M120.2 1067.3h.01M100.6 1053.1h.01M148.0 1055.2h.01M113.4 1070.2h.01M142.4 1050.7h.01M98.7 1061.7h.01M133.8 1073.8h.01M129.2 1047.9h.01M120.9 1047.0h.01M117.0 1054.6h.01M143.5 1073.0h.01M144.3 1055.0h.01M146.5 1040.7h.01M144.0 1061.9h.01M141.3 1052.3h.01M148.0 1036.0h.01M139.9 1069.4h.01M113.0 1069.8h.01M103.8 1066.6h.01M118.3 1052.2h.01M102.9 1068.6h.01M133.2 1038.6h.01M147.3 1044.2h.01M113.0 1052.4h.01M124.4 1072.4h.01M145.4 1061.6h.01M112.5 1039.4h.01M95.6 1056.7h.01M124.8 1053.7h.01M147.5 1052.3h.01M111.6 1052.5h.01" stroke="#b8222c" stroke-width="1.1" stroke-linecap="round" fill="none" opacity="0.85"/>
</g>
<line x1="133.70" y1="1074.60" x2="143.70" y2="1074.60" stroke="#e8e8f0" stroke-width="1.1"/>
<text x="133.50" y="1072.20" font-size="4.6" font-family="Liberation Sans, Noto Sans CJK SC, sans-serif" fill="#d8d8e4" textLength="12.7" lengthAdjust="spacingAndGlyphs" >50 μm</text>
<rect x="150.90" y="1034.10" width="58.50" height="43.70" fill="#05040f"/>
<g filter="url(#bl)">
<path d="M161.5 1074.4h.01M185.3 1057.7h.01M175.9 1045.4h.01M169.6 1055.7h.01M177.1 1076.1h.01M183.7 1043.6h.01M154.8 1041.6h.01M171.4 1067.8h.01M202.3 1044.9h.01M196.1 1053.5h.01M182.3 1057.3h.01M154.1 1037.7h.01M189.7 1063.9h.01M173.3 1073.6h.01M198.4 1047.6h.01M155.5 1058.2h.01M188.9 1044.3h.01M154.2 1055.4h.01M153.6 1065.9h.01M187.3 1046.7h.01M177.1 1044.7h.01M162.3 1042.5h.01M198.1 1054.0h.01M192.4 1049.5h.01M197.6 1060.0h.01M188.9 1051.4h.01M183.7 1042.9h.01M207.1 1063.2h.01M182.0 1061.8h.01M157.4 1049.0h.01M164.8 1070.4h.01M152.4 1053.6h.01M201.1 1067.8h.01M192.6 1047.6h.01M164.9 1064.6h.01M168.7 1065.3h.01M171.6 1066.9h.01M184.3 1069.2h.01M207.8 1050.8h.01M207.8 1035.3h.01M201.6 1036.2h.01M182.7 1051.2h.01M195.5 1048.2h.01M163.5 1067.9h.01M183.0 1066.7h.01M179.5 1036.4h.01M195.6 1044.1h.01M178.5 1034.9h.01M166.4 1062.9h.01M195.2 1061.7h.01M176.9 1065.7h.01M189.8 1043.6h.01M182.1 1060.1h.01M193.2 1043.2h.01M169.4 1049.3h.01M157.2 1049.6h.01M193.2 1059.2h.01M161.5 1065.7h.01M158.3 1066.5h.01M160.1 1039.0h.01M166.0 1056.6h.01M167.1 1072.1h.01M205.1 1046.8h.01M194.4 1064.2h.01M183.6 1045.6h.01M205.7 1075.2h.01M152.4 1048.8h.01M170.0 1043.3h.01M176.2 1072.7h.01M153.1 1070.1h.01M169.3 1035.5h.01M202.9 1046.4h.01M163.8 1039.8h.01M172.6 1039.9h.01M161.9 1045.4h.01M184.6 1053.7h.01M169.1 1057.0h.01M195.7 1065.4h.01M171.2 1073.5h.01M196.7 1058.6h.01M178.8 1048.8h.01M159.3 1072.2h.01M186.3 1039.1h.01M204.4 1072.2h.01M153.6 1064.4h.01M165.3 1057.4h.01M199.2 1049.7h.01M180.1 1062.9h.01M162.6 1061.3h.01M175.9 1076.3h.01M162.4 1064.8h.01M154.0 1046.4h.01M158.4 1041.2h.01M181.8 1042.2h.01M196.9 1039.0h.01M187.1 1071.1h.01M158.9 1044.1h.01M195.2 1054.7h.01M204.7 1049.1h.01M174.3 1075.2h.01M171.3 1075.6h.01M202.4 1043.3h.01M182.8 1074.5h.01M158.4 1070.6h.01M195.8 1066.4h.01M185.9 1039.1h.01M206.2 1039.2h.01M196.3 1065.3h.01M169.8 1063.7h.01M175.1 1066.5h.01M154.2 1074.2h.01M173.6 1068.7h.01M178.5 1069.1h.01M168.8 1057.8h.01M153.1 1055.5h.01M156.2 1071.1h.01M190.2 1052.8h.01M207.1 1074.8h.01M206.1 1038.4h.01M191.8 1065.5h.01M186.2 1035.6h.01M204.3 1053.4h.01M185.6 1069.2h.01M167.4 1036.1h.01M204.2 1046.3h.01M154.0 1040.7h.01M208.3 1066.0h.01M163.6 1041.1h.01M202.8 1062.9h.01M184.9 1040.4h.01M175.2 1074.7h.01M151.9 1052.5h.01M154.9 1076.9h.01M157.6 1075.1h.01M199.6 1065.7h.01M154.1 1064.2h.01M179.8 1055.6h.01M160.0 1056.5h.01M197.3 1040.4h.01M201.6 1052.6h.01M166.8 1045.0h.01M177.9 1062.2h.01M184.1 1072.4h.01M180.8 1056.5h.01M208.0 1044.0h.01M152.6 1048.7h.01M169.5 1040.1h.01M175.5 1036.4h.01M204.1 1055.3h.01M201.7 1064.3h.01M193.2 1066.8h.01M168.9 1065.6h.01M163.4 1058.3h.01M185.6 1067.6h.01M161.2 1049.4h.01M198.6 1068.8h.01M207.3 1039.9h.01M163.7 1039.4h.01M192.9 1066.3h.01M188.6 1067.7h.01M181.1 1058.6h.01M204.1 1062.2h.01M189.0 1059.7h.01M179.8 1066.8h.01M184.3 1040.3h.01M175.9 1052.6h.01M176.3 1058.5h.01M172.3 1051.4h.01M176.0 1050.5h.01M207.0 1038.7h.01M152.7 1065.3h.01M174.2 1053.8h.01M185.4 1050.4h.01M165.3 1035.5h.01M201.4 1074.4h.01M168.0 1054.5h.01M170.1 1037.4h.01M202.5 1070.1h.01M165.4 1045.6h.01M191.4 1068.4h.01M178.4 1051.2h.01M165.0 1068.5h.01M200.8 1071.0h.01M158.2 1059.9h.01M207.8 1065.0h.01M177.8 1041.0h.01M155.1 1065.7h.01M155.6 1069.0h.01M189.6 1054.8h.01M202.4 1074.2h.01M186.8 1039.1h.01M185.2 1052.6h.01M165.9 1074.0h.01M193.3 1040.0h.01M164.7 1049.3h.01M184.3 1048.6h.01M176.7 1069.1h.01M162.0 1065.2h.01M170.5 1074.7h.01M205.9 1048.7h.01M186.2 1039.6h.01M175.1 1061.1h.01M188.0 1049.3h.01M153.6 1040.1h.01M183.6 1042.1h.01M169.1 1060.9h.01M203.0 1056.6h.01M166.2 1059.6h.01M167.4 1067.8h.01M160.6 1045.9h.01M176.7 1073.1h.01M161.1 1043.0h.01M159.2 1043.9h.01M170.6 1051.5h.01M194.9 1051.9h.01M178.7 1051.6h.01M195.8 1072.9h.01M175.9 1073.7h.01M166.0 1076.1h.01M181.6 1063.6h.01M173.4 1046.3h.01M159.4 1072.2h.01M172.2 1064.3h.01M177.9 1057.1h.01M163.5 1042.4h.01M170.8 1063.6h.01M182.6 1035.0h.01M192.1 1053.1h.01M155.6 1045.8h.01M163.7 1069.5h.01M183.0 1048.7h.01M165.8 1047.2h.01M167.6 1049.5h.01M196.7 1068.1h.01M191.4 1072.2h.01M188.9 1039.7h.01M154.2 1041.8h.01M166.4 1057.1h.01M198.5 1059.6h.01M176.1 1045.1h.01M207.6 1066.6h.01M171.1 1036.8h.01M207.6 1045.7h.01M199.9 1039.8h.01M188.9 1049.9h.01M202.3 1047.4h.01M157.4 1043.3h.01M197.5 1076.1h.01M188.3 1063.6h.01M167.8 1046.4h.01M156.6 1076.4h.01M154.2 1060.7h.01M171.6 1042.8h.01M176.5 1074.1h.01M165.8 1041.8h.01M187.5 1062.6h.01M180.8 1042.5h.01M201.4 1039.6h.01M161.6 1045.1h.01M180.9 1055.0h.01M183.2 1065.5h.01M202.6 1054.6h.01M154.1 1069.9h.01M152.8 1048.3h.01M159.8 1060.3h.01M196.2 1040.3h.01M168.4 1070.7h.01M190.9 1039.5h.01M190.8 1068.3h.01M174.9 1041.4h.01M189.2 1048.3h.01M159.3 1041.8h.01M174.6 1040.2h.01M173.6 1058.1h.01M183.1 1051.9h.01M197.2 1038.6h.01M170.5 1074.2h.01M200.9 1073.7h.01M195.2 1057.5h.01M196.5 1059.0h.01M158.4 1045.7h.01M157.2 1071.7h.01M170.0 1052.1h.01M182.3 1039.1h.01M191.9 1068.4h.01M197.0 1072.0h.01M169.8 1041.0h.01M195.0 1064.1h.01M172.8 1049.4h.01M160.4 1069.9h.01M177.9 1069.1h.01M171.0 1048.4h.01M180.9 1066.3h.01M201.9 1049.8h.01M191.2 1051.9h.01M200.7 1066.9h.01M183.3 1050.2h.01M167.3 1072.2h.01M197.3 1047.7h.01M156.5 1043.1h.01M206.6 1036.6h.01M197.8 1057.2h.01M183.2 1057.6h.01M175.0 1058.4h.01M156.8 1073.6h.01M157.6 1040.7h.01M190.0 1061.9h.01M197.6 1064.1h.01M204.7 1037.1h.01M152.3 1044.9h.01M196.0 1041.3h.01M181.9 1067.3h.01M160.6 1057.1h.01M203.0 1066.4h.01M174.3 1055.1h.01M167.5 1075.3h.01M196.2 1063.5h.01M169.0 1065.7h.01M179.4 1068.5h.01M172.4 1072.0h.01M190.7 1053.9h.01M183.7 1068.8h.01M181.8 1075.3h.01M152.1 1072.7h.01M192.3 1055.5h.01M200.1 1041.2h.01M170.9 1065.0h.01M198.6 1050.6h.01M208.3 1062.2h.01M154.3 1040.1h.01M156.0 1058.9h.01M170.0 1045.9h.01M177.2 1038.2h.01M203.4 1070.2h.01M183.5 1053.6h.01M169.2 1060.3h.01M171.4 1076.0h.01M206.1 1065.5h.01M198.7 1038.1h.01M158.7 1049.4h.01M158.9 1052.7h.01M207.8 1070.0h.01M206.3 1044.2h.01M164.3 1035.9h.01M167.3 1037.3h.01M181.8 1047.6h.01M190.0 1058.5h.01M185.7 1047.5h.01M193.5 1063.9h.01M192.3 1054.7h.01M178.1 1046.9h.01M154.0 1054.5h.01M186.8 1042.7h.01M200.6 1071.9h.01M200.3 1069.3h.01M179.5 1042.3h.01M167.1 1066.0h.01M207.7 1039.6h.01M152.1 1049.8h.01M171.6 1060.1h.01M158.1 1070.4h.01M170.9 1073.2h.01M170.4 1047.8h.01M161.7 1075.6h.01M185.2 1069.7h.01M155.3 1057.8h.01M193.4 1076.3h.01M205.0 1039.3h.01M172.9 1076.9h.01M182.1 1075.2h.01M166.1 1036.0h.01M205.5 1046.0h.01M183.6 1050.1h.01M184.6 1074.2h.01M205.6 1071.8h.01M166.3 1069.5h.01M152.7 1052.4h.01M205.4 1045.6h.01M172.6 1059.4h.01M165.2 1064.7h.01M188.8 1038.9h.01M204.1 1037.9h.01M191.3 1049.6h.01M159.9 1038.2h.01M208.5 1068.6h.01M177.8 1068.4h.01M206.9 1073.9h.01M182.0 1046.5h.01M181.2 1076.2h.01M193.3 1063.1h.01M199.7 1052.1h.01M183.5 1070.6h.01M163.0 1071.1h.01M153.1 1057.5h.01M184.4 1041.1h.01M204.2 1053.4h.01M162.2 1052.2h.01M185.4 1053.0h.01M151.9 1038.8h.01M192.3 1040.5h.01M166.2 1068.9h.01M200.7 1072.0h.01M161.6 1035.1h.01M194.6 1060.1h.01M172.4 1035.7h.01M176.3 1044.9h.01M185.2 1076.2h.01M163.6 1038.1h.01M191.2 1039.4h.01M164.4 1053.4h.01M207.8 1048.6h.01M169.7 1054.9h.01M160.9 1051.8h.01M191.5 1048.5h.01M197.0 1042.7h.01M157.5 1061.3h.01M177.5 1073.6h.01M157.7 1066.3h.01M189.8 1050.5h.01M159.0 1060.7h.01M194.8 1054.8h.01M178.6 1063.8h.01M186.4 1052.7h.01M162.3 1054.4h.01M183.0 1072.6h.01M208.3 1058.3h.01M170.4 1044.3h.01M187.6 1066.0h.01M165.8 1064.0h.01M208.6 1051.4h.01M205.1 1053.3h.01M188.8 1071.4h.01M163.3 1049.4h.01M207.7 1037.6h.01M169.1 1055.0h.01M194.1 1061.4h.01M204.6 1063.1h.01M151.8 1037.9h.01M153.8 1053.1h.01M153.2 1057.0h.01M187.7 1043.4h.01M200.4 1052.3h.01M206.3 1050.0h.01M187.0 1057.7h.01M166.7 1067.7h.01M151.9 1045.4h.01M169.9 1072.0h.01M180.2 1036.4h.01M168.7 1060.6h.01M197.7 1039.5h.01M196.0 1051.3h.01M181.5 1052.6h.01M176.6 1076.6h.01M204.0 1073.5h.01M193.6 1064.4h.01M159.8 1036.4h.01M199.0 1063.2h.01M187.6 1048.1h.01M166.9 1073.7h.01M182.0 1035.7h.01M171.1 1049.6h.01M155.5 1076.1h.01M203.1 1069.2h.01M151.9 1052.5h.01M158.0 1065.5h.01M197.8 1068.1h.01M196.8 1040.0h.01M152.5 1038.8h.01M199.6 1069.8h.01M181.1 1044.8h.01M200.5 1040.0h.01M170.2 1035.0h.01M207.6 1052.4h.01M195.6 1068.6h.01M184.8 1076.5h.01M195.8 1073.9h.01M206.5 1038.4h.01M194.4 1044.4h.01M170.2 1049.3h.01M207.9 1037.4h.01M176.4 1040.3h.01M208.5 1055.8h.01M191.6 1056.8h.01M195.4 1049.1h.01M175.2 1066.2h.01M191.7 1072.3h.01M169.3 1070.6h.01M193.6 1059.0h.01M174.9 1058.8h.01M156.1 1039.0h.01M169.4 1040.1h.01M154.5 1065.1h.01M193.3 1060.8h.01M163.4 1065.3h.01M198.7 1061.0h.01M164.6 1058.7h.01M174.2 1046.2h.01M160.2 1071.3h.01M187.7 1074.2h.01M161.5 1046.0h.01M180.7 1037.4h.01M168.9 1057.6h.01M179.1 1073.2h.01M184.6 1061.7h.01M185.0 1068.0h.01M172.5 1034.9h.01M207.5 1068.3h.01M158.9 1039.6h.01M164.3 1062.6h.01M159.2 1035.7h.01" stroke="#1c2a88" stroke-width="1.0" stroke-linecap="round" fill="none" opacity="0.68"/>
<path d="M179.8 1035.2h.01M166.4 1051.0h.01M163.4 1035.0h.01M166.5 1045.2h.01M170.1 1052.4h.01M172.2 1048.5h.01M152.8 1070.1h.01M193.7 1055.7h.01M151.9 1044.7h.01M202.9 1054.1h.01M163.4 1069.4h.01M202.4 1040.0h.01M180.2 1058.5h.01M158.4 1048.3h.01M186.9 1063.3h.01M187.5 1061.0h.01M173.2 1037.8h.01M152.6 1070.2h.01M200.9 1073.0h.01M156.0 1067.3h.01M161.5 1049.5h.01M163.1 1071.1h.01M198.3 1070.0h.01M173.4 1074.3h.01M166.5 1059.1h.01M190.0 1044.7h.01M173.4 1039.1h.01M197.0 1042.7h.01M159.4 1046.6h.01M188.1 1061.7h.01M181.6 1070.8h.01M194.5 1043.7h.01M182.1 1042.0h.01M165.5 1041.1h.01M156.1 1049.6h.01M202.1 1062.5h.01M156.7 1044.1h.01M185.4 1057.2h.01M153.2 1038.9h.01M183.9 1060.2h.01M156.3 1067.4h.01M165.4 1059.7h.01M181.8 1049.2h.01M205.5 1051.6h.01M175.8 1057.6h.01M199.5 1076.5h.01M195.5 1057.6h.01M192.5 1061.8h.01M206.3 1075.8h.01M194.9 1044.0h.01M184.0 1053.4h.01M164.9 1067.8h.01M164.3 1064.8h.01M179.5 1052.9h.01M191.9 1065.4h.01M208.0 1077.0h.01M197.2 1046.0h.01M189.8 1055.8h.01M205.2 1053.7h.01M172.0 1036.0h.01M178.5 1057.3h.01M169.2 1039.3h.01M179.2 1037.9h.01M161.5 1053.6h.01M171.5 1056.0h.01M181.9 1051.3h.01M159.3 1035.7h.01M183.5 1075.7h.01M167.7 1049.7h.01M169.9 1066.2h.01M179.8 1068.4h.01M152.0 1040.5h.01M163.4 1050.4h.01M174.4 1051.1h.01M206.6 1053.4h.01M184.5 1075.5h.01M188.2 1059.9h.01M198.8 1049.0h.01M153.7 1075.2h.01M182.1 1059.4h.01M155.5 1066.3h.01M173.0 1062.0h.01M167.8 1073.6h.01M172.7 1046.5h.01M202.6 1044.3h.01M167.1 1055.4h.01M207.5 1039.8h.01M163.7 1068.4h.01M156.0 1052.3h.01M196.3 1064.9h.01M196.8 1039.8h.01M202.3 1049.9h.01M198.0 1054.8h.01M202.4 1055.0h.01M166.4 1041.2h.01M179.9 1037.0h.01M161.0 1071.7h.01M184.4 1071.2h.01M160.3 1055.1h.01M178.4 1039.4h.01M166.7 1073.7h.01M192.9 1056.3h.01M186.4 1071.1h.01M206.0 1059.9h.01M154.6 1071.6h.01M161.1 1045.0h.01M159.5 1056.5h.01M184.8 1054.3h.01M178.4 1040.8h.01M192.6 1057.5h.01M169.3 1070.0h.01M205.1 1073.7h.01M207.7 1037.8h.01M173.8 1053.8h.01M166.3 1066.2h.01M203.2 1040.7h.01M180.5 1075.6h.01M202.3 1053.9h.01M157.7 1054.1h.01M181.2 1068.0h.01M162.3 1046.7h.01M207.7 1035.4h.01M186.5 1038.9h.01M194.4 1052.7h.01M204.4 1044.3h.01M201.6 1044.5h.01M154.4 1038.5h.01M156.0 1051.3h.01M207.0 1049.8h.01M192.5 1036.3h.01M181.1 1057.6h.01M157.3 1059.3h.01M177.1 1048.7h.01M199.0 1064.0h.01M158.5 1039.4h.01M154.7 1046.0h.01M187.9 1075.7h.01M206.8 1071.3h.01M158.8 1068.2h.01M195.1 1054.8h.01M208.4 1060.1h.01M158.4 1044.0h.01M159.1 1060.6h.01M187.2 1071.0h.01M152.3 1035.3h.01M207.0 1045.9h.01M166.7 1071.4h.01M158.0 1068.3h.01M202.7 1058.6h.01M186.3 1035.1h.01M186.2 1060.7h.01M195.6 1056.7h.01M158.2 1044.3h.01M188.9 1038.2h.01M157.8 1045.5h.01M197.0 1057.9h.01M172.0 1075.5h.01M184.8 1044.9h.01M183.9 1070.9h.01M172.7 1053.2h.01M184.6 1076.5h.01M188.0 1042.5h.01M184.8 1048.4h.01M178.6 1064.9h.01M152.9 1056.3h.01M169.6 1060.1h.01M198.4 1054.6h.01M187.5 1047.1h.01M166.3 1056.4h.01M182.0 1044.3h.01" stroke="#c02a80" stroke-width="1.1" stroke-linecap="round" fill="none" opacity="0.9"/>
</g>
<line x1="193.80" y1="1074.60" x2="203.80" y2="1074.60" stroke="#e8e8f0" stroke-width="1.1"/>
<text x="193.60" y="1072.20" font-size="4.6" font-family="Liberation Sans, Noto Sans CJK SC, sans-serif" fill="#d8d8e4" textLength="12.7" lengthAdjust="spacingAndGlyphs" >50 μm</text>
<text x="61.70" y="938.00" font-size="10.7" font-family="Liberation Serif, Noto Serif CJK SC, serif" text-anchor="middle" >DAPI</text>
<text x="121.40" y="938.00" font-size="10.7" font-family="Liberation Serif, Noto Serif CJK SC, serif" text-anchor="middle" >EdU</text>
<text x="180.50" y="938.00" font-size="10.7" font-family="Liberation Serif, Noto Serif CJK SC, serif" text-anchor="middle" >Merge</text>
<text x="29.60" y="968.30" font-size="10.4" font-family="Liberation Serif, Noto Serif CJK SC, serif" text-anchor="end" >0 μM</text>
<text x="29.60" y="1018.00" font-size="10.4" font-family="Liberation Serif, Noto Serif CJK SC, serif" text-anchor="end" >10 μM</text>
<text x="29.60" y="1062.40" font-size="10.4" font-family="Liberation Serif, Noto Serif CJK SC, serif" text-anchor="end" >30 μM</text>
<text x="116.20" y="1094.50" font-size="11.8" font-family="Liberation Serif, Noto Serif CJK SC, serif" text-anchor="middle" >Ishikawa</text>
<line x1="241.40" y1="949.00" x2="241.40" y2="1049.60" stroke="#000" stroke-width="1.2"/>
<line x1="240.90" y1="1049.10" x2="329.70" y2="1049.10" stroke="#000" stroke-width="1.2"/>
<line x1="236.70" y1="949.50" x2="241.40" y2="949.50" stroke="#000" stroke-width="1.2"/>
<text x="235.70" y="952.40" font-size="8.2" font-family="Liberation Sans, Noto Sans CJK SC, sans-serif" text-anchor="end" font-weight="bold" >50</text>
<line x1="236.70" y1="969.30" x2="241.40" y2="969.30" stroke="#000" stroke-width="1.2"/>
<text x="235.70" y="972.20" font-size="8.2" font-family="Liberation Sans, Noto Sans CJK SC, sans-serif" text-anchor="end" font-weight="bold" >40</text>
<line x1="236.70" y1="989.40" x2="241.40" y2="989.40" stroke="#000" stroke-width="1.2"/>
<text x="235.70" y="992.30" font-size="8.2" font-family="Liberation Sans, Noto Sans CJK SC, sans-serif" text-anchor="end" font-weight="bold" >30</text>
<line x1="236.70" y1="1009.20" x2="241.40" y2="1009.20" stroke="#000" stroke-width="1.2"/>
<text x="235.70" y="1012.10" font-size="8.2" font-family="Liberation Sans, Noto Sans CJK SC, sans-serif" text-anchor="end" font-weight="bold" >20</text>
<line x1="236.70" y1="1029.20" x2="241.40" y2="1029.20" stroke="#000" stroke-width="1.2"/>
<text x="235.70" y="1032.10" font-size="8.2" font-family="Liberation Sans, Noto Sans CJK SC, sans-serif" text-anchor="end" font-weight="bold" >10</text>
<line x1="236.70" y1="1049.10" x2="241.40" y2="1049.10" stroke="#000" stroke-width="1.2"/>
<text x="235.70" y="1052.00" font-size="8.2" font-family="Liberation Sans, Noto Sans CJK SC, sans-serif" text-anchor="end" font-weight="bold" >0</text>
<line x1="258.80" y1="1049.10" x2="258.80" y2="1052.70" stroke="#000" stroke-width="1.2"/>
<text x="258.80" y="1060.90" font-size="8.3" font-family="Liberation Sans, Noto Sans CJK SC, sans-serif" text-anchor="middle" font-weight="bold" >0</text>
<line x1="285.30" y1="1049.10" x2="285.30" y2="1052.70" stroke="#000" stroke-width="1.2"/>
<text x="285.30" y="1060.90" font-size="8.3" font-family="Liberation Sans, Noto Sans CJK SC, sans-serif" text-anchor="middle" font-weight="bold" >10</text>
<line x1="311.70" y1="1049.10" x2="311.70" y2="1052.70" stroke="#000" stroke-width="1.2"/>
<text x="311.70" y="1060.90" font-size="8.3" font-family="Liberation Sans, Noto Sans CJK SC, sans-serif" text-anchor="middle" font-weight="bold" >30</text>
<text x="223.00" y="999.60" font-size="9.7" font-family="Liberation Sans, Noto Sans CJK SC, sans-serif" text-anchor="middle" transform="rotate(-90 223.00 999.60)" textLength="73.6" lengthAdjust="spacingAndGlyphs" stroke="#000" stroke-width="0.35">EDU positive(%)</text>
<text x="285.7" y="1075.6" font-size="6.8" font-family="Liberation Sans, Noto Sans CJK SC, sans-serif" font-weight="bold" text-anchor="middle" textLength="80.5" lengthAdjust="spacingAndGlyphs">Concentration of ChE （μM)</text>
<rect x="250.40" y="971.40" width="16.90" height="77.70" fill="#0a0a0a"/>
<line x1="256.50" y1="971.00" x2="261.20" y2="971.00" stroke="#000" stroke-width="0.7"/>
<rect x="277.30" y="964.20" width="16.20" height="84.50" fill="#8a813c" stroke="#111" stroke-width="0.9"/>
<line x1="283.00" y1="963.40" x2="287.80" y2="963.40" stroke="#000" stroke-width="0.7"/>
<rect x="303.70" y="959.10" width="16.40" height="89.60" fill="#e8434b" stroke="#111" stroke-width="0.9"/>
<line x1="309.50" y1="958.20" x2="314.30" y2="958.20" stroke="#000" stroke-width="0.7"/>
<polyline fill="none" stroke="#000" stroke-width="0.9" points="259.20,956.30 259.20,952.60 311.90,952.60 311.90,956.30"/>
<text x="286.30" y="952.90" font-size="8.6" font-family="Liberation Sans, Noto Sans CJK SC, sans-serif" text-anchor="middle" font-weight="bold" letter-spacing="1.2">***</text>
<polyline fill="none" stroke="#000" stroke-width="0.9" points="259.20,962.80 259.20,960.20 285.50,960.20 285.50,962.80"/>
<text x="273.50" y="961.70" font-size="8.6" font-family="Liberation Sans, Noto Sans CJK SC, sans-serif" text-anchor="middle" font-weight="bold" letter-spacing="1.2">***</text>
<rect x="367.90" y="942.30" width="58.50" height="43.30" fill="#040412"/>
<g filter="url(#bl)">
<path d="M412.2 963.9h.01M388.9 953.7h.01M416.3 980.7h.01M422.1 953.4h.01M372.8 969.4h.01M370.1 978.8h.01M407.3 957.1h.01M393.8 971.6h.01M377.8 958.3h.01M413.5 971.5h.01M402.0 947.4h.01M381.1 953.8h.01M370.5 969.8h.01M401.3 981.6h.01M400.2 981.4h.01M395.4 964.7h.01M384.7 962.5h.01M422.0 963.4h.01M368.8 957.8h.01M380.0 969.1h.01M397.7 962.9h.01M421.5 974.9h.01M373.7 944.4h.01M408.6 968.0h.01M405.8 964.0h.01M370.7 961.9h.01M416.2 968.2h.01M371.2 948.3h.01M420.2 965.8h.01M378.1 972.6h.01M421.3 979.2h.01M405.4 976.8h.01M373.7 962.4h.01M414.8 957.3h.01M376.9 979.2h.01M408.8 943.4h.01M372.3 966.3h.01M423.0 968.9h.01M418.6 947.5h.01M401.5 950.7h.01M387.6 949.3h.01M395.1 945.0h.01M406.1 970.1h.01M420.2 975.1h.01M373.0 979.3h.01M399.6 982.1h.01M396.7 946.5h.01M408.8 950.3h.01M424.7 965.6h.01M420.0 963.6h.01M387.3 970.7h.01M409.1 962.3h.01M384.4 960.6h.01M409.4 952.6h.01M377.7 963.3h.01M406.1 945.9h.01M384.1 983.6h.01M383.9 975.3h.01M386.1 946.7h.01M396.4 979.4h.01M412.9 945.1h.01M408.7 969.0h.01M396.1 970.8h.01M398.4 950.7h.01M408.3 948.5h.01M386.3 978.6h.01M401.0 964.4h.01M409.1 963.6h.01M390.6 966.1h.01M370.0 957.8h.01M370.9 984.6h.01M420.4 970.4h.01M377.7 978.8h.01M384.8 976.7h.01M405.7 968.3h.01M410.9 954.3h.01M416.2 965.7h.01M411.8 978.1h.01M383.2 960.2h.01M389.3 946.3h.01M418.5 971.7h.01M396.6 965.8h.01M418.8 946.0h.01M389.1 971.7h.01M399.1 963.8h.01" stroke="#2232a0" stroke-width="1.65" stroke-linecap="round" fill="none" opacity="0.72"/>
</g>
<line x1="410.80" y1="982.40" x2="420.80" y2="982.40" stroke="#e8e8f0" stroke-width="1.1"/>
<text x="410.60" y="980.00" font-size="4.6" font-family="Liberation Sans, Noto Sans CJK SC, sans-serif" fill="#d8d8e4" textLength="12.7" lengthAdjust="spacingAndGlyphs" >50 μm</text>
<rect x="428.00" y="942.30" width="58.50" height="43.30" fill="#080304"/>
<g filter="url(#bl)">
<path d="M443.5 952.4h.01M466.9 957.3h.01M482.1 980.7h.01M484.0 954.6h.01M458.1 947.5h.01M449.2 946.2h.01M457.3 983.0h.01M472.2 958.3h.01M444.5 981.9h.01M431.8 978.3h.01M477.5 946.0h.01M482.9 970.0h.01M450.9 960.8h.01M463.4 965.1h.01M478.2 980.4h.01M447.4 943.5h.01M473.1 970.1h.01M466.1 946.2h.01M433.1 980.6h.01M449.5 962.8h.01M484.2 951.2h.01M464.9 945.7h.01M460.7 973.9h.01M437.8 974.8h.01M483.9 977.5h.01M473.8 982.6h.01M469.6 965.9h.01M475.7 976.7h.01M464.6 971.0h.01M439.0 957.2h.01M447.3 978.9h.01M473.3 955.2h.01M485.4 945.6h.01M432.3 956.8h.01M433.2 982.7h.01M449.2 959.3h.01M477.4 965.3h.01M464.7 961.4h.01M455.0 983.0h.01M444.6 965.0h.01" stroke="#b8222c" stroke-width="1.75" stroke-linecap="round" fill="none" opacity="0.85"/>
</g>
<line x1="470.90" y1="982.40" x2="480.90" y2="982.40" stroke="#e8e8f0" stroke-width="1.1"/>
<text x="470.70" y="980.00" font-size="4.6" font-family="Liberation Sans, Noto Sans CJK SC, sans-serif" fill="#d8d8e4" textLength="12.7" lengthAdjust="spacingAndGlyphs" >50 μm</text>
<rect x="488.20" y="942.30" width="58.40" height="43.30" fill="#05040f"/>
<g filter="url(#bl)">
<path d="M516.2 949.0h.01M497.3 964.2h.01M534.4 961.1h.01M492.4 982.1h.01M496.8 980.0h.01M491.6 970.2h.01M497.3 954.0h.01M512.9 974.6h.01M513.7 960.5h.01M511.9 964.8h.01M504.9 982.8h.01M499.8 948.6h.01M520.2 957.7h.01M530.0 944.7h.01M527.4 958.3h.01M541.7 955.6h.01M513.6 956.3h.01M519.3 954.8h.01M527.0 960.3h.01M529.2 955.3h.01M514.9 966.3h.01M529.8 970.3h.01M513.4 946.7h.01M495.4 949.2h.01M499.4 950.7h.01M526.6 957.3h.01M540.6 952.9h.01M503.0 950.7h.01M497.2 971.5h.01M521.9 953.6h.01M535.0 971.3h.01M513.3 968.4h.01M526.3 961.5h.01M494.2 958.3h.01M542.7 958.7h.01M525.3 946.8h.01M533.0 979.1h.01M510.2 958.6h.01M518.1 953.6h.01M500.9 948.5h.01M528.0 964.3h.01M543.3 983.2h.01M538.7 982.5h.01M536.6 944.1h.01M496.4 983.8h.01M538.6 968.8h.01M524.2 961.3h.01M513.1 949.2h.01M520.1 954.6h.01M495.9 979.4h.01M521.6 979.6h.01M505.7 967.2h.01M504.7 977.7h.01M500.9 970.1h.01M520.5 956.7h.01M493.5 963.4h.01M518.7 977.2h.01M500.5 950.8h.01M506.4 976.6h.01M502.2 969.5h.01M490.8 946.5h.01M529.2 963.8h.01M495.4 962.8h.01M542.4 959.4h.01M520.6 960.6h.01M517.7 944.9h.01M539.1 967.3h.01M508.7 955.0h.01M499.6 982.0h.01M536.8 958.9h.01M523.3 966.1h.01M500.4 944.5h.01" stroke="#1c2a88" stroke-width="1.65" stroke-linecap="round" fill="none" opacity="0.68"/>
<path d="M530.8 949.9h.01M521.1 943.8h.01M490.2 949.9h.01M526.1 968.7h.01M545.3 970.6h.01M518.7 943.6h.01M543.4 963.5h.01M537.7 944.9h.01M536.4 962.9h.01M501.3 960.0h.01M493.3 967.3h.01M501.4 972.4h.01M498.9 971.9h.01M524.1 972.8h.01M543.0 955.4h.01M527.8 959.7h.01M539.8 977.5h.01M532.4 968.1h.01M503.9 981.0h.01M544.0 982.7h.01M508.2 977.4h.01M527.6 978.1h.01M534.6 962.1h.01M511.4 976.3h.01M526.2 965.6h.01M538.6 944.4h.01M489.8 962.5h.01M494.5 978.2h.01M494.0 979.9h.01M501.8 948.7h.01M531.8 971.4h.01M512.3 968.0h.01M520.4 982.7h.01M517.8 965.6h.01M515.2 960.3h.01M528.2 947.8h.01M528.3 981.8h.01M532.2 965.7h.01M509.1 947.2h.01M494.2 965.6h.01" stroke="#c02a80" stroke-width="1.75" stroke-linecap="round" fill="none" opacity="0.9"/>
</g>
<line x1="531.00" y1="982.40" x2="541.00" y2="982.40" stroke="#e8e8f0" stroke-width="1.1"/>
<text x="530.80" y="980.00" font-size="4.6" font-family="Liberation Sans, Noto Sans CJK SC, sans-serif" fill="#d8d8e4" textLength="12.7" lengthAdjust="spacingAndGlyphs" >50 μm</text>
<rect x="367.90" y="988.00" width="58.50" height="44.30" fill="#040412"/>
<g filter="url(#bl)">
<path d="M418.8 1025.8h.01M379.1 1020.8h.01M414.6 1009.3h.01M417.5 996.8h.01M387.8 1010.8h.01M410.1 1008.0h.01M385.9 1025.8h.01M391.0 1006.7h.01M381.4 1009.4h.01M408.9 1004.2h.01M406.4 1009.9h.01M369.4 1029.9h.01M385.1 1012.1h.01M423.3 997.6h.01M372.3 997.6h.01M377.4 1025.1h.01M398.1 990.6h.01M384.2 1010.6h.01M378.6 1001.9h.01M420.2 1007.8h.01M382.0 1014.3h.01M375.1 1011.0h.01M405.6 992.6h.01M399.9 1002.0h.01M411.1 1015.1h.01M420.4 1014.7h.01M379.1 996.7h.01M408.7 1023.4h.01M372.3 1006.6h.01M384.8 1008.8h.01M418.3 1012.7h.01M411.0 1021.5h.01M384.5 1015.2h.01M390.0 1009.1h.01M398.9 1017.3h.01M378.3 1024.6h.01M377.9 1002.2h.01M417.0 1030.9h.01M389.6 1029.5h.01M370.8 1029.6h.01M380.1 990.3h.01M412.1 995.7h.01M411.5 989.1h.01M375.8 1004.1h.01M373.5 1008.9h.01M388.4 1020.3h.01M396.7 1030.0h.01M416.7 996.1h.01M420.9 1027.0h.01M400.8 1011.3h.01M378.4 1002.5h.01M381.2 997.2h.01M403.6 1002.7h.01M412.4 1013.3h.01M415.8 992.5h.01M416.9 1010.5h.01M404.7 999.0h.01M408.3 1006.1h.01M409.8 1013.7h.01M376.7 1001.6h.01M411.5 989.5h.01M404.7 1012.1h.01M409.4 1002.8h.01M395.8 1009.2h.01M411.3 991.9h.01M397.7 999.9h.01M402.2 999.9h.01M380.4 998.7h.01M419.6 1004.3h.01M418.8 1020.2h.01M384.0 1012.5h.01M369.2 1028.6h.01M404.6 993.6h.01M398.2 1009.9h.01M406.9 1001.2h.01M420.5 1015.4h.01M372.8 1023.8h.01M419.0 1001.8h.01M409.2 1025.5h.01M418.9 991.8h.01M416.3 999.4h.01M414.3 1018.1h.01M395.2 1027.3h.01M414.4 1031.3h.01M423.3 1013.3h.01M410.5 1017.4h.01M391.5 1010.1h.01M397.6 998.0h.01M383.6 1024.9h.01M416.8 1018.6h.01M407.9 1010.6h.01M401.3 1017.3h.01M369.1 1007.7h.01M423.9 997.6h.01M395.3 992.1h.01M383.2 1024.0h.01M370.6 1022.9h.01M414.1 1025.9h.01M383.3 1028.6h.01M389.9 1008.0h.01M422.8 1012.1h.01M407.4 993.5h.01M369.0 1000.1h.01M374.7 1024.0h.01M382.9 1029.7h.01M407.3 997.0h.01M409.1 1002.4h.01M398.7 992.0h.01M416.1 1022.4h.01M401.8 1018.3h.01" stroke="#2232a0" stroke-width="1.65" stroke-linecap="round" fill="none" opacity="0.72"/>
</g>
<line x1="410.80" y1="1029.10" x2="420.80" y2="1029.10" stroke="#e8e8f0" stroke-width="1.1"/>
<text x="410.60" y="1026.70" font-size="4.6" font-family="Liberation Sans, Noto Sans CJK SC, sans-serif" fill="#d8d8e4" textLength="12.7" lengthAdjust="spacingAndGlyphs" >50 μm</text>
<rect x="428.00" y="988.00" width="58.50" height="44.30" fill="#080304"/>
<g filter="url(#bl)">
<path d="M448.1 994.3h.01M447.3 1020.4h.01M460.8 994.6h.01M442.5 1009.1h.01M429.6 990.7h.01M454.4 994.5h.01M479.4 994.3h.01M471.4 1022.7h.01M446.7 1011.9h.01M485.2 1015.2h.01M450.8 1030.5h.01M443.6 1029.6h.01M446.4 1006.8h.01M446.8 1016.6h.01M479.0 1018.2h.01M439.2 1031.1h.01M469.9 1010.4h.01M477.1 993.4h.01M462.8 1022.4h.01M473.0 1017.5h.01M432.4 1009.2h.01M444.1 1014.8h.01M451.4 1008.3h.01M459.4 1013.9h.01M479.5 1000.8h.01M444.4 996.7h.01M435.2 1025.1h.01M481.1 994.2h.01M449.3 1027.4h.01M478.0 1030.6h.01M485.3 1001.8h.01M432.6 999.5h.01M457.4 989.5h.01M443.2 1009.0h.01M467.6 995.4h.01M435.8 1002.9h.01M434.0 994.0h.01M434.7 1022.9h.01M478.8 990.6h.01M474.6 1024.8h.01M465.8 1001.6h.01M475.5 992.3h.01M431.4 1029.6h.01M441.4 1027.9h.01M471.7 990.8h.01M434.2 1016.4h.01M437.1 1017.2h.01M467.1 998.7h.01M455.9 997.9h.01M478.4 1015.7h.01M468.1 1015.3h.01M432.3 1026.6h.01M473.1 1010.8h.01M462.4 1009.8h.01M471.8 1011.6h.01M444.6 1010.8h.01M441.0 989.0h.01M458.4 1026.0h.01M469.7 997.7h.01M457.7 1013.7h.01" stroke="#b8222c" stroke-width="1.75" stroke-linecap="round" fill="none" opacity="0.85"/>
</g>
<line x1="470.90" y1="1029.10" x2="480.90" y2="1029.10" stroke="#e8e8f0" stroke-width="1.1"/>
<text x="470.70" y="1026.70" font-size="4.6" font-family="Liberation Sans, Noto Sans CJK SC, sans-serif" fill="#d8d8e4" textLength="12.7" lengthAdjust="spacingAndGlyphs" >50 μm</text>
<rect x="488.20" y="988.00" width="58.40" height="44.30" fill="#05040f"/>
<g filter="url(#bl)">
<path d="M521.9 1008.4h.01M517.9 1018.2h.01M539.0 1010.8h.01M533.5 1017.8h.01M495.8 999.9h.01M506.8 1003.9h.01M516.9 1001.4h.01M545.7 1020.1h.01M510.1 1018.7h.01M541.5 995.6h.01M524.7 1029.7h.01M510.3 1026.3h.01M534.7 1002.5h.01M497.2 1023.2h.01M512.6 1003.8h.01M515.3 1019.9h.01M539.8 1027.9h.01M532.5 996.3h.01M510.0 989.1h.01M500.4 1003.3h.01M499.1 1009.1h.01M496.5 1016.7h.01M512.3 999.3h.01M528.0 1002.8h.01M490.4 1024.6h.01M531.8 1026.3h.01M505.7 1000.1h.01M528.6 995.0h.01M543.9 1016.7h.01M520.1 991.0h.01M505.1 1006.9h.01M544.7 995.0h.01M522.6 992.1h.01M544.2 1020.7h.01M535.1 1020.8h.01M499.2 999.1h.01M491.2 1012.3h.01M493.6 996.8h.01M498.9 1028.1h.01M533.8 1001.0h.01M544.1 995.6h.01M497.0 1005.1h.01M534.8 993.0h.01M533.8 1012.0h.01M534.4 1003.2h.01M491.4 993.0h.01M530.1 1010.4h.01M532.4 997.3h.01M504.9 997.8h.01M537.3 1018.8h.01M497.8 1019.8h.01M491.2 1008.7h.01M503.6 1021.4h.01M529.8 1018.0h.01M500.2 990.6h.01M525.4 1018.5h.01M489.5 1024.6h.01M540.0 1004.2h.01M518.5 1016.6h.01M541.6 1016.5h.01M518.3 1021.6h.01M516.8 990.2h.01M520.1 1006.5h.01M508.0 1005.6h.01M501.6 1002.1h.01M531.4 1026.6h.01M514.9 1024.9h.01M496.1 1010.8h.01M531.3 1022.2h.01M511.0 996.0h.01M543.6 1014.8h.01M526.1 1003.6h.01M495.4 1013.2h.01M512.0 1026.8h.01M526.7 1021.1h.01M521.4 1020.9h.01M496.6 1031.3h.01M522.0 1014.3h.01M499.8 992.7h.01M529.1 1019.8h.01M526.9 999.7h.01M516.7 1021.6h.01M525.4 1027.6h.01M494.1 1021.9h.01M489.8 1015.5h.01M519.3 992.0h.01M512.8 1017.3h.01M538.3 992.1h.01M517.9 1022.8h.01M495.6 1026.9h.01M542.3 1003.4h.01M500.9 995.0h.01M501.5 1006.7h.01" stroke="#1c2a88" stroke-width="1.65" stroke-linecap="round" fill="none" opacity="0.68"/>
<path d="M529.2 1028.8h.01M520.7 1029.5h.01M513.2 1016.9h.01M489.0 1006.7h.01M490.3 994.4h.01M534.9 993.7h.01M506.0 1011.3h.01M518.8 990.1h.01M495.3 1017.7h.01M512.0 992.7h.01M516.2 1004.7h.01M545.8 990.8h.01M499.2 992.0h.01M520.3 1029.8h.01M533.2 993.6h.01M519.6 1004.1h.01M544.5 1019.0h.01M523.3 999.8h.01M513.8 1011.3h.01M510.5 1012.9h.01M494.1 1006.8h.01M545.1 1005.8h.01M517.7 1021.0h.01M535.1 1020.2h.01M510.7 1019.2h.01M500.3 1015.1h.01M489.9 997.0h.01M498.9 1003.8h.01M530.9 989.7h.01M538.8 992.7h.01M543.0 1029.3h.01M523.9 1024.7h.01M542.4 1007.9h.01M537.6 990.3h.01M533.4 1016.5h.01M533.1 995.2h.01M493.7 1011.1h.01M523.4 1018.2h.01M499.2 1013.0h.01M544.0 999.6h.01M535.6 1029.8h.01M527.2 1007.6h.01M512.8 1008.8h.01M496.1 992.0h.01M504.9 996.2h.01M540.1 1004.3h.01M538.7 1012.8h.01M540.0 1027.1h.01M529.4 1007.9h.01M502.8 1012.9h.01M506.7 1024.2h.01M491.4 1016.0h.01M508.3 1006.7h.01M519.8 1030.7h.01M545.4 1004.1h.01M543.4 1029.6h.01M518.9 1012.9h.01M500.2 1022.5h.01M516.6 1021.3h.01M541.4 1015.4h.01" stroke="#c02a80" stroke-width="1.75" stroke-linecap="round" fill="none" opacity="0.9"/>
</g>
<line x1="531.00" y1="1029.10" x2="541.00" y2="1029.10" stroke="#e8e8f0" stroke-width="1.1"/>
<text x="530.80" y="1026.70" font-size="4.6" font-family="Liberation Sans, Noto Sans CJK SC, sans-serif" fill="#d8d8e4" textLength="12.7" lengthAdjust="spacingAndGlyphs" >50 μm</text>
<rect x="367.90" y="1035.30" width="58.50" height="44.30" fill="#040412"/>
<g filter="url(#bl)">
<path d="M408.2 1059.5h.01M376.2 1055.7h.01M372.3 1043.8h.01M424.5 1052.3h.01M376.4 1054.7h.01M372.1 1062.0h.01M381.7 1045.4h.01M404.9 1075.6h.01M369.5 1066.6h.01M401.8 1056.9h.01M392.7 1036.6h.01M388.7 1058.4h.01M387.8 1078.5h.01M388.1 1072.2h.01M414.8 1070.0h.01M396.7 1057.4h.01M416.7 1041.1h.01M381.5 1036.7h.01M396.7 1055.5h.01M423.1 1075.8h.01M391.8 1057.3h.01M374.7 1068.3h.01M398.2 1043.3h.01M418.6 1037.9h.01M379.7 1056.5h.01M425.4 1042.0h.01M383.9 1069.9h.01M387.8 1075.8h.01M369.8 1046.3h.01M386.3 1072.3h.01M374.5 1064.9h.01M419.2 1077.7h.01M414.6 1038.3h.01M396.2 1045.4h.01M375.6 1046.5h.01M410.5 1060.7h.01M376.1 1048.3h.01M372.5 1075.6h.01M411.6 1056.3h.01M423.4 1077.9h.01M380.5 1047.0h.01M379.6 1062.9h.01M402.6 1058.2h.01M412.7 1058.7h.01M386.6 1064.6h.01M422.7 1038.2h.01M396.4 1042.1h.01M411.2 1054.5h.01M416.4 1064.7h.01M423.3 1060.9h.01M402.6 1077.7h.01M414.4 1050.5h.01M374.6 1075.4h.01M372.3 1075.5h.01M421.8 1064.3h.01M422.7 1062.0h.01M411.1 1061.5h.01M381.4 1039.5h.01M411.0 1055.4h.01M375.8 1060.0h.01M383.8 1047.3h.01M418.6 1062.5h.01M411.3 1071.0h.01M393.5 1055.4h.01M393.3 1051.4h.01M413.0 1073.9h.01M385.7 1066.5h.01M381.0 1036.4h.01M407.7 1069.2h.01M387.5 1078.6h.01M409.6 1049.8h.01M412.0 1072.1h.01M376.7 1075.0h.01M393.4 1047.8h.01M390.2 1058.7h.01M398.7 1048.7h.01M372.1 1063.0h.01M409.5 1065.8h.01M391.3 1072.7h.01M369.7 1041.6h.01M369.7 1059.8h.01M398.5 1045.8h.01M398.6 1036.3h.01M370.8 1077.2h.01M419.1 1039.1h.01M406.0 1057.8h.01M399.3 1072.0h.01M405.2 1076.3h.01M407.5 1075.2h.01M375.3 1071.2h.01M386.9 1075.4h.01M413.7 1077.4h.01M411.7 1052.8h.01M398.5 1069.5h.01M372.0 1059.1h.01M401.0 1066.8h.01M388.2 1062.0h.01M410.6 1052.4h.01M407.5 1074.7h.01M389.7 1058.6h.01" stroke="#2232a0" stroke-width="1.65" stroke-linecap="round" fill="none" opacity="0.72"/>
</g>
<line x1="410.80" y1="1076.40" x2="420.80" y2="1076.40" stroke="#e8e8f0" stroke-width="1.1"/>
<text x="410.60" y="1074.00" font-size="4.6" font-family="Liberation Sans, Noto Sans CJK SC, sans-serif" fill="#d8d8e4" textLength="12.7" lengthAdjust="spacingAndGlyphs" >50 μm</text>
<rect x="428.00" y="1035.30" width="58.50" height="44.30" fill="#080304"/>
<g filter="url(#bl)">
<path d="M456.3 1071.9h.01M444.2 1048.3h.01M451.1 1064.0h.01M437.6 1077.9h.01M457.4 1067.3h.01M452.3 1037.3h.01M450.7 1060.5h.01M433.9 1077.9h.01M462.2 1055.7h.01M430.4 1046.6h.01M448.0 1063.8h.01M438.7 1056.8h.01M444.2 1060.2h.01M468.0 1058.2h.01M471.5 1062.7h.01M433.6 1064.1h.01M456.3 1068.5h.01M482.1 1051.1h.01M477.2 1045.9h.01M465.8 1036.3h.01M475.7 1055.1h.01M454.7 1057.3h.01M450.0 1045.9h.01M468.2 1062.9h.01M431.9 1047.6h.01M481.8 1048.2h.01M445.5 1060.8h.01M450.0 1076.6h.01M484.7 1041.6h.01M441.6 1043.4h.01M454.1 1048.2h.01M467.2 1073.9h.01M432.9 1037.2h.01M435.2 1049.3h.01M436.4 1054.5h.01M449.5 1067.2h.01M483.8 1077.8h.01M452.7 1063.6h.01M436.3 1062.2h.01M479.1 1073.9h.01M436.8 1043.2h.01M480.1 1065.9h.01M472.2 1039.0h.01M464.0 1037.1h.01M470.7 1070.0h.01M447.1 1036.2h.01M470.5 1078.7h.01M464.1 1051.7h.01M447.5 1070.8h.01M483.9 1051.7h.01M441.4 1078.6h.01M453.1 1055.0h.01M446.5 1067.0h.01M484.7 1056.1h.01M477.5 1053.2h.01M452.8 1070.4h.01M484.0 1068.3h.01M468.9 1071.4h.01M481.1 1076.8h.01M459.0 1052.7h.01M429.2 1058.6h.01M449.0 1036.1h.01M485.3 1049.2h.01M481.8 1036.8h.01M449.3 1069.6h.01" stroke="#b8222c" stroke-width="1.75" stroke-linecap="round" fill="none" opacity="0.85"/>
</g>
<line x1="470.90" y1="1076.40" x2="480.90" y2="1076.40" stroke="#e8e8f0" stroke-width="1.1"/>
<text x="470.70" y="1074.00" font-size="4.6" font-family="Liberation Sans, Noto Sans CJK SC, sans-serif" fill="#d8d8e4" textLength="12.7" lengthAdjust="spacingAndGlyphs" >50 μm</text>
<rect x="488.20" y="1035.30" width="58.40" height="44.30" fill="#05040f"/>
<g filter="url(#bl)">
<path d="M527.2 1064.8h.01M516.7 1040.0h.01M536.2 1068.6h.01M516.1 1060.1h.01M534.7 1057.2h.01M516.0 1056.8h.01M530.8 1067.5h.01M508.0 1069.3h.01M510.3 1064.9h.01M510.4 1074.5h.01M542.4 1069.3h.01M510.7 1051.1h.01M513.6 1061.9h.01M490.9 1059.4h.01M541.7 1038.8h.01M539.6 1060.5h.01M545.7 1067.0h.01M529.8 1068.3h.01M512.9 1041.1h.01M537.5 1073.6h.01M530.0 1045.4h.01M517.4 1058.1h.01M509.7 1057.0h.01M515.0 1078.0h.01M524.6 1077.8h.01M540.6 1043.7h.01M532.8 1052.4h.01M522.9 1060.1h.01M531.0 1048.9h.01M527.5 1051.9h.01M533.4 1057.2h.01M525.5 1078.7h.01M504.9 1036.3h.01M539.9 1058.5h.01M525.7 1071.6h.01M539.6 1052.6h.01M545.1 1052.8h.01M530.3 1071.6h.01M509.6 1054.0h.01M509.8 1050.7h.01M512.4 1072.3h.01M492.4 1078.3h.01M533.9 1060.0h.01M525.5 1048.9h.01M532.4 1073.4h.01M510.7 1057.4h.01M501.4 1046.8h.01M537.4 1063.5h.01M514.4 1063.4h.01M499.5 1036.3h.01M509.3 1060.7h.01M499.5 1059.2h.01M507.5 1047.3h.01M531.0 1051.5h.01M531.2 1068.1h.01M510.3 1037.5h.01M536.9 1059.7h.01M521.9 1065.4h.01M520.2 1074.8h.01M489.5 1077.5h.01M524.0 1053.5h.01M540.5 1074.3h.01M522.9 1036.5h.01M524.4 1053.7h.01M521.6 1071.6h.01M496.5 1072.2h.01M506.6 1046.8h.01M491.1 1040.7h.01M504.2 1058.7h.01M542.4 1043.4h.01M505.4 1052.0h.01M525.4 1051.2h.01M527.0 1042.5h.01M491.5 1060.9h.01M530.1 1041.8h.01M491.7 1064.7h.01M492.7 1075.6h.01M528.2 1043.0h.01M512.3 1038.5h.01M494.0 1051.1h.01M538.8 1074.9h.01M531.8 1063.3h.01M522.2 1057.9h.01M526.3 1057.3h.01M511.6 1071.8h.01" stroke="#1c2a88" stroke-width="1.65" stroke-linecap="round" fill="none" opacity="0.68"/>
<path d="M506.1 1053.4h.01M527.6 1077.3h.01M508.6 1054.6h.01M511.8 1045.1h.01M509.2 1069.8h.01M499.7 1056.5h.01M505.1 1060.8h.01M532.9 1041.0h.01M516.6 1044.1h.01M525.7 1065.0h.01M501.6 1045.9h.01M506.2 1050.1h.01M539.7 1073.4h.01M534.0 1052.9h.01M515.0 1044.7h.01M515.1 1076.7h.01M494.2 1052.9h.01M500.1 1072.2h.01M506.1 1056.9h.01M492.0 1065.6h.01M518.2 1070.3h.01M530.0 1067.9h.01M503.9 1046.8h.01M523.0 1038.2h.01M542.2 1066.9h.01M517.0 1051.5h.01M493.4 1059.8h.01M532.9 1041.1h.01M494.6 1065.4h.01M515.7 1069.9h.01M512.4 1078.0h.01M538.6 1049.8h.01M519.5 1061.2h.01M514.6 1071.0h.01M529.1 1071.1h.01M503.4 1057.7h.01M519.9 1061.0h.01M489.9 1070.8h.01M514.4 1042.9h.01M537.6 1059.9h.01M531.1 1067.7h.01M524.4 1075.1h.01M492.2 1050.3h.01M498.3 1063.3h.01M501.5 1037.3h.01M496.7 1043.5h.01M519.7 1055.5h.01M515.4 1036.6h.01M519.0 1046.9h.01M494.2 1038.5h.01M497.6 1053.2h.01M498.5 1055.9h.01M498.3 1067.5h.01M538.8 1049.9h.01M493.1 1077.3h.01M493.8 1063.9h.01M532.0 1056.7h.01M539.6 1042.4h.01M529.9 1074.8h.01M540.0 1072.4h.01M513.8 1058.0h.01M537.2 1052.3h.01M503.5 1037.4h.01M500.6 1042.1h.01M541.8 1049.3h.01" stroke="#c02a80" stroke-width="1.75" stroke-linecap="round" fill="none" opacity="0.9"/>
</g>
<line x1="531.00" y1="1076.40" x2="541.00" y2="1076.40" stroke="#e8e8f0" stroke-width="1.1"/>
<text x="530.80" y="1074.00" font-size="4.6" font-family="Liberation Sans, Noto Sans CJK SC, sans-serif" fill="#d8d8e4" textLength="12.7" lengthAdjust="spacingAndGlyphs" >50 μm</text>
<text x="396.20" y="936.90" font-size="10.7" font-family="Liberation Serif, Noto Serif CJK SC, serif" text-anchor="middle" >DAPI</text>
<text x="454.90" y="936.90" font-size="10.7" font-family="Liberation Serif, Noto Serif CJK SC, serif" text-anchor="middle" >EdU</text>
<text x="513.70" y="936.90" font-size="10.7" font-family="Liberation Serif, Noto Serif CJK SC, serif" text-anchor="middle" >Merge</text>
<text x="363.60" y="966.80" font-size="10.4" font-family="Liberation Serif, Noto Serif CJK SC, serif" text-anchor="end" >0 μM</text>
<text x="363.60" y="1015.80" font-size="10.4" font-family="Liberation Serif, Noto Serif CJK SC, serif" text-anchor="end" >10 μM</text>
<text x="363.60" y="1059.50" font-size="10.4" font-family="Liberation Serif, Noto Serif CJK SC, serif" text-anchor="end" >30 μM</text>
<text x="465.70" y="1091.70" font-size="11.5" font-family="Liberation Serif, Noto Serif CJK SC, serif" text-anchor="middle" >KLE</text>
<line x1="585.50" y1="948.00" x2="585.50" y2="1053.80" stroke="#000" stroke-width="1.2"/>
<line x1="585.00" y1="1053.30" x2="678.90" y2="1053.30" stroke="#000" stroke-width="1.2"/>
<line x1="581.20" y1="948.50" x2="585.50" y2="948.50" stroke="#000" stroke-width="1.2"/>
<text x="580.20" y="951.30" font-size="7.9" font-family="Liberation Sans, Noto Sans CJK SC, sans-serif" text-anchor="end" font-weight="bold" >100</text>
<line x1="581.20" y1="969.30" x2="585.50" y2="969.30" stroke="#000" stroke-width="1.2"/>
<text x="580.20" y="972.10" font-size="7.9" font-family="Liberation Sans, Noto Sans CJK SC, sans-serif" text-anchor="end" font-weight="bold" >80</text>
<line x1="581.20" y1="990.40" x2="585.50" y2="990.40" stroke="#000" stroke-width="1.2"/>
<text x="580.20" y="993.20" font-size="7.9" font-family="Liberation Sans, Noto Sans CJK SC, sans-serif" text-anchor="end" font-weight="bold" >60</text>
<line x1="581.20" y1="1011.20" x2="585.50" y2="1011.20" stroke="#000" stroke-width="1.2"/>
<text x="580.20" y="1014.00" font-size="7.9" font-family="Liberation Sans, Noto Sans CJK SC, sans-serif" text-anchor="end" font-weight="bold" >40</text>
<line x1="581.20" y1="1032.30" x2="585.50" y2="1032.30" stroke="#000" stroke-width="1.2"/>
<text x="580.20" y="1035.10" font-size="7.9" font-family="Liberation Sans, Noto Sans CJK SC, sans-serif" text-anchor="end" font-weight="bold" >20</text>
<line x1="581.20" y1="1053.30" x2="585.50" y2="1053.30" stroke="#000" stroke-width="1.2"/>
<text x="580.20" y="1056.10" font-size="7.9" font-family="Liberation Sans, Noto Sans CJK SC, sans-serif" text-anchor="end" font-weight="bold" >0</text>
<line x1="603.90" y1="1053.30" x2="603.90" y2="1056.80" stroke="#000" stroke-width="1.2"/>
<text x="603.90" y="1066.00" font-size="8.8" font-family="Liberation Sans, Noto Sans CJK SC, sans-serif" text-anchor="middle" font-weight="bold" >0</text>
<line x1="631.70" y1="1053.30" x2="631.70" y2="1056.80" stroke="#000" stroke-width="1.2"/>
<text x="631.70" y="1066.00" font-size="8.8" font-family="Liberation Sans, Noto Sans CJK SC, sans-serif" text-anchor="middle" font-weight="bold" >10</text>
<line x1="659.40" y1="1053.30" x2="659.40" y2="1056.80" stroke="#000" stroke-width="1.2"/>
<text x="659.40" y="1066.00" font-size="8.8" font-family="Liberation Sans, Noto Sans CJK SC, sans-serif" text-anchor="middle" font-weight="bold" >30</text>
<text x="561.20" y="1001.20" font-size="10.2" font-family="Liberation Sans, Noto Sans CJK SC, sans-serif" text-anchor="middle" transform="rotate(-90 561.20 1001.20)" textLength="77.5" lengthAdjust="spacingAndGlyphs" stroke="#000" stroke-width="0.35">EDU positive(%)</text>
<text x="629.6" y="1075.8" font-size="6.8" font-family="Liberation Sans, Noto Sans CJK SC, sans-serif" font-weight="bold" text-anchor="middle" textLength="80" lengthAdjust="spacingAndGlyphs">Concentration of ChE （μM)</text>
<rect x="594.70" y="974.50" width="18.20" height="78.80" fill="#0a0a0a"/>
<rect x="622.90" y="970.00" width="17.30" height="82.90" fill="#8a813c" stroke="#111" stroke-width="0.9"/>
<rect x="650.70" y="963.00" width="17.30" height="89.90" fill="#ec2424" stroke="#111" stroke-width="0.9"/>
<polyline fill="none" stroke="#000" stroke-width="0.9" points="603.90,957.30 603.90,954.80 659.40,954.80 659.40,957.30"/>
<text x="631.40" y="954.70" font-size="9.2" font-family="Liberation Sans, Noto Sans CJK SC, sans-serif" text-anchor="middle" font-weight="bold" letter-spacing="1.2">***</text>
<polyline fill="none" stroke="#000" stroke-width="0.9" points="603.90,966.30 603.90,963.80 631.90,963.80 631.90,966.30"/>
<text x="617.70" y="964.30" font-size="9.2" font-family="Liberation Sans, Noto Sans CJK SC, sans-serif" text-anchor="middle" font-weight="bold" letter-spacing="1.2">**</text>
</svg>
</body></html>
